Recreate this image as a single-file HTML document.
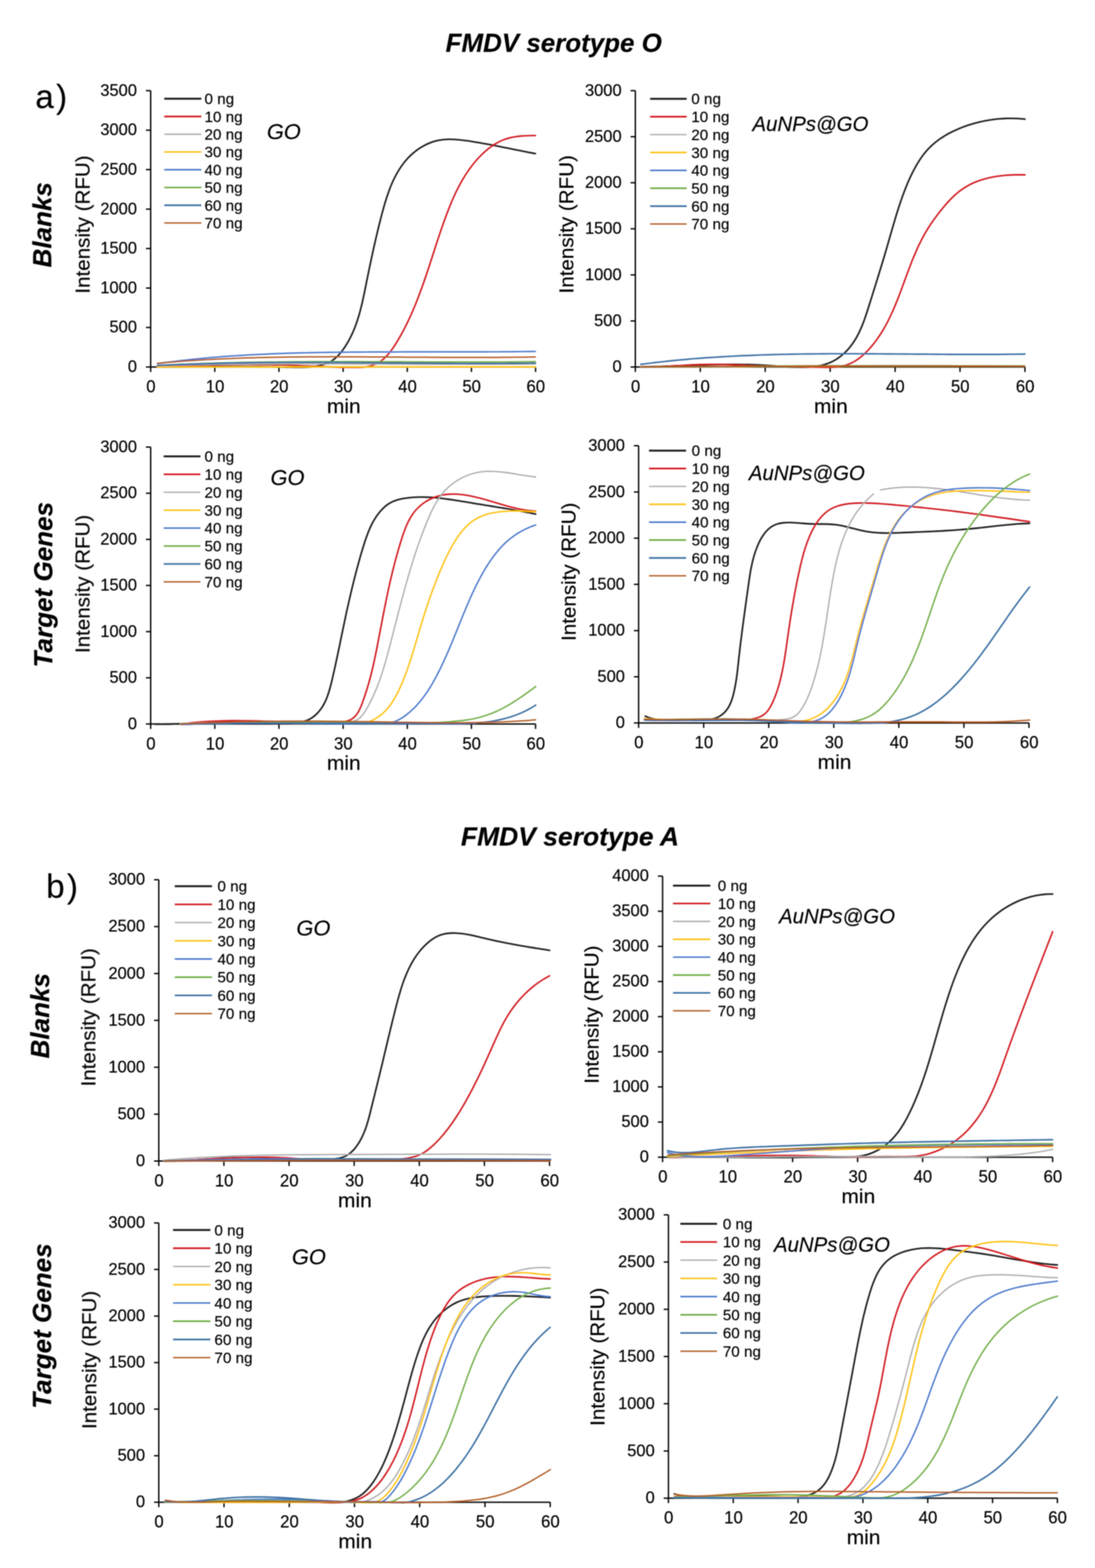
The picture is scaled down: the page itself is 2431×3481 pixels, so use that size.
<!DOCTYPE html>
<html><head><meta charset="utf-8"><title>FMDV serotype O / A</title>
<style>html,body{margin:0;padding:0;background:#fff;}svg{display:block;}text{font-family:"Liberation Sans", Arial, Helvetica, sans-serif;fill:#000;stroke:#000;stroke-width:0.35px;}</style></head><body>
<svg xmlns="http://www.w3.org/2000/svg" width="2431" height="3481" viewBox="0 0 2431 3481">
<defs><filter id="soft"><feGaussianBlur stdDeviation="1"/></filter></defs>
<rect width="2431" height="3481" fill="#fff"/>
<g filter="url(#soft)">
<text transform="translate(1229.3,115.3) scale(1.02,1)" font-size="56.5" font-weight="bold" font-style="italic" text-anchor="middle">FMDV serotype O</text>
<text transform="translate(1265.4,1876.7) scale(1.04,1)" font-size="56.5" font-weight="bold" font-style="italic" text-anchor="middle">FMDV serotype A</text>
<text x="78.5" y="239.5" font-size="73.5" letter-spacing="5">a)</text>
<text x="102.5" y="1993" font-size="73.5" letter-spacing="5">b)</text>
<text transform="translate(113.7,499) rotate(-90)" font-size="57.8" font-weight="bold" font-style="italic" text-anchor="middle">Blanks</text>
<text transform="translate(116.2,1298) rotate(-90)" font-size="57.8" font-weight="bold" font-style="italic" text-anchor="middle">Target Genes</text>
<text transform="translate(108.9,2255) rotate(-90)" font-size="57.8" font-weight="bold" font-style="italic" text-anchor="middle">Blanks</text>
<text transform="translate(113.2,2944) rotate(-90)" font-size="57.8" font-weight="bold" font-style="italic" text-anchor="middle">Target Genes</text>
<g id="A1">
<path d="M334.5,201.2 V814.8 H1189" fill="none" stroke="#000" stroke-width="3"/>
<text transform="translate(304,826.1) scale(0.975,1)" font-size="37.5" text-anchor="end">0</text>
<text transform="translate(304,738.4) scale(0.975,1)" font-size="37.5" text-anchor="end">500</text>
<text transform="translate(304,650.8) scale(0.975,1)" font-size="37.5" text-anchor="end">1000</text>
<text transform="translate(304,563.1) scale(0.975,1)" font-size="37.5" text-anchor="end">1500</text>
<text transform="translate(304,475.5) scale(0.975,1)" font-size="37.5" text-anchor="end">2000</text>
<text transform="translate(304,387.8) scale(0.975,1)" font-size="37.5" text-anchor="end">2500</text>
<text transform="translate(304,300.2) scale(0.975,1)" font-size="37.5" text-anchor="end">3000</text>
<text transform="translate(304,212.5) scale(0.975,1)" font-size="37.5" text-anchor="end">3500</text>
<text transform="translate(335,871) scale(0.99,1.04)" font-size="37.5" text-anchor="middle">0</text>
<text transform="translate(477.4,871) scale(0.99,1.04)" font-size="37.5" text-anchor="middle">10</text>
<text transform="translate(619.8,871) scale(0.99,1.04)" font-size="37.5" text-anchor="middle">20</text>
<text transform="translate(762.2,871) scale(0.99,1.04)" font-size="37.5" text-anchor="middle">30</text>
<text transform="translate(904.7,871) scale(0.99,1.04)" font-size="37.5" text-anchor="middle">40</text>
<text transform="translate(1047.1,871) scale(0.99,1.04)" font-size="37.5" text-anchor="middle">50</text>
<text transform="translate(1189.5,871) scale(0.99,1.04)" font-size="37.5" text-anchor="middle">60</text>
<path d="M324,814.8 h10.5 M324,727.1 h10.5 M324,639.5 h10.5 M324,551.8 h10.5 M324,464.2 h10.5 M324,376.5 h10.5 M324,288.9 h10.5 M324,201.2 h10.5 M334.5,814.8 v11 M476.9,814.8 v11 M619.3,814.8 v11 M761.8,814.8 v11 M904.2,814.8 v11 M1046.6,814.8 v11 M1189,814.8 v11" stroke="#000" stroke-width="3" fill="none"/>
<text transform="translate(763.2,916.8) scale(1.06,1)" font-size="44" text-anchor="middle">min</text>
<text transform="translate(199,498.4) rotate(-90) scale(1.015,1)" font-size="45" text-anchor="middle">Intensity (RFU)</text>
<text x="592.4" y="309" font-size="48.5" font-style="italic">GO</text>
<line x1="364.7" y1="219.2" x2="447" y2="219.2" stroke="#1a1a1a" stroke-width="4.2"/>
<text x="454" y="231.2" font-size="33.8">0 ng</text>
<line x1="364.7" y1="258.6" x2="447" y2="258.6" stroke="#d0141c" stroke-width="3.6"/>
<text x="454" y="270.6" font-size="33.8">10 ng</text>
<line x1="364.7" y1="298" x2="447" y2="298" stroke="#a8a8a8" stroke-width="2.8"/>
<text x="454" y="310" font-size="33.8">20 ng</text>
<line x1="364.7" y1="337.4" x2="447" y2="337.4" stroke="#ffc010" stroke-width="3.4"/>
<text x="454" y="349.4" font-size="33.8">30 ng</text>
<line x1="364.7" y1="376.8" x2="447" y2="376.8" stroke="#4a78cc" stroke-width="3.4"/>
<text x="454" y="388.8" font-size="33.8">40 ng</text>
<line x1="364.7" y1="416.2" x2="447" y2="416.2" stroke="#72ae48" stroke-width="3.6"/>
<text x="454" y="428.2" font-size="33.8">50 ng</text>
<line x1="364.7" y1="455.6" x2="447" y2="455.6" stroke="#3b6fa3" stroke-width="3.6"/>
<text x="454" y="467.6" font-size="33.8">60 ng</text>
<line x1="364.7" y1="495" x2="447" y2="495" stroke="#b05a24" stroke-width="3.0"/>
<text x="454" y="507" font-size="33.8">70 ng</text>
<g fill="none" stroke-linejoin="round" stroke-linecap="round">
<path d="M349.6,814.3 C352,814.3 359.1,814.4 363.8,814.4 C368.5,814.4 373.2,814.4 377.9,814.4 C382.6,814.5 387.3,814.5 392,814.4 C396.7,814.4 401.4,814.4 406.1,814.4 C410.7,814.4 415.4,814.4 420.1,814.3 C424.7,814.3 429.4,814.3 434,814.2 C438.7,814.2 443.3,814.2 448,814.1 C452.6,814.1 457.3,814.1 461.9,814 C466.5,814 471.2,814 475.8,813.9 C480.5,813.9 485.1,813.9 489.8,813.8 C494.4,813.8 499,813.8 503.7,813.8 C508.3,813.7 513,813.7 517.6,813.7 C522.3,813.7 526.9,813.7 531.6,813.7 C536.3,813.7 540.9,813.7 545.6,813.7 C550.3,813.7 555,813.7 559.6,813.7 C564.3,813.7 569,813.8 573.7,813.8 C578.4,813.9 583.1,813.9 587.9,814 C592.6,814 597.3,814.1 602.1,814.2 C606.8,814.3 611.6,814.4 616.3,814.5 C621.1,814.6 625.9,814.7 630.7,814.9 C635.5,815 640.3,815.2 645.1,815.3 C649.9,815.4 654.7,815.5 659.4,815.5 C664.2,815.5 668.9,815.5 673.6,815.4 C678.3,815.2 682.9,815 687.5,814.6 C692,814.3 696.5,813.8 700.9,813.1 C705.3,812.4 709.6,811.6 713.8,810.5 C718,809.3 722.1,808.1 726,806.4 C730,804.7 733.8,802.8 737.5,800.4 C741.1,798 744.6,795.2 748,792.1 C751.3,789 754.4,785.3 757.4,781.7 C760.4,778 763.3,773.9 765.9,769.9 C768.6,765.9 771.1,761.8 773.4,757.7 C775.8,753.5 777.9,749.3 780,745 C782,740.8 784,736.5 785.8,732.1 C787.6,727.8 789.2,723.4 790.8,718.9 C792.4,714.5 793.9,710 795.2,705.6 C796.6,701.1 797.9,696.5 799.2,692 C800.4,687.5 801.5,682.9 802.7,678.3 C803.8,673.7 804.8,669.2 805.8,664.6 C806.8,660 807.8,655.4 808.8,650.8 C809.7,646.2 810.6,641.6 811.6,637 C812.5,632.4 813.4,627.8 814.3,623.2 C815.3,618.7 816.2,614.1 817.1,609.6 C818,605 819,600.5 819.9,596 C820.9,591.4 821.8,586.9 822.8,582.4 C823.7,577.8 824.7,573.3 825.7,568.8 C826.7,564.3 827.6,559.8 828.6,555.3 C829.6,550.8 830.6,546.2 831.7,541.7 C832.7,537.2 833.7,532.7 834.8,528.1 C835.9,523.6 836.9,519.1 838,514.5 C839.1,510 840.2,505.5 841.3,500.9 C842.5,496.3 843.6,491.8 844.8,487.2 C845.9,482.6 847.1,478 848.3,473.4 C849.6,468.8 850.8,464.2 852.1,459.6 C853.4,455 854.7,450.4 856.2,445.9 C857.6,441.3 859,436.8 860.6,432.3 C862.1,427.8 863.7,423.3 865.4,418.9 C867.1,414.5 868.9,410.2 870.7,405.9 C872.6,401.6 874.6,397.4 876.7,393.3 C878.8,389.1 881,385.1 883.4,381.1 C885.7,377.1 888.2,373.3 890.8,369.5 C893.4,365.7 896.1,362.1 899,358.6 C901.9,355 905,351.6 908.2,348.3 C911.4,345.1 914.8,341.9 918.4,339 C921.9,336 925.6,333.2 929.4,330.6 C933.3,328 937.2,325.5 941.3,323.4 C945.3,321.2 949.5,319.2 953.8,317.5 C958,315.8 962.4,314.3 966.9,313.1 C971.3,312 975.8,311.1 980.4,310.5 C985,309.8 989.6,309.5 994.3,309.3 C998.9,309.2 1003.7,309.3 1008.4,309.5 C1013.1,309.7 1017.9,310.2 1022.6,310.7 C1027.4,311.1 1032.2,311.8 1036.9,312.5 C1041.7,313.1 1046.4,313.9 1051.1,314.7 C1055.8,315.4 1060.5,316.2 1065.2,317 C1069.8,317.9 1074.4,318.7 1079.1,319.5 C1083.7,320.4 1088.3,321.2 1092.9,322.1 C1097.4,323 1102,323.9 1106.6,324.8 C1111.1,325.7 1115.7,326.6 1120.2,327.5 C1124.8,328.4 1129.3,329.3 1133.9,330.2 C1138.4,331.1 1142.9,332.1 1147.5,333 C1152,333.9 1156.6,334.8 1161.1,335.7 C1165.7,336.6 1170.3,337.5 1174.8,338.4 C1179.4,339.3 1186.3,340.6 1188.6,341" stroke="#1a1a1a" stroke-width="3.6"/>
<path d="M349.7,813.6 C352,813.6 359.1,813.4 363.8,813.2 C368.5,813.1 373.2,813 377.9,812.8 C382.6,812.7 387.3,812.5 392.1,812.4 C396.8,812.3 401.5,812.1 406.2,812 C410.9,811.9 415.7,811.7 420.4,811.6 C425.1,811.5 429.8,811.4 434.5,811.2 C439.3,811.1 444,811 448.7,810.9 C453.4,810.8 458.2,810.7 462.9,810.6 C467.6,810.5 472.4,810.4 477.1,810.3 C481.8,810.2 486.5,810.1 491.3,810 C496,809.9 500.7,809.9 505.5,809.8 C510.2,809.7 514.9,809.7 519.6,809.6 C524.4,809.6 529.1,809.5 533.8,809.5 C538.5,809.5 543.2,809.5 548,809.4 C552.7,809.4 557.4,809.4 562.1,809.4 C566.8,809.5 571.6,809.5 576.3,809.5 C581,809.5 585.7,809.6 590.4,809.6 C595.1,809.7 599.8,809.8 604.5,809.9 C609.2,809.9 613.9,810 618.6,810.2 C623.3,810.3 628,810.4 632.7,810.5 C637.4,810.7 642.1,810.8 646.8,811 C651.5,811.2 656.2,811.3 660.9,811.5 C665.6,811.7 670.3,811.9 675,812.1 C679.7,812.3 684.4,812.5 689.1,812.7 C693.8,812.9 698.5,813.1 703.3,813.3 C708,813.5 712.7,813.7 717.5,813.9 C722.2,814.1 727,814.3 731.8,814.5 C736.6,814.7 741.4,814.9 746.2,815.1 C751,815.3 755.8,815.5 760.7,815.6 C765.5,815.7 770.4,815.6 775.2,815.6 C780.1,815.6 785,815.6 789.8,815.6 C794.6,815.6 799.4,815.7 804.1,815.3 C808.8,815 813.4,814.3 817.8,813.4 C822.2,812.4 826.5,811.3 830.6,809.7 C834.7,808.1 838.6,806.1 842.3,803.8 C846,801.5 849.5,798.7 852.9,795.7 C856.2,792.8 859.3,789.4 862.3,785.9 C865.3,782.4 868.2,778.6 871,774.8 C873.7,770.9 876.3,766.8 878.9,762.8 C881.4,758.7 883.9,754.6 886.3,750.4 C888.7,746.3 891,742.1 893.3,737.9 C895.6,733.7 897.8,729.5 899.9,725.2 C902.1,721 904.2,716.7 906.2,712.5 C908.3,708.2 910.2,703.9 912.2,699.6 C914.1,695.3 916,691 917.9,686.6 C919.7,682.3 921.5,677.9 923.3,673.6 C925,669.2 926.7,664.8 928.4,660.4 C930.1,656 931.8,651.6 933.4,647.2 C935,642.8 936.6,638.4 938.2,633.9 C939.8,629.5 941.3,625.1 942.9,620.6 C944.4,616.2 945.9,611.7 947.4,607.2 C948.9,602.8 950.4,598.3 951.9,593.8 C953.3,589.3 954.8,584.8 956.2,580.4 C957.7,575.9 959.2,571.4 960.6,566.9 C962.1,562.4 963.5,557.9 965,553.4 C966.4,548.9 967.9,544.4 969.4,539.9 C970.8,535.5 972.3,531 973.8,526.5 C975.3,522 976.8,517.5 978.3,513 C979.9,508.5 981.4,504.1 983,499.6 C984.5,495.1 986.1,490.7 987.8,486.2 C989.4,481.7 991,477.3 992.7,472.9 C994.4,468.4 996.1,464 997.9,459.6 C999.7,455.2 1001.5,450.8 1003.3,446.4 C1005.2,442.1 1007.1,437.7 1009.1,433.4 C1011.1,429.1 1013.1,424.9 1015.2,420.6 C1017.3,416.4 1019.5,412.2 1021.7,408.1 C1024,404 1026.3,399.9 1028.7,395.9 C1031.2,391.8 1033.6,387.8 1036.2,383.9 C1038.8,380 1041.5,376.2 1044.3,372.4 C1047.1,368.6 1050,364.9 1053,361.2 C1056,357.6 1059.1,354 1062.3,350.6 C1065.5,347.1 1068.9,343.7 1072.3,340.5 C1075.8,337.2 1079.3,334.1 1083,331.1 C1086.6,328.2 1090.4,325.4 1094.3,322.8 C1098.1,320.2 1102.1,317.8 1106.2,315.7 C1110.2,313.6 1114.4,311.7 1118.7,310 C1122.9,308.4 1127.3,307.1 1131.7,306 C1136.1,304.9 1140.6,304.1 1145.2,303.4 C1149.9,302.7 1154.5,302.2 1159.3,301.8 C1164.1,301.5 1168.9,301.3 1173.8,301.1 C1178.8,300.9 1186.3,300.9 1188.8,300.9" stroke="#d0141c" stroke-width="3.4"/>
<path d="M349.6,812.2 C352,812.1 359.1,811.9 363.9,811.7 C368.6,811.6 373.3,811.5 378.1,811.4 C382.8,811.2 387.6,811.1 392.3,811 C397,810.9 401.8,810.8 406.5,810.7 C411.2,810.6 416,810.5 420.7,810.4 C425.5,810.3 430.2,810.2 434.9,810.1 C439.7,810 444.4,809.9 449.2,809.8 C453.9,809.7 458.6,809.6 463.4,809.6 C468.1,809.5 472.9,809.4 477.6,809.3 C482.3,809.3 487.1,809.2 491.8,809.1 C496.6,809.1 501.3,809 506,808.9 C510.8,808.9 515.5,808.8 520.3,808.8 C525,808.7 529.7,808.7 534.5,808.6 C539.2,808.6 544,808.5 548.7,808.5 C553.4,808.4 558.2,808.4 562.9,808.4 C567.7,808.3 572.4,808.3 577.1,808.3 C581.9,808.2 586.6,808.2 591.4,808.2 C596.1,808.1 600.8,808.1 605.6,808.1 C610.3,808.1 615.1,808.1 619.8,808 C624.5,808 629.3,808 634,808 C638.8,808 643.5,808 648.2,807.9 C653,807.9 657.7,807.9 662.5,807.9 C667.2,807.9 671.9,807.9 676.7,807.9 C681.4,807.9 686.2,807.9 690.9,807.9 C695.6,807.9 700.4,807.9 705.1,807.9 C709.9,807.9 714.6,807.9 719.3,807.9 C724.1,807.9 728.8,807.9 733.6,807.9 C738.3,807.9 743.1,807.9 747.8,807.9 C752.5,807.9 757.3,808 762,808 C766.8,808 771.5,808 776.2,808 C781,808 785.7,808 790.5,808 C795.2,808 799.9,808.1 804.7,808.1 C809.4,808.1 814.2,808.1 818.9,808.1 C823.6,808.1 828.4,808.2 833.1,808.2 C837.9,808.2 842.6,808.2 847.3,808.2 C852.1,808.2 856.8,808.2 861.6,808.3 C866.3,808.3 871.1,808.3 875.8,808.3 C880.5,808.3 885.3,808.3 890,808.4 C894.8,808.4 899.5,808.4 904.2,808.4 C909,808.4 913.7,808.4 918.5,808.5 C923.2,808.5 927.9,808.5 932.7,808.5 C937.4,808.5 942.2,808.5 946.9,808.5 C951.6,808.6 956.4,808.6 961.1,808.6 C965.9,808.6 970.6,808.6 975.4,808.6 C980.1,808.6 984.8,808.6 989.6,808.6 C994.3,808.6 999.1,808.6 1003.8,808.7 C1008.5,808.7 1013.3,808.7 1018,808.7 C1022.8,808.7 1027.5,808.7 1032.2,808.7 C1037,808.7 1041.7,808.7 1046.5,808.7 C1051.2,808.7 1055.9,808.7 1060.7,808.7 C1065.4,808.6 1070.2,808.6 1074.9,808.6 C1079.6,808.6 1084.4,808.6 1089.1,808.6 C1093.9,808.6 1098.6,808.6 1103.4,808.6 C1108.1,808.5 1112.8,808.5 1117.6,808.5 C1122.3,808.5 1127.1,808.5 1131.8,808.4 C1136.5,808.4 1141.3,808.4 1146,808.4 C1150.8,808.3 1155.5,808.3 1160.2,808.3 C1165,808.2 1169.7,808.2 1174.5,808.2 C1179.2,808.1 1186.3,808 1188.7,808" stroke="#a8a8a8" stroke-width="2.8"/>
<path d="M349.7,814.7 C416.9,814.6 613.1,814.5 752.9,814.4 C892.8,814.4 1116.1,814.4 1188.7,814.4" stroke="#ffc010" stroke-width="3.2"/>
<path d="M349.6,807.3 C351.9,807 358.9,806 363.5,805.4 C368.2,804.7 372.8,804.1 377.4,803.5 C382.1,802.9 386.7,802.4 391.3,801.8 C396,801.2 400.6,800.7 405.2,800.2 C409.9,799.6 414.5,799.1 419.1,798.6 C423.8,798.1 428.4,797.7 433.1,797.2 C437.7,796.7 442.4,796.3 447,795.8 C451.6,795.4 456.3,794.9 460.9,794.5 C465.6,794.1 470.2,793.7 474.9,793.3 C479.5,792.9 484.2,792.6 488.8,792.2 C493.5,791.8 498.1,791.5 502.7,791.2 C507.4,790.8 512,790.5 516.7,790.2 C521.4,789.9 526,789.6 530.7,789.3 C535.3,789 540,788.7 544.6,788.4 C549.3,788.1 553.9,787.9 558.6,787.6 C563.2,787.4 567.9,787.1 572.5,786.9 C577.2,786.7 581.9,786.5 586.5,786.3 C591.2,786.1 595.8,785.8 600.5,785.7 C605.1,785.5 609.8,785.3 614.5,785.1 C619.1,784.9 623.8,784.8 628.4,784.6 C633.1,784.4 637.8,784.3 642.4,784.2 C647.1,784 651.8,783.9 656.4,783.7 C661.1,783.6 665.7,783.5 670.4,783.4 C675.1,783.3 679.7,783.2 684.4,783.1 C689.1,783 693.7,782.9 698.4,782.8 C703.1,782.7 707.7,782.6 712.4,782.5 C717.1,782.4 721.7,782.4 726.4,782.3 C731.1,782.2 735.7,782.2 740.4,782.1 C745.1,782 749.7,782 754.4,781.9 C759.1,781.9 763.7,781.8 768.4,781.8 C773.1,781.8 777.7,781.7 782.4,781.7 C787.1,781.6 791.8,781.6 796.4,781.6 C801.1,781.5 805.8,781.5 810.4,781.5 C815.1,781.5 819.8,781.4 824.4,781.4 C829.1,781.4 833.8,781.4 838.5,781.4 C843.1,781.3 847.8,781.3 852.5,781.3 C857.1,781.3 861.8,781.3 866.5,781.3 C871.2,781.3 875.8,781.3 880.5,781.3 C885.2,781.3 889.8,781.2 894.5,781.2 C899.2,781.2 903.9,781.2 908.5,781.2 C913.2,781.2 917.9,781.2 922.5,781.2 C927.2,781.2 931.9,781.2 936.6,781.2 C941.2,781.2 945.9,781.2 950.6,781.2 C955.3,781.2 959.9,781.2 964.6,781.2 C969.3,781.2 973.9,781.2 978.6,781.2 C983.3,781.2 987.9,781.2 992.6,781.2 C997.3,781.2 1002,781.2 1006.6,781.2 C1011.3,781.2 1016,781.2 1020.6,781.2 C1025.3,781.2 1030,781.2 1034.7,781.2 C1039.3,781.2 1044,781.2 1048.7,781.2 C1053.3,781.2 1058,781.2 1062.7,781.1 C1067.3,781.1 1072,781.1 1076.7,781.1 C1081.3,781.1 1086,781.1 1090.7,781 C1095.3,781 1100,781 1104.7,781 C1109.4,780.9 1114,780.9 1118.7,780.9 C1123.4,780.8 1128,780.8 1132.7,780.8 C1137.3,780.7 1142,780.7 1146.7,780.6 C1151.3,780.6 1156,780.5 1160.7,780.5 C1165.3,780.4 1170,780.4 1174.7,780.3 C1179.3,780.3 1186.3,780.2 1188.6,780.1" stroke="#4a78cc" stroke-width="3.2"/>
<path d="M349.6,811.3 C352,811.2 359.1,810.8 363.8,810.6 C368.6,810.3 373.3,810.1 378,809.9 C382.8,809.6 387.5,809.4 392.3,809.2 C397,809 401.7,808.8 406.5,808.6 C411.2,808.4 415.9,808.2 420.7,808 C425.4,807.8 430.2,807.7 434.9,807.5 C439.6,807.3 444.4,807.2 449.1,807 C453.8,806.8 458.6,806.7 463.3,806.5 C468.1,806.4 472.8,806.2 477.5,806.1 C482.3,806 487,805.8 491.7,805.7 C496.5,805.6 501.2,805.5 506,805.3 C510.7,805.2 515.4,805.1 520.2,805 C524.9,804.9 529.7,804.8 534.4,804.7 C539.1,804.6 543.9,804.5 548.6,804.4 C553.4,804.3 558.1,804.2 562.8,804.2 C567.6,804.1 572.3,804 577.1,803.9 C581.8,803.9 586.5,803.8 591.3,803.7 C596,803.7 600.8,803.6 605.5,803.6 C610.2,803.5 615,803.5 619.7,803.4 C624.5,803.4 629.2,803.3 633.9,803.3 C638.7,803.2 643.4,803.2 648.2,803.2 C652.9,803.1 657.6,803.1 662.4,803.1 C667.1,803 671.9,803 676.6,803 C681.3,803 686.1,802.9 690.8,802.9 C695.6,802.9 700.3,802.9 705,802.9 C709.8,802.9 714.5,802.9 719.3,802.9 C724,802.8 728.8,802.8 733.5,802.8 C738.2,802.8 743,802.8 747.7,802.8 C752.5,802.8 757.2,802.8 761.9,802.8 C766.7,802.8 771.4,802.9 776.2,802.9 C780.9,802.9 785.7,802.9 790.4,802.9 C795.1,802.9 799.9,802.9 804.6,802.9 C809.4,802.9 814.1,803 818.8,803 C823.6,803 828.3,803 833.1,803 C837.8,803 842.6,803.1 847.3,803.1 C852,803.1 856.8,803.1 861.5,803.1 C866.3,803.1 871,803.2 875.7,803.2 C880.5,803.2 885.2,803.2 890,803.2 C894.7,803.3 899.5,803.3 904.2,803.3 C908.9,803.3 913.7,803.3 918.4,803.4 C923.2,803.4 927.9,803.4 932.7,803.4 C937.4,803.4 942.1,803.5 946.9,803.5 C951.6,803.5 956.4,803.5 961.1,803.5 C965.8,803.5 970.6,803.6 975.3,803.6 C980.1,803.6 984.8,803.6 989.6,803.6 C994.3,803.6 999,803.6 1003.8,803.6 C1008.5,803.7 1013.3,803.7 1018,803.7 C1022.7,803.7 1027.5,803.7 1032.2,803.7 C1037,803.7 1041.7,803.7 1046.5,803.7 C1051.2,803.7 1055.9,803.7 1060.7,803.7 C1065.4,803.7 1070.2,803.7 1074.9,803.7 C1079.6,803.6 1084.4,803.6 1089.1,803.6 C1093.9,803.6 1098.6,803.6 1103.3,803.6 C1108.1,803.5 1112.8,803.5 1117.6,803.5 C1122.3,803.5 1127,803.4 1131.8,803.4 C1136.5,803.4 1141.3,803.3 1146,803.3 C1150.8,803.3 1155.5,803.2 1160.2,803.2 C1165,803.1 1169.7,803.1 1174.5,803 C1179.2,803 1186.3,802.9 1188.7,802.9" stroke="#72ae48" stroke-width="3.2"/>
<path d="M349.6,811.6 C352,811.4 359.1,811.1 363.8,810.8 C368.6,810.6 373.3,810.4 378.1,810.2 C382.8,810 387.5,809.8 392.3,809.6 C397,809.4 401.7,809.2 406.5,809 C411.2,808.8 416,808.6 420.7,808.4 C425.4,808.3 430.2,808.1 434.9,808 C439.6,807.8 444.4,807.6 449.1,807.5 C453.9,807.3 458.6,807.2 463.3,807.1 C468.1,806.9 472.8,806.8 477.5,806.7 C482.3,806.6 487,806.5 491.8,806.4 C496.5,806.2 501.2,806.1 506,806 C510.7,805.9 515.5,805.9 520.2,805.8 C524.9,805.7 529.7,805.6 534.4,805.5 C539.2,805.4 543.9,805.4 548.6,805.3 C553.4,805.2 558.1,805.2 562.8,805.1 C567.6,805.1 572.3,805 577.1,805 C581.8,804.9 586.5,804.9 591.3,804.8 C596,804.8 600.8,804.8 605.5,804.7 C610.2,804.7 615,804.7 619.7,804.6 C624.5,804.6 629.2,804.6 633.9,804.6 C638.7,804.6 643.4,804.6 648.2,804.6 C652.9,804.5 657.7,804.5 662.4,804.5 C667.1,804.5 671.9,804.5 676.6,804.5 C681.4,804.5 686.1,804.6 690.8,804.6 C695.6,804.6 700.3,804.6 705.1,804.6 C709.8,804.6 714.5,804.6 719.3,804.6 C724,804.7 728.8,804.7 733.5,804.7 C738.2,804.7 743,804.8 747.7,804.8 C752.5,804.8 757.2,804.8 762,804.9 C766.7,804.9 771.4,804.9 776.2,805 C780.9,805 785.7,805 790.4,805.1 C795.1,805.1 799.9,805.2 804.6,805.2 C809.4,805.2 814.1,805.3 818.9,805.3 C823.6,805.4 828.3,805.4 833.1,805.4 C837.8,805.5 842.6,805.5 847.3,805.6 C852,805.6 856.8,805.7 861.5,805.7 C866.3,805.7 871,805.8 875.8,805.8 C880.5,805.9 885.2,805.9 890,806 C894.7,806 899.5,806 904.2,806.1 C908.9,806.1 913.7,806.2 918.4,806.2 C923.2,806.2 927.9,806.3 932.7,806.3 C937.4,806.4 942.1,806.4 946.9,806.4 C951.6,806.5 956.4,806.5 961.1,806.5 C965.8,806.6 970.6,806.6 975.3,806.6 C980.1,806.7 984.8,806.7 989.6,806.7 C994.3,806.8 999,806.8 1003.8,806.8 C1008.5,806.8 1013.3,806.9 1018,806.9 C1022.7,806.9 1027.5,806.9 1032.2,806.9 C1037,806.9 1041.7,806.9 1046.5,807 C1051.2,807 1055.9,807 1060.7,807 C1065.4,807 1070.2,807 1074.9,807 C1079.6,807 1084.4,807 1089.1,807 C1093.9,807 1098.6,806.9 1103.3,806.9 C1108.1,806.9 1112.8,806.9 1117.6,806.9 C1122.3,806.8 1127,806.8 1131.8,806.8 C1136.5,806.8 1141.3,806.7 1146,806.7 C1150.8,806.6 1155.5,806.6 1160.2,806.6 C1165,806.5 1169.7,806.5 1174.5,806.4 C1179.2,806.3 1186.3,806.2 1188.7,806.2" stroke="#3b6fa3" stroke-width="3.4"/>
<path d="M349.6,806.5 C352,806.3 359.1,805.7 363.8,805.2 C368.5,804.8 373.3,804.4 378,804 C382.7,803.6 387.4,803.2 392.2,802.9 C396.9,802.5 401.6,802.2 406.4,801.8 C411.1,801.5 415.8,801.1 420.5,800.8 C425.3,800.5 430,800.2 434.7,799.9 C439.5,799.6 444.2,799.3 448.9,799 C453.7,798.7 458.4,798.5 463.1,798.2 C467.9,797.9 472.6,797.7 477.3,797.5 C482.1,797.2 486.8,797 491.5,796.8 C496.3,796.6 501,796.4 505.7,796.2 C510.5,796 515.2,795.8 520,795.6 C524.7,795.4 529.4,795.2 534.2,795.1 C538.9,794.9 543.6,794.8 548.4,794.6 C553.1,794.5 557.9,794.3 562.6,794.2 C567.3,794.1 572.1,793.9 576.8,793.8 C581.5,793.7 586.3,793.6 591,793.5 C595.8,793.4 600.5,793.3 605.2,793.2 C610,793.1 614.7,793 619.5,793 C624.2,792.9 628.9,792.8 633.7,792.8 C638.4,792.7 643.2,792.6 647.9,792.6 C652.7,792.5 657.4,792.5 662.1,792.4 C666.9,792.4 671.6,792.4 676.4,792.3 C681.1,792.3 685.8,792.3 690.6,792.2 C695.3,792.2 700.1,792.2 704.8,792.2 C709.6,792.2 714.3,792.2 719,792.2 C723.8,792.1 728.5,792.1 733.3,792.1 C738,792.1 742.8,792.1 747.5,792.1 C752.3,792.2 757,792.2 761.7,792.2 C766.5,792.2 771.2,792.2 776,792.2 C780.7,792.2 785.5,792.2 790.2,792.3 C795,792.3 799.7,792.3 804.4,792.3 C809.2,792.3 813.9,792.4 818.7,792.4 C823.4,792.4 828.2,792.4 832.9,792.4 C837.7,792.5 842.4,792.5 847.1,792.5 C851.9,792.6 856.6,792.6 861.4,792.6 C866.1,792.6 870.9,792.7 875.6,792.7 C880.4,792.7 885.1,792.8 889.9,792.8 C894.6,792.8 899.3,792.9 904.1,792.9 C908.8,792.9 913.6,792.9 918.3,793 C923.1,793 927.8,793 932.6,793.1 C937.3,793.1 942,793.1 946.8,793.1 C951.5,793.2 956.3,793.2 961,793.2 C965.8,793.2 970.5,793.3 975.3,793.3 C980,793.3 984.8,793.3 989.5,793.4 C994.2,793.4 999,793.4 1003.7,793.4 C1008.5,793.4 1013.2,793.4 1018,793.4 C1022.7,793.5 1027.4,793.5 1032.2,793.5 C1036.9,793.5 1041.7,793.5 1046.4,793.5 C1051.2,793.5 1055.9,793.5 1060.7,793.5 C1065.4,793.5 1070.1,793.5 1074.9,793.5 C1079.6,793.4 1084.4,793.4 1089.1,793.4 C1093.8,793.4 1098.6,793.4 1103.3,793.4 C1108.1,793.3 1112.8,793.3 1117.6,793.3 C1122.3,793.2 1127,793.2 1131.8,793.2 C1136.5,793.1 1141.3,793.1 1146,793 C1150.7,793 1155.5,792.9 1160.2,792.9 C1165,792.8 1169.7,792.8 1174.4,792.7 C1179.2,792.6 1186.3,792.5 1188.7,792.5" stroke="#b05a24" stroke-width="3.0"/>
</g>
</g>
<g id="A2">
<path d="M1410.5,201.2 V814.8 H2275.5" fill="none" stroke="#000" stroke-width="3"/>
<text transform="translate(1380,826.1) scale(0.975,1)" font-size="37.5" text-anchor="end">0</text>
<text transform="translate(1380,723.8) scale(0.975,1)" font-size="37.5" text-anchor="end">500</text>
<text transform="translate(1380,621.6) scale(0.975,1)" font-size="37.5" text-anchor="end">1000</text>
<text transform="translate(1380,519.3) scale(0.975,1)" font-size="37.5" text-anchor="end">1500</text>
<text transform="translate(1380,417) scale(0.975,1)" font-size="37.5" text-anchor="end">2000</text>
<text transform="translate(1380,314.8) scale(0.975,1)" font-size="37.5" text-anchor="end">2500</text>
<text transform="translate(1380,212.5) scale(0.975,1)" font-size="37.5" text-anchor="end">3000</text>
<text transform="translate(1411,871) scale(0.99,1.04)" font-size="37.5" text-anchor="middle">0</text>
<text transform="translate(1555.2,871) scale(0.99,1.04)" font-size="37.5" text-anchor="middle">10</text>
<text transform="translate(1699.3,871) scale(0.99,1.04)" font-size="37.5" text-anchor="middle">20</text>
<text transform="translate(1843.5,871) scale(0.99,1.04)" font-size="37.5" text-anchor="middle">30</text>
<text transform="translate(1987.7,871) scale(0.99,1.04)" font-size="37.5" text-anchor="middle">40</text>
<text transform="translate(2131.8,871) scale(0.99,1.04)" font-size="37.5" text-anchor="middle">50</text>
<text transform="translate(2276,871) scale(0.99,1.04)" font-size="37.5" text-anchor="middle">60</text>
<path d="M1400,814.8 h10.5 M1400,712.5 h10.5 M1400,610.3 h10.5 M1400,508 h10.5 M1400,405.7 h10.5 M1400,303.5 h10.5 M1400,201.2 h10.5 M1410.5,814.8 v11 M1554.7,814.8 v11 M1698.8,814.8 v11 M1843,814.8 v11 M1987.2,814.8 v11 M2131.3,814.8 v11 M2275.5,814.8 v11" stroke="#000" stroke-width="3" fill="none"/>
<text transform="translate(1844.5,916.8) scale(1.06,1)" font-size="44" text-anchor="middle">min</text>
<text transform="translate(1272.5,497.9) rotate(-90) scale(1.015,1)" font-size="45" text-anchor="middle">Intensity (RFU)</text>
<text x="1670.6" y="290.8" font-size="45.3" font-style="italic">AuNPs&#64;GO</text>
<line x1="1443.4" y1="219.4" x2="1524.5" y2="219.4" stroke="#1a1a1a" stroke-width="4.2"/>
<text x="1534.7" y="231.4" font-size="33.8">0 ng</text>
<line x1="1443.4" y1="259.1" x2="1524.5" y2="259.1" stroke="#d0141c" stroke-width="3.6"/>
<text x="1534.7" y="271.1" font-size="33.8">10 ng</text>
<line x1="1443.4" y1="298.8" x2="1524.5" y2="298.8" stroke="#a8a8a8" stroke-width="2.8"/>
<text x="1534.7" y="310.8" font-size="33.8">20 ng</text>
<line x1="1443.4" y1="338.5" x2="1524.5" y2="338.5" stroke="#ffc010" stroke-width="3.4"/>
<text x="1534.7" y="350.5" font-size="33.8">30 ng</text>
<line x1="1443.4" y1="378.2" x2="1524.5" y2="378.2" stroke="#4a78cc" stroke-width="3.4"/>
<text x="1534.7" y="390.2" font-size="33.8">40 ng</text>
<line x1="1443.4" y1="417.9" x2="1524.5" y2="417.9" stroke="#72ae48" stroke-width="3.6"/>
<text x="1534.7" y="429.9" font-size="33.8">50 ng</text>
<line x1="1443.4" y1="457.6" x2="1524.5" y2="457.6" stroke="#3b6fa3" stroke-width="3.6"/>
<text x="1534.7" y="469.6" font-size="33.8">60 ng</text>
<line x1="1443.4" y1="497.3" x2="1524.5" y2="497.3" stroke="#b05a24" stroke-width="3.0"/>
<text x="1534.7" y="509.3" font-size="33.8">70 ng</text>
<g fill="none" stroke-linejoin="round" stroke-linecap="round">
<path d="M1422.4,814.5 C1424.8,814.4 1432,814.3 1436.8,814.2 C1441.6,814.1 1446.4,814 1451.2,813.9 C1455.9,813.8 1460.7,813.7 1465.4,813.5 C1470.2,813.4 1474.9,813.2 1479.6,813.1 C1484.3,812.9 1489.1,812.8 1493.8,812.6 C1498.5,812.4 1503.1,812.3 1507.8,812.1 C1512.5,811.9 1517.2,811.8 1521.8,811.6 C1526.5,811.4 1531.2,811.2 1535.8,811.1 C1540.5,810.9 1545.2,810.8 1549.8,810.6 C1554.5,810.4 1559.1,810.3 1563.8,810.2 C1568.4,810 1573.1,809.9 1577.7,809.8 C1582.4,809.6 1587,809.5 1591.7,809.4 C1596.3,809.3 1601,809.3 1605.7,809.2 C1610.3,809.1 1615,809.1 1619.7,809.1 C1624.4,809 1629.1,809 1633.7,809.1 C1638.4,809.1 1643.1,809.1 1647.9,809.2 C1652.6,809.2 1657.3,809.3 1662,809.4 C1666.8,809.5 1671.5,809.7 1676.3,809.9 C1681,810 1685.8,810.2 1690.6,810.5 C1695.4,810.7 1700.2,811 1705,811.3 C1709.9,811.6 1714.7,811.9 1719.5,812.2 C1724.4,812.5 1729.2,812.9 1734.1,813.2 C1738.9,813.5 1743.8,813.9 1748.6,814.1 C1753.4,814.4 1758.2,814.6 1763,814.8 C1767.8,815 1772.5,815.1 1777.2,815.1 C1782,815.1 1786.6,815.1 1791.3,814.9 C1795.9,814.7 1800.5,814.5 1805,814 C1809.6,813.5 1814.1,812.9 1818.5,812.1 C1822.9,811.3 1827.2,810.3 1831.5,809 C1835.8,807.7 1840,806.2 1844.1,804.3 C1848.2,802.5 1852.2,800.4 1856.2,798 C1860.1,795.6 1863.9,792.8 1867.5,789.9 C1871.2,787 1874.7,783.8 1878.1,780.5 C1881.4,777.1 1884.6,773.5 1887.5,769.8 C1890.5,766.1 1893.3,762.3 1895.9,758.3 C1898.5,754.4 1900.9,750.3 1903.1,746.1 C1905.4,742 1907.5,737.8 1909.4,733.5 C1911.4,729.3 1913.2,724.9 1914.9,720.6 C1916.7,716.2 1918.3,711.8 1919.9,707.3 C1921.4,702.9 1922.9,698.4 1924.4,693.9 C1925.9,689.4 1927.3,684.9 1928.7,680.4 C1930.1,675.9 1931.6,671.3 1933,666.8 C1934.4,662.3 1935.8,657.8 1937.3,653.2 C1938.7,648.7 1940.1,644.2 1941.5,639.6 C1942.9,635.1 1944.3,630.6 1945.8,626 C1947.2,621.5 1948.6,617 1950,612.4 C1951.4,607.9 1952.7,603.3 1954.1,598.8 C1955.5,594.3 1956.9,589.7 1958.3,585.2 C1959.6,580.6 1961,576.1 1962.4,571.6 C1963.7,567 1965.1,562.5 1966.4,558 C1967.7,553.5 1969.1,548.9 1970.4,544.4 C1971.7,539.9 1973,535.4 1974.3,530.8 C1975.6,526.3 1976.9,521.8 1978.2,517.3 C1979.5,512.8 1980.8,508.3 1982.1,503.8 C1983.4,499.3 1984.7,494.8 1986,490.4 C1987.4,485.9 1988.7,481.4 1990,477 C1991.4,472.5 1992.8,468 1994.2,463.6 C1995.6,459.1 1997.1,454.7 1998.6,450.3 C2000.1,445.8 2001.6,441.4 2003.2,437 C2004.8,432.6 2006.4,428.2 2008.1,423.8 C2009.8,419.4 2011.5,415 2013.3,410.7 C2015.1,406.3 2017,401.9 2019,397.6 C2020.9,393.3 2022.9,388.9 2025.1,384.7 C2027.2,380.4 2029.4,376.1 2031.7,371.9 C2034,367.8 2036.4,363.6 2038.9,359.6 C2041.4,355.6 2044,351.6 2046.8,347.8 C2049.5,344 2052.4,340.3 2055.4,336.7 C2058.5,333.1 2061.6,329.7 2064.9,326.4 C2068.2,323.2 2071.7,320 2075.3,317.1 C2078.9,314.1 2082.6,311.3 2086.4,308.6 C2090.3,306 2094.2,303.4 2098.2,301 C2102.3,298.6 2106.4,296.4 2110.6,294.2 C2114.8,292 2119.1,290 2123.4,288.1 C2127.7,286.2 2132,284.3 2136.4,282.6 C2140.9,280.9 2145.3,279.3 2149.8,277.8 C2154.3,276.3 2158.8,275 2163.4,273.7 C2167.9,272.4 2172.5,271.3 2177.2,270.2 C2181.8,269.2 2186.4,268.2 2191.1,267.4 C2195.7,266.6 2200.4,265.8 2205.1,265.2 C2209.8,264.6 2214.5,264.1 2219.2,263.8 C2223.9,263.4 2228.6,263.1 2233.3,262.9 C2238,262.8 2242.7,262.7 2247.4,262.8 C2252.1,262.8 2256.8,263 2261.5,263.3 C2266.2,263.6 2273.1,264.3 2275.5,264.5" stroke="#1a1a1a" stroke-width="3.6"/>
<path d="M1422.5,814.4 C1424.8,814.4 1431.9,814.6 1436.5,814.6 C1441.2,814.6 1445.9,814.5 1450.6,814.4 C1455.3,814.3 1460,814.1 1464.6,814 C1469.3,813.8 1474,813.5 1478.7,813.3 C1483.4,813.1 1488,812.8 1492.7,812.5 C1497.4,812.2 1502.1,811.9 1506.8,811.6 C1511.5,811.4 1516.1,811.1 1520.8,810.8 C1525.5,810.5 1530.2,810.3 1534.9,810 C1539.5,809.8 1544.2,809.6 1548.9,809.4 C1553.6,809.3 1558.3,809.1 1563,809.1 C1567.6,809 1572.3,809 1577,809 C1581.7,809 1586.4,809 1591,809.1 C1595.7,809.1 1600.4,809.2 1605.1,809.4 C1609.8,809.5 1614.5,809.6 1619.1,809.8 C1623.8,809.9 1628.5,810.1 1633.2,810.3 C1637.9,810.5 1642.5,810.7 1647.2,810.8 C1651.9,811 1656.6,811.2 1661.2,811.4 C1665.9,811.6 1670.6,811.8 1675.3,811.9 C1679.9,812.1 1684.6,812.3 1689.3,812.4 C1693.9,812.5 1698.6,812.7 1703.3,812.8 C1708,812.9 1712.6,813 1717.3,813.1 C1722,813.2 1726.6,813.2 1731.3,813.3 C1736,813.4 1740.7,813.5 1745.4,813.5 C1750.1,813.6 1754.8,813.7 1759.5,813.8 C1764.2,813.8 1768.9,813.9 1773.6,814 C1778.3,814.1 1783,814.2 1787.8,814.3 C1792.5,814.4 1797.3,814.5 1802,814.6 C1806.8,814.8 1811.6,814.9 1816.4,815.1 C1821.1,815.2 1825.9,815.4 1830.7,815.5 C1835.5,815.5 1840.2,815.6 1844.9,815.4 C1849.6,815.3 1854.3,815 1858.9,814.5 C1863.5,814 1868,813.3 1872.4,812.2 C1876.8,811.2 1881.1,809.8 1885.2,808.1 C1889.4,806.4 1893.4,804.4 1897.3,802.1 C1901.2,799.8 1905,797.1 1908.7,794.3 C1912.4,791.5 1915.9,788.5 1919.3,785.3 C1922.7,782.1 1926,778.7 1929.2,775.3 C1932.4,771.8 1935.4,768.2 1938.4,764.6 C1941.3,761 1944.1,757.3 1946.8,753.5 C1949.6,749.8 1952.2,745.9 1954.7,742 C1957.2,738.1 1959.6,734.2 1961.9,730.2 C1964.3,726.2 1966.5,722.1 1968.7,718 C1970.9,713.9 1972.9,709.8 1975,705.6 C1977,701.4 1979,697.2 1980.9,692.9 C1982.8,688.7 1984.7,684.4 1986.5,680 C1988.3,675.7 1990.1,671.3 1991.8,667 C1993.6,662.6 1995.3,658.2 1996.9,653.8 C1998.6,649.4 2000.3,645 2001.9,640.5 C2003.6,636.1 2005.2,631.6 2006.8,627.2 C2008.5,622.8 2010.1,618.3 2011.7,613.9 C2013.4,609.4 2015,605 2016.7,600.6 C2018.3,596.1 2020,591.7 2021.7,587.3 C2023.4,582.9 2025.1,578.5 2026.9,574.2 C2028.7,569.8 2030.5,565.5 2032.4,561.2 C2034.2,556.9 2036.1,552.6 2038.1,548.3 C2040.1,544.1 2042.1,539.9 2044.2,535.7 C2046.3,531.6 2048.4,527.4 2050.7,523.4 C2052.9,519.3 2055.2,515.3 2057.6,511.3 C2060,507.3 2062.5,503.4 2065.1,499.5 C2067.6,495.6 2070.3,491.8 2073,488 C2075.7,484.2 2078.5,480.4 2081.3,476.7 C2084.1,473 2087,469.3 2090,465.6 C2093,462 2096,458.3 2099.1,454.7 C2102.2,451.2 2105.3,447.6 2108.6,444.2 C2111.9,440.8 2115.2,437.5 2118.6,434.3 C2122,431.2 2125.6,428.1 2129.2,425.2 C2132.9,422.4 2136.6,419.7 2140.5,417.2 C2144.3,414.7 2148.3,412.4 2152.4,410.2 C2156.5,408.1 2160.6,406.2 2164.9,404.4 C2169.2,402.7 2173.5,401.1 2177.9,399.6 C2182.3,398.2 2186.8,396.9 2191.3,395.8 C2195.9,394.6 2200.5,393.6 2205.1,392.8 C2209.7,391.9 2214.4,391.2 2219.1,390.6 C2223.8,390 2228.5,389.5 2233.2,389.1 C2237.9,388.7 2242.7,388.5 2247.4,388.3 C2252.1,388.1 2256.8,388 2261.5,388 C2266.2,388 2273.2,388.2 2275.5,388.3" stroke="#d0141c" stroke-width="3.4"/>
<path d="M1422.5,814.7 C1456.1,814.6 1558.6,814.4 1624.6,814.1 C1690.6,813.8 1710.2,812.9 1818.6,812.7 C1927,812.5 2198.9,812.7 2275,812.7" stroke="#a8a8a8" stroke-width="2.8"/>
<path d="M1422.5,814.7 C1456.1,814.6 1558.6,814.7 1624.6,814.4 C1690.6,814.1 1710.2,813.3 1818.6,813 C1927,812.8 2198.9,813 2275,813" stroke="#ffc010" stroke-width="3.2"/>
<path d="M1422.5,814.7 C1456.1,814.5 1558.6,814.2 1624.6,813.8 C1690.6,813.4 1710.2,812.5 1818.6,812.4 C1927,812.2 2198.9,812.6 2275,812.7" stroke="#4a78cc" stroke-width="3.2"/>
<path d="M1422.5,814.7 C1456.1,814.5 1558.6,814 1624.6,813.5 C1690.6,813.1 1710.2,812.2 1818.6,812 C1927,811.8 2198.9,812.3 2275,812.4" stroke="#72ae48" stroke-width="3.2"/>
<path d="M1422.4,808.9 C1424.8,808.6 1431.7,807.6 1436.4,807.1 C1441,806.5 1445.6,805.9 1450.3,805.4 C1454.9,804.8 1459.5,804.3 1464.2,803.8 C1468.8,803.2 1473.5,802.7 1478.1,802.2 C1482.7,801.7 1487.4,801.3 1492,800.8 C1496.7,800.3 1501.3,799.9 1505.9,799.4 C1510.6,799 1515.2,798.6 1519.9,798.2 C1524.5,797.7 1529.2,797.3 1533.8,796.9 C1538.5,796.6 1543.1,796.2 1547.8,795.8 C1552.4,795.5 1557.1,795.1 1561.7,794.8 C1566.4,794.4 1571,794.1 1575.7,793.8 C1580.3,793.5 1585,793.2 1589.6,792.9 C1594.3,792.6 1598.9,792.3 1603.6,792 C1608.2,791.7 1612.9,791.5 1617.5,791.2 C1622.2,791 1626.8,790.7 1631.5,790.5 C1636.2,790.3 1640.8,790 1645.5,789.8 C1650.1,789.6 1654.8,789.4 1659.4,789.2 C1664.1,789 1668.8,788.8 1673.4,788.7 C1678.1,788.5 1682.7,788.3 1687.4,788.1 C1692.1,788 1696.7,787.8 1701.4,787.7 C1706,787.5 1710.7,787.4 1715.4,787.3 C1720,787.2 1724.7,787 1729.4,786.9 C1734,786.8 1738.7,786.7 1743.4,786.6 C1748,786.5 1752.7,786.4 1757.3,786.3 C1762,786.2 1766.7,786.2 1771.3,786.1 C1776,786 1780.7,786 1785.3,785.9 C1790,785.8 1794.7,785.8 1799.3,785.7 C1804,785.7 1808.7,785.6 1813.3,785.6 C1818,785.6 1822.7,785.5 1827.3,785.5 C1832,785.5 1836.7,785.5 1841.3,785.4 C1846,785.4 1850.7,785.4 1855.4,785.4 C1860,785.4 1864.7,785.4 1869.4,785.4 C1874,785.4 1878.7,785.4 1883.4,785.4 C1888,785.4 1892.7,785.4 1897.4,785.4 C1902,785.4 1906.7,785.4 1911.4,785.4 C1916.1,785.4 1920.7,785.4 1925.4,785.5 C1930.1,785.5 1934.7,785.5 1939.4,785.5 C1944.1,785.6 1948.7,785.6 1953.4,785.6 C1958.1,785.6 1962.8,785.7 1967.4,785.7 C1972.1,785.7 1976.8,785.8 1981.4,785.8 C1986.1,785.8 1990.8,785.9 1995.5,785.9 C2000.1,785.9 2004.8,786 2009.5,786 C2014.1,786 2018.8,786.1 2023.5,786.1 C2028.1,786.1 2032.8,786.2 2037.5,786.2 C2042.2,786.2 2046.8,786.3 2051.5,786.3 C2056.2,786.4 2060.8,786.4 2065.5,786.4 C2070.2,786.5 2074.8,786.5 2079.5,786.5 C2084.2,786.5 2088.9,786.6 2093.5,786.6 C2098.2,786.6 2102.9,786.6 2107.5,786.7 C2112.2,786.7 2116.9,786.7 2121.5,786.7 C2126.2,786.8 2130.9,786.8 2135.5,786.8 C2140.2,786.8 2144.9,786.8 2149.5,786.8 C2154.2,786.8 2158.9,786.8 2163.5,786.8 C2168.2,786.8 2172.9,786.8 2177.5,786.8 C2182.2,786.8 2186.9,786.8 2191.5,786.8 C2196.2,786.8 2200.9,786.8 2205.5,786.7 C2210.2,786.7 2214.9,786.7 2219.5,786.7 C2224.2,786.6 2228.8,786.6 2233.5,786.5 C2238.2,786.5 2242.8,786.5 2247.5,786.4 C2252.2,786.4 2256.8,786.3 2261.5,786.2 C2266.1,786.2 2273.1,786.1 2275.5,786" stroke="#3b6fa3" stroke-width="3.4"/>
<path d="M1422.5,814.4 C1424.8,814.4 1431.9,814.4 1436.7,814.3 C1441.4,814.3 1446.1,814.3 1450.9,814.3 C1455.6,814.3 1460.3,814.2 1465.1,814.2 C1469.8,814.2 1474.6,814.2 1479.3,814.1 C1484,814.1 1488.8,814.1 1493.5,814.1 C1498.2,814.1 1503,814 1507.7,814 C1512.4,814 1517.2,814 1521.9,813.9 C1526.7,813.9 1531.4,813.9 1536.1,813.9 C1540.9,813.9 1545.6,813.8 1550.3,813.8 C1555.1,813.8 1559.8,813.8 1564.5,813.7 C1569.3,813.7 1574,813.7 1578.7,813.7 C1583.5,813.6 1588.2,813.6 1593,813.6 C1597.7,813.6 1602.4,813.6 1607.2,813.5 C1611.9,813.5 1616.6,813.5 1621.4,813.5 C1626.1,813.4 1630.8,813.4 1635.6,813.4 C1640.3,813.4 1645.1,813.4 1649.8,813.3 C1654.5,813.3 1659.3,813.3 1664,813.3 C1668.7,813.2 1673.5,813.2 1678.2,813.2 C1682.9,813.2 1687.7,813.2 1692.4,813.1 C1697.2,813.1 1701.9,813.1 1706.6,813.1 C1711.4,813.1 1716.1,813 1720.8,813 C1725.6,813 1730.3,813 1735,813 C1739.8,812.9 1744.5,812.9 1749.2,812.9 C1754,812.9 1758.7,812.9 1763.5,812.9 C1768.2,812.8 1772.9,812.8 1777.7,812.8 C1782.4,812.8 1787.1,812.8 1791.9,812.7 C1796.6,812.7 1801.3,812.7 1806.1,812.7 C1810.8,812.7 1815.6,812.7 1820.3,812.7 C1825,812.6 1829.8,812.6 1834.5,812.6 C1839.2,812.6 1844,812.6 1848.7,812.6 C1853.4,812.6 1858.2,812.5 1862.9,812.5 C1867.7,812.5 1872.4,812.5 1877.1,812.5 C1881.9,812.5 1886.6,812.5 1891.3,812.5 C1896.1,812.4 1900.8,812.4 1905.5,812.4 C1910.3,812.4 1915,812.4 1919.7,812.4 C1924.5,812.4 1929.2,812.4 1934,812.4 C1938.7,812.4 1943.4,812.4 1948.2,812.3 C1952.9,812.3 1957.6,812.3 1962.4,812.3 C1967.1,812.3 1971.8,812.3 1976.6,812.3 C1981.3,812.3 1986.1,812.3 1990.8,812.3 C1995.5,812.3 2000.3,812.3 2005,812.3 C2009.7,812.3 2014.5,812.3 2019.2,812.3 C2023.9,812.3 2028.7,812.3 2033.4,812.3 C2038.2,812.3 2042.9,812.3 2047.6,812.3 C2052.4,812.3 2057.1,812.3 2061.8,812.3 C2066.6,812.3 2071.3,812.3 2076,812.3 C2080.8,812.3 2085.5,812.3 2090.2,812.3 C2095,812.3 2099.7,812.3 2104.5,812.3 C2109.2,812.4 2113.9,812.4 2118.7,812.4 C2123.4,812.4 2128.1,812.4 2132.9,812.4 C2137.6,812.4 2142.3,812.4 2147.1,812.4 C2151.8,812.4 2156.6,812.5 2161.3,812.5 C2166,812.5 2170.8,812.5 2175.5,812.5 C2180.2,812.5 2185,812.6 2189.7,812.6 C2194.4,812.6 2199.2,812.6 2203.9,812.6 C2208.6,812.6 2213.4,812.7 2218.1,812.7 C2222.9,812.7 2227.6,812.7 2232.3,812.8 C2237.1,812.8 2241.8,812.8 2246.5,812.8 C2251.3,812.9 2256,812.9 2260.7,812.9 C2265.5,812.9 2272.6,813 2275,813" stroke="#b05a24" stroke-width="3.0"/>
</g>
</g>
<g id="A3">
<path d="M334.5,992.4 V1607.3 H1189" fill="none" stroke="#000" stroke-width="3"/>
<text transform="translate(304,1618.6) scale(0.975,1)" font-size="37.5" text-anchor="end">0</text>
<text transform="translate(304,1516.1) scale(0.975,1)" font-size="37.5" text-anchor="end">500</text>
<text transform="translate(304,1413.6) scale(0.975,1)" font-size="37.5" text-anchor="end">1000</text>
<text transform="translate(304,1311.1) scale(0.975,1)" font-size="37.5" text-anchor="end">1500</text>
<text transform="translate(304,1208.7) scale(0.975,1)" font-size="37.5" text-anchor="end">2000</text>
<text transform="translate(304,1106.2) scale(0.975,1)" font-size="37.5" text-anchor="end">2500</text>
<text transform="translate(304,1003.7) scale(0.975,1)" font-size="37.5" text-anchor="end">3000</text>
<text transform="translate(335,1663.5) scale(0.99,1.04)" font-size="37.5" text-anchor="middle">0</text>
<text transform="translate(477.4,1663.5) scale(0.99,1.04)" font-size="37.5" text-anchor="middle">10</text>
<text transform="translate(619.8,1663.5) scale(0.99,1.04)" font-size="37.5" text-anchor="middle">20</text>
<text transform="translate(762.2,1663.5) scale(0.99,1.04)" font-size="37.5" text-anchor="middle">30</text>
<text transform="translate(904.7,1663.5) scale(0.99,1.04)" font-size="37.5" text-anchor="middle">40</text>
<text transform="translate(1047.1,1663.5) scale(0.99,1.04)" font-size="37.5" text-anchor="middle">50</text>
<text transform="translate(1189.5,1663.5) scale(0.99,1.04)" font-size="37.5" text-anchor="middle">60</text>
<path d="M324,1607.3 h10.5 M324,1504.8 h10.5 M324,1402.3 h10.5 M324,1299.8 h10.5 M324,1197.4 h10.5 M324,1094.9 h10.5 M324,992.4 h10.5 M334.5,1607.3 v11 M476.9,1607.3 v11 M619.3,1607.3 v11 M761.8,1607.3 v11 M904.2,1607.3 v11 M1046.6,1607.3 v11 M1189,1607.3 v11" stroke="#000" stroke-width="3" fill="none"/>
<text transform="translate(763.2,1709.3) scale(1.06,1)" font-size="44" text-anchor="middle">min</text>
<text transform="translate(198.9,1296.3) rotate(-90) scale(1.015,1)" font-size="45" text-anchor="middle">Intensity (RFU)</text>
<text x="600.5" y="1077" font-size="48.5" font-style="italic">GO</text>
<line x1="363.4" y1="1013.2" x2="445" y2="1013.2" stroke="#1a1a1a" stroke-width="4.2"/>
<text x="454" y="1025.2" font-size="33.8">0 ng</text>
<line x1="363.4" y1="1053" x2="445" y2="1053" stroke="#d0141c" stroke-width="3.6"/>
<text x="454" y="1065" font-size="33.8">10 ng</text>
<line x1="363.4" y1="1092.8" x2="445" y2="1092.8" stroke="#a8a8a8" stroke-width="2.8"/>
<text x="454" y="1104.8" font-size="33.8">20 ng</text>
<line x1="363.4" y1="1132.6" x2="445" y2="1132.6" stroke="#ffc010" stroke-width="3.4"/>
<text x="454" y="1144.6" font-size="33.8">30 ng</text>
<line x1="363.4" y1="1172.4" x2="445" y2="1172.4" stroke="#4a78cc" stroke-width="3.4"/>
<text x="454" y="1184.4" font-size="33.8">40 ng</text>
<line x1="363.4" y1="1212.2" x2="445" y2="1212.2" stroke="#72ae48" stroke-width="3.6"/>
<text x="454" y="1224.2" font-size="33.8">50 ng</text>
<line x1="363.4" y1="1252" x2="445" y2="1252" stroke="#3b6fa3" stroke-width="3.6"/>
<text x="454" y="1264" font-size="33.8">60 ng</text>
<line x1="363.4" y1="1291.8" x2="445" y2="1291.8" stroke="#b05a24" stroke-width="3.0"/>
<text x="454" y="1303.8" font-size="33.8">70 ng</text>
<g fill="none" stroke-linejoin="round" stroke-linecap="round">
<path d="M344,1607.6 C346.3,1607.6 353.5,1607.7 358.2,1607.7 C362.9,1607.7 367.6,1607.6 372.3,1607.6 C377.1,1607.5 381.7,1607.4 386.4,1607.3 C391.1,1607.2 395.8,1607 400.5,1606.9 C405.2,1606.7 409.8,1606.5 414.5,1606.3 C419.2,1606.1 423.9,1605.9 428.5,1605.7 C433.2,1605.5 437.9,1605.3 442.5,1605.1 C447.2,1604.9 451.8,1604.6 456.5,1604.4 C461.2,1604.2 465.9,1604 470.5,1603.8 C475.2,1603.6 479.9,1603.4 484.6,1603.2 C489.3,1603 494,1602.8 498.7,1602.7 C503.4,1602.5 508.1,1602.4 512.8,1602.3 C517.5,1602.2 522.3,1602.1 527,1602 C531.7,1601.9 536.5,1601.8 541.2,1601.8 C546,1601.7 550.7,1601.7 555.4,1601.7 C560.2,1601.7 564.9,1601.7 569.7,1601.7 C574.4,1601.7 579.2,1601.7 583.9,1601.8 C588.7,1601.9 593.4,1601.9 598.1,1602 C602.9,1602.1 607.6,1602.2 612.3,1602.3 C617.1,1602.5 621.8,1602.6 626.5,1602.8 C631.2,1602.9 635.9,1603.1 640.6,1603.3 C645.3,1603.4 650,1603.7 654.6,1603.6 C659.2,1603.6 663.8,1603.5 668.2,1602.8 C672.6,1602.1 677,1601.1 681.1,1599.5 C685.2,1597.9 689.3,1595.7 693,1593.2 C696.8,1590.7 700.3,1587.6 703.6,1584.4 C706.9,1581.1 709.9,1577.5 712.6,1573.8 C715.3,1570 717.7,1566 719.8,1561.9 C722,1557.8 723.9,1553.6 725.6,1549.2 C727.3,1544.9 728.8,1540.4 730.2,1535.8 C731.6,1531.3 732.9,1526.7 734.1,1522 C735.3,1517.4 736.4,1512.7 737.5,1508.1 C738.6,1503.4 739.6,1498.8 740.7,1494.1 C741.8,1489.5 742.8,1484.9 743.8,1480.3 C744.8,1475.6 745.8,1471 746.8,1466.4 C747.8,1461.8 748.8,1457.2 749.8,1452.6 C750.7,1448 751.7,1443.4 752.7,1438.9 C753.6,1434.3 754.6,1429.7 755.5,1425.1 C756.5,1420.5 757.4,1415.9 758.3,1411.4 C759.3,1406.8 760.2,1402.2 761.2,1397.6 C762.1,1393.1 763.1,1388.5 764.1,1383.9 C765,1379.3 766,1374.8 767,1370.2 C767.9,1365.6 768.9,1361 769.9,1356.4 C770.9,1351.8 771.9,1347.2 773,1342.6 C774,1338.1 775,1333.5 776.1,1328.9 C777.2,1324.3 778.2,1319.7 779.3,1315.1 C780.4,1310.5 781.5,1305.9 782.6,1301.3 C783.7,1296.8 784.9,1292.2 786,1287.6 C787.2,1283 788.3,1278.5 789.5,1273.9 C790.7,1269.3 791.9,1264.8 793.1,1260.2 C794.4,1255.7 795.6,1251.1 796.9,1246.6 C798.1,1242.1 799.4,1237.6 800.7,1233 C802.1,1228.5 803.4,1224 804.7,1219.6 C806.1,1215.1 807.5,1210.6 808.9,1206.1 C810.3,1201.7 811.8,1197.3 813.3,1192.9 C814.9,1188.5 816.5,1184.1 818.2,1179.8 C820,1175.4 821.8,1171.2 823.9,1166.9 C826,1162.7 828.1,1158.5 830.6,1154.4 C833,1150.3 835.7,1146.3 838.6,1142.3 C841.5,1138.4 844.7,1134.5 848.1,1131 C851.4,1127.5 855.1,1124.1 858.8,1121.3 C862.6,1118.5 866.5,1116.2 870.6,1114.2 C874.6,1112.2 878.9,1110.8 883.1,1109.5 C887.4,1108.3 891.8,1107.4 896.2,1106.6 C900.6,1105.8 905.1,1105.2 909.6,1104.7 C914.1,1104.2 918.7,1103.9 923.3,1103.7 C927.9,1103.5 932.5,1103.4 937.2,1103.5 C941.8,1103.5 946.5,1103.6 951.2,1103.9 C956,1104.1 960.7,1104.4 965.4,1104.8 C970.2,1105.3 974.9,1105.7 979.7,1106.3 C984.5,1106.8 989.2,1107.5 994,1108.1 C998.8,1108.8 1003.5,1109.5 1008.3,1110.2 C1013.1,1110.9 1017.8,1111.7 1022.5,1112.5 C1027.3,1113.2 1032,1114 1036.7,1114.8 C1041.4,1115.6 1046.1,1116.4 1050.7,1117.1 C1055.4,1117.9 1060,1118.7 1064.6,1119.4 C1069.2,1120.2 1073.8,1120.9 1078.4,1121.7 C1082.9,1122.4 1087.5,1123.2 1092.1,1123.9 C1096.6,1124.7 1101.2,1125.4 1105.7,1126.2 C1110.3,1126.9 1114.8,1127.7 1119.4,1128.4 C1124,1129.2 1128.5,1130 1133.1,1130.8 C1137.7,1131.6 1142.3,1132.4 1146.9,1133.2 C1151.5,1134 1156.1,1134.9 1160.8,1135.7 C1165.4,1136.6 1170.1,1137.4 1174.8,1138.3 C1179.5,1139.2 1186.7,1140.7 1189.1,1141.1" stroke="#1a1a1a" stroke-width="3.6"/>
<path d="M400.1,1607.5 C402.5,1607.2 409.6,1606.3 414.4,1605.7 C419.1,1605.2 423.8,1604.7 428.5,1604.2 C433.3,1603.7 438,1603.3 442.7,1603 C447.4,1602.6 452.1,1602.3 456.8,1602 C461.5,1601.7 466.1,1601.4 470.8,1601.2 C475.5,1601 480.2,1600.8 484.8,1600.6 C489.5,1600.5 494.2,1600.3 498.8,1600.2 C503.5,1600.1 508.1,1600.1 512.8,1600 C517.5,1600 522.1,1600 526.8,1600 C531.4,1600 536.1,1600 540.7,1600.1 C545.4,1600.1 550.1,1600.2 554.7,1600.2 C559.4,1600.3 564.1,1600.4 568.7,1600.5 C573.4,1600.6 578.1,1600.7 582.8,1600.9 C587.5,1601 592.1,1601.1 596.8,1601.3 C601.5,1601.4 606.2,1601.5 610.9,1601.7 C615.7,1601.8 620.4,1602 625.1,1602.1 C629.8,1602.3 634.6,1602.4 639.3,1602.6 C644.1,1602.7 648.8,1602.8 653.6,1603 C658.4,1603.1 663.2,1603.2 668,1603.3 C672.8,1603.4 677.6,1603.5 682.4,1603.6 C687.2,1603.7 692.1,1603.8 696.9,1603.8 C701.7,1603.9 706.6,1603.9 711.3,1603.9 C716.1,1603.9 720.9,1603.9 725.6,1603.8 C730.3,1603.7 734.9,1603.6 739.5,1603.5 C744,1603.3 748.6,1603.2 752.9,1602.9 C757.3,1602.6 761.7,1602.5 765.8,1601.7 C769.9,1601 773.9,1600 777.5,1598.2 C781.2,1596.5 784.6,1594 787.6,1591 C790.6,1588 793.2,1584.2 795.6,1580.3 C797.9,1576.3 799.9,1571.7 801.8,1567.2 C803.7,1562.7 805.3,1557.9 807,1553.2 C808.6,1548.6 810.2,1544 811.7,1539.4 C813.2,1534.7 814.6,1530.2 816,1525.6 C817.4,1521 818.7,1516.4 819.9,1511.9 C821.2,1507.3 822.4,1502.8 823.6,1498.2 C824.7,1493.7 825.8,1489.1 826.9,1484.6 C828,1480.1 829,1475.5 830,1471 C831,1466.5 831.9,1461.9 832.9,1457.4 C833.8,1452.9 834.8,1448.3 835.7,1443.8 C836.6,1439.2 837.5,1434.6 838.4,1430.1 C839.3,1425.5 840.1,1420.9 841,1416.3 C841.9,1411.7 842.8,1407.1 843.7,1402.4 C844.6,1397.8 845.4,1393.2 846.3,1388.5 C847.2,1383.9 848.1,1379.3 849,1374.6 C849.9,1370 850.8,1365.3 851.7,1360.6 C852.6,1356 853.5,1351.3 854.5,1346.7 C855.4,1342 856.3,1337.4 857.3,1332.7 C858.2,1328.1 859.2,1323.5 860.2,1318.8 C861.1,1314.2 862.1,1309.6 863.1,1305 C864.1,1300.4 865.2,1295.8 866.2,1291.2 C867.2,1286.7 868.3,1282.1 869.4,1277.6 C870.5,1273.1 871.6,1268.5 872.7,1264 C873.8,1259.5 875,1255.1 876.1,1250.6 C877.3,1246.1 878.5,1241.6 879.7,1237.1 C881,1232.6 882.2,1228.1 883.5,1223.6 C884.8,1219.1 886.1,1214.6 887.5,1210.1 C888.9,1205.5 890.3,1200.9 891.7,1196.3 C893.2,1191.8 894.7,1187.1 896.3,1182.6 C897.9,1178 899.6,1173.5 901.4,1169.1 C903.3,1164.7 905.3,1160.3 907.4,1156.1 C909.6,1152 911.9,1147.9 914.4,1144 C917,1140.1 919.7,1136.4 922.7,1133 C925.7,1129.5 929,1126.2 932.4,1123.2 C935.8,1120.2 939.4,1117.4 943.2,1114.9 C947,1112.4 951,1110.1 955.1,1108.1 C959.2,1106 963.4,1104.3 967.8,1102.8 C972.2,1101.3 976.7,1100.1 981.2,1099.1 C985.8,1098.2 990.4,1097.6 995.1,1097.2 C999.8,1096.8 1004.6,1096.8 1009.4,1096.9 C1014.2,1097 1019,1097.4 1023.8,1097.9 C1028.6,1098.4 1033.4,1099.1 1038.2,1099.9 C1043,1100.7 1047.8,1101.7 1052.5,1102.8 C1057.2,1103.8 1061.8,1105 1066.4,1106.1 C1071,1107.3 1075.5,1108.6 1080,1109.9 C1084.5,1111.1 1088.9,1112.5 1093.4,1113.8 C1097.8,1115.1 1102.2,1116.5 1106.6,1117.8 C1111.1,1119.1 1115.5,1120.4 1119.9,1121.7 C1124.3,1122.9 1128.8,1124.2 1133.2,1125.4 C1137.7,1126.5 1142.2,1127.6 1146.7,1128.6 C1151.2,1129.7 1155.8,1130.6 1160.4,1131.4 C1165.1,1132.2 1169.8,1133 1174.5,1133.5 C1179.3,1134.1 1186.6,1134.6 1189.1,1134.8" stroke="#d0141c" stroke-width="3.4"/>
<path d="M400.1,1606 C402.5,1605.9 409.7,1605.7 414.4,1605.5 C419.2,1605.3 424,1605.2 428.7,1605.1 C433.4,1604.9 438.2,1604.8 442.9,1604.7 C447.7,1604.5 452.4,1604.4 457.1,1604.3 C461.8,1604.2 466.5,1604.1 471.3,1604 C476,1604 480.7,1603.9 485.4,1603.8 C490.1,1603.7 494.8,1603.7 499.5,1603.6 C504.2,1603.6 508.9,1603.5 513.6,1603.5 C518.3,1603.5 523,1603.5 527.7,1603.4 C532.4,1603.4 537,1603.4 541.7,1603.4 C546.4,1603.4 551.1,1603.4 555.8,1603.4 C560.5,1603.4 565.2,1603.4 569.9,1603.4 C574.6,1603.5 579.3,1603.5 584,1603.5 C588.7,1603.5 593.4,1603.6 598.2,1603.6 C602.9,1603.7 607.6,1603.7 612.3,1603.8 C617,1603.8 621.8,1603.9 626.5,1603.9 C631.2,1604 636,1604 640.7,1604.1 C645.5,1604.2 650.2,1604.2 655,1604.3 C659.7,1604.4 664.5,1604.5 669.3,1604.5 C674.1,1604.6 678.9,1604.7 683.7,1604.8 C688.5,1604.8 693.3,1604.9 698.1,1605 C702.9,1605.1 707.7,1605.2 712.5,1605.2 C717.3,1605.3 722.1,1605.3 726.9,1605.3 C731.6,1605.3 736.4,1605.3 741.1,1605.2 C745.8,1605.2 750.5,1605.1 755.1,1604.9 C759.8,1604.8 764.4,1604.7 768.9,1604.3 C773.3,1603.8 777.8,1603.4 781.9,1602.3 C786,1601.2 789.9,1599.8 793.5,1597.7 C797.1,1595.5 800.2,1592.5 803.2,1589.3 C806.2,1586 808.8,1582 811.3,1578.1 C813.9,1574.1 816.2,1569.8 818.5,1565.7 C820.7,1561.5 822.9,1557.2 825,1553 C827.1,1548.7 829,1544.4 831,1540.1 C832.9,1535.8 834.7,1531.4 836.4,1527 C838.2,1522.7 839.9,1518.3 841.5,1513.8 C843.1,1509.4 844.7,1505 846.2,1500.5 C847.7,1496 849.1,1491.6 850.5,1487.1 C851.9,1482.6 853.3,1478.1 854.6,1473.5 C855.9,1469 857.2,1464.5 858.5,1459.9 C859.7,1455.4 861,1450.8 862.2,1446.2 C863.4,1441.7 864.6,1437.1 865.8,1432.5 C867,1428 868.2,1423.4 869.3,1418.8 C870.5,1414.2 871.7,1409.6 872.9,1405 C874.1,1400.5 875.2,1395.9 876.4,1391.3 C877.6,1386.7 878.8,1382.1 880,1377.5 C881.1,1372.9 882.3,1368.3 883.5,1363.8 C884.7,1359.2 885.9,1354.6 887.1,1350 C888.3,1345.4 889.5,1340.8 890.7,1336.3 C891.9,1331.7 893.1,1327.1 894.4,1322.5 C895.6,1318 896.8,1313.4 898.1,1308.8 C899.3,1304.3 900.6,1299.7 901.9,1295.2 C903.2,1290.6 904.5,1286.1 905.8,1281.5 C907.1,1277 908.4,1272.4 909.8,1267.9 C911.1,1263.4 912.5,1258.9 913.9,1254.3 C915.3,1249.8 916.7,1245.3 918.1,1240.8 C919.5,1236.3 921,1231.9 922.5,1227.4 C924,1222.9 925.5,1218.4 927,1214 C928.5,1209.5 930.1,1205.1 931.7,1200.6 C933.3,1196.2 934.9,1191.8 936.5,1187.4 C938.2,1183 939.9,1178.6 941.6,1174.2 C943.3,1169.8 945,1165.4 946.8,1161.1 C948.6,1156.7 950.4,1152.4 952.3,1148.1 C954.1,1143.8 956,1139.5 958.1,1135.2 C960.1,1131 962.2,1126.8 964.4,1122.7 C966.6,1118.6 968.9,1114.6 971.4,1110.7 C973.9,1106.8 976.5,1102.9 979.3,1099.3 C982.2,1095.6 985.1,1092 988.4,1088.6 C991.6,1085.2 995,1081.9 998.6,1078.8 C1002.2,1075.7 1006.1,1072.8 1010,1070.1 C1013.9,1067.4 1018.1,1064.8 1022.3,1062.5 C1026.5,1060.2 1030.9,1058.1 1035.3,1056.3 C1039.7,1054.5 1044.3,1052.8 1048.8,1051.5 C1053.3,1050.2 1058,1049.2 1062.6,1048.4 C1067.2,1047.6 1071.8,1047.1 1076.5,1046.7 C1081.2,1046.4 1085.9,1046.3 1090.6,1046.4 C1095.3,1046.4 1100,1046.7 1104.7,1047.1 C1109.4,1047.4 1114.2,1047.9 1118.9,1048.5 C1123.6,1049.1 1128.4,1049.8 1133.1,1050.5 C1137.8,1051.2 1142.5,1052 1147.2,1052.8 C1151.9,1053.6 1156.6,1054.4 1161.3,1055.1 C1165.9,1055.9 1170.6,1056.6 1175.2,1057.2 C1179.8,1057.9 1186.7,1058.6 1189,1058.9" stroke="#a8a8a8" stroke-width="2.8"/>
<path d="M400.1,1607.6 C402.5,1607.5 409.6,1607.3 414.3,1607.1 C419,1607 423.7,1606.9 428.4,1606.8 C433.1,1606.7 437.8,1606.5 442.5,1606.5 C447.2,1606.4 451.8,1606.3 456.5,1606.2 C461.2,1606.1 465.8,1606 470.5,1606 C475.2,1605.9 479.8,1605.8 484.5,1605.8 C489.1,1605.7 493.8,1605.7 498.4,1605.6 C503.1,1605.6 507.7,1605.6 512.4,1605.5 C517,1605.5 521.6,1605.5 526.3,1605.5 C530.9,1605.5 535.6,1605.4 540.2,1605.4 C544.8,1605.4 549.5,1605.4 554.1,1605.4 C558.8,1605.4 563.4,1605.4 568.1,1605.4 C572.7,1605.4 577.3,1605.4 582,1605.5 C586.6,1605.5 591.3,1605.5 595.9,1605.5 C600.6,1605.5 605.3,1605.5 609.9,1605.6 C614.6,1605.6 619.3,1605.6 623.9,1605.6 C628.6,1605.7 633.3,1605.7 638,1605.7 C642.7,1605.7 647.4,1605.8 652.1,1605.8 C656.8,1605.8 661.5,1605.8 666.2,1605.9 C670.9,1605.9 675.6,1605.9 680.4,1605.9 C685.1,1606 689.8,1606 694.6,1606 C699.3,1606 704.1,1605.9 708.8,1605.9 C713.5,1605.8 718.2,1605.7 723,1605.6 C727.7,1605.5 732.4,1605.3 737.1,1605.2 C741.8,1605 746.5,1604.7 751.1,1604.6 C755.8,1604.5 760.5,1604.3 765.1,1604.5 C769.7,1604.6 774.3,1605.1 778.9,1605.4 C783.5,1605.7 788,1606.2 792.6,1606.3 C797.1,1606.3 801.6,1606.1 806,1605.4 C810.5,1604.8 814.9,1603.6 819.2,1602.1 C823.4,1600.7 827.6,1598.7 831.6,1596.6 C835.6,1594.4 839.5,1591.9 843.1,1589.1 C846.8,1586.4 850.3,1583.3 853.6,1580.1 C856.8,1576.9 859.9,1573.4 862.8,1569.8 C865.8,1566.2 868.5,1562.4 871.1,1558.5 C873.6,1554.6 876,1550.6 878.3,1546.5 C880.6,1542.4 882.8,1538.2 884.8,1533.9 C886.9,1529.7 888.8,1525.3 890.7,1521 C892.6,1516.7 894.4,1512.3 896.1,1507.9 C897.9,1503.5 899.5,1499.1 901.2,1494.7 C902.8,1490.3 904.4,1485.9 905.9,1481.5 C907.4,1477.1 908.9,1472.7 910.4,1468.2 C911.9,1463.8 913.3,1459.4 914.7,1454.9 C916.1,1450.5 917.4,1446 918.8,1441.6 C920.1,1437.1 921.5,1432.7 922.8,1428.2 C924.1,1423.8 925.4,1419.3 926.7,1414.9 C928.1,1410.4 929.4,1405.9 930.7,1401.5 C932,1397 933.3,1392.6 934.7,1388.1 C936,1383.6 937.4,1379.2 938.7,1374.7 C940.1,1370.3 941.5,1365.8 942.9,1361.4 C944.4,1356.9 945.8,1352.5 947.3,1348.1 C948.7,1343.6 950.2,1339.2 951.7,1334.8 C953.3,1330.4 954.8,1325.9 956.4,1321.5 C957.9,1317.1 959.5,1312.7 961.1,1308.4 C962.7,1304 964.4,1299.6 966.1,1295.2 C967.7,1290.9 969.4,1286.5 971.2,1282.2 C972.9,1277.8 974.7,1273.5 976.5,1269.2 C978.3,1264.9 980.1,1260.6 982,1256.3 C983.9,1252 985.8,1247.8 987.7,1243.5 C989.7,1239.3 991.7,1235.1 993.8,1230.9 C995.9,1226.7 998,1222.6 1000.2,1218.5 C1002.5,1214.4 1004.7,1210.3 1007.1,1206.3 C1009.5,1202.3 1012,1198.3 1014.6,1194.4 C1017.2,1190.5 1019.9,1186.6 1022.7,1183 C1025.6,1179.3 1028.5,1175.7 1031.7,1172.3 C1034.8,1168.9 1038.2,1165.7 1041.6,1162.7 C1045.1,1159.8 1048.8,1157 1052.6,1154.6 C1056.4,1152.1 1060.4,1150 1064.5,1148 C1068.6,1146.1 1072.9,1144.5 1077.2,1143 C1081.6,1141.5 1086.1,1140.4 1090.6,1139.3 C1095.2,1138.3 1099.8,1137.5 1104.5,1136.8 C1109.2,1136.1 1114,1135.6 1118.8,1135.3 C1123.5,1134.9 1128.3,1134.7 1133.1,1134.5 C1137.9,1134.4 1142.8,1134.4 1147.5,1134.4 C1152.3,1134.4 1157,1134.6 1161.7,1134.7 C1166.4,1134.9 1171,1135.1 1175.6,1135.3 C1180.1,1135.5 1186.7,1135.8 1188.9,1135.9" stroke="#ffc010" stroke-width="3.2"/>
<path d="M400.2,1608.1 C402.6,1608.1 409.6,1608 414.3,1607.9 C419,1607.8 423.7,1607.6 428.4,1607.4 C433.1,1607.2 437.8,1607.1 442.5,1607 C447.2,1606.8 451.9,1606.7 456.6,1606.6 C461.3,1606.4 466,1606.3 470.7,1606.2 C475.4,1606.1 480.2,1606 484.9,1605.9 C489.6,1605.8 494.3,1605.7 499,1605.7 C503.7,1605.6 508.5,1605.5 513.2,1605.5 C517.9,1605.4 522.6,1605.3 527.3,1605.3 C532,1605.2 536.8,1605.2 541.5,1605.2 C546.2,1605.1 550.9,1605.1 555.6,1605.1 C560.3,1605.1 565.1,1605 569.8,1605 C574.5,1605 579.2,1605 583.9,1605 C588.6,1605.1 593.3,1605.1 598,1605.1 C602.7,1605.1 607.5,1605.1 612.2,1605.2 C616.9,1605.2 621.6,1605.3 626.2,1605.3 C630.9,1605.4 635.6,1605.4 640.3,1605.5 C645,1605.6 649.7,1605.6 654.4,1605.7 C659.1,1605.8 663.7,1605.9 668.4,1606 C673.1,1606.1 677.8,1606.2 682.5,1606.2 C687.1,1606.3 691.8,1606.4 696.5,1606.5 C701.2,1606.6 705.9,1606.7 710.6,1606.8 C715.3,1606.8 720,1606.9 724.7,1607 C729.4,1607.1 734.1,1607.1 738.9,1607.2 C743.6,1607.2 748.3,1607.2 753.1,1607.2 C757.9,1607.3 762.6,1607.3 767.4,1607.3 C772.2,1607.2 777,1607.2 781.8,1607.2 C786.7,1607.1 791.5,1607.1 796.3,1607 C801.1,1606.9 805.9,1606.9 810.7,1606.8 C815.5,1606.7 820.3,1606.7 825,1606.6 C829.7,1606.6 834.4,1606.6 839.1,1606.5 C843.7,1606.5 848.3,1606.6 852.8,1606.3 C857.3,1606 861.7,1605.7 866.1,1604.8 C870.4,1603.9 874.7,1602.6 878.9,1600.9 C883.1,1599.2 887.1,1596.9 891.1,1594.6 C895,1592.2 898.9,1589.4 902.6,1586.6 C906.3,1583.8 909.8,1580.8 913.3,1577.6 C916.8,1574.5 920.1,1571.2 923.3,1567.8 C926.6,1564.3 929.7,1560.8 932.7,1557.1 C935.7,1553.5 938.6,1549.7 941.4,1545.9 C944.3,1542 947,1538.1 949.6,1534.1 C952.3,1530.1 954.8,1526 957.3,1521.9 C959.8,1517.7 962.1,1513.5 964.5,1509.3 C966.8,1505.1 969.1,1500.9 971.3,1496.6 C973.5,1492.4 975.6,1488.1 977.7,1483.9 C979.7,1479.6 981.8,1475.3 983.7,1471.1 C985.7,1466.8 987.7,1462.6 989.6,1458.4 C991.5,1454.1 993.3,1449.9 995.2,1445.6 C997,1441.4 998.8,1437.1 1000.6,1432.9 C1002.4,1428.6 1004.1,1424.4 1005.9,1420.1 C1007.6,1415.8 1009.4,1411.6 1011.1,1407.3 C1012.8,1403 1014.6,1398.7 1016.3,1394.4 C1018,1390.1 1019.8,1385.8 1021.5,1381.5 C1023.3,1377.1 1025,1372.8 1026.8,1368.4 C1028.6,1364.1 1030.4,1359.7 1032.3,1355.3 C1034.1,1350.9 1035.9,1346.5 1037.8,1342.1 C1039.7,1337.7 1041.6,1333.2 1043.6,1328.8 C1045.5,1324.5 1047.5,1320.1 1049.5,1315.7 C1051.6,1311.3 1053.6,1307 1055.7,1302.7 C1057.8,1298.3 1060,1294 1062.2,1289.8 C1064.4,1285.6 1066.6,1281.3 1068.9,1277.2 C1071.2,1273 1073.6,1268.9 1076,1264.8 C1078.4,1260.8 1080.8,1256.8 1083.4,1252.9 C1085.9,1248.9 1088.5,1245.1 1091.1,1241.3 C1093.8,1237.5 1096.5,1233.8 1099.4,1230.2 C1102.2,1226.6 1105.1,1223.1 1108.1,1219.6 C1111.1,1216.2 1114.2,1212.9 1117.4,1209.7 C1120.6,1206.4 1124,1203.3 1127.4,1200.3 C1130.9,1197.3 1134.5,1194.5 1138.2,1191.7 C1141.9,1189 1145.7,1186.3 1149.7,1183.9 C1153.7,1181.4 1157.8,1179 1162,1176.8 C1166.3,1174.6 1170.6,1172.6 1175.2,1170.7 C1179.7,1168.8 1186.8,1166.4 1189.1,1165.5" stroke="#4a78cc" stroke-width="3.2"/>
<path d="M400.2,1607.4 C402.6,1607.3 409.7,1607.2 414.4,1607.1 C419.2,1606.9 423.9,1606.8 428.7,1606.7 C433.4,1606.6 438.1,1606.5 442.9,1606.4 C447.6,1606.3 452.3,1606.2 457.1,1606.1 C461.8,1606 466.5,1605.9 471.3,1605.8 C476,1605.7 480.7,1605.7 485.4,1605.6 C490.2,1605.5 494.9,1605.4 499.6,1605.3 C504.3,1605.2 509,1605.2 513.8,1605.1 C518.5,1605 523.2,1604.9 527.9,1604.9 C532.6,1604.8 537.3,1604.7 542.1,1604.7 C546.8,1604.6 551.5,1604.6 556.2,1604.5 C560.9,1604.4 565.6,1604.4 570.3,1604.3 C575.1,1604.3 579.8,1604.2 584.5,1604.2 C589.2,1604.2 593.9,1604.1 598.6,1604.1 C603.3,1604 608.1,1604 612.8,1604 C617.5,1603.9 622.2,1603.9 626.9,1603.9 C631.6,1603.9 636.4,1603.8 641.1,1603.8 C645.8,1603.8 650.5,1603.8 655.2,1603.8 C660,1603.8 664.7,1603.8 669.4,1603.7 C674.1,1603.7 678.8,1603.7 683.6,1603.7 C688.3,1603.7 693,1603.7 697.8,1603.8 C702.5,1603.8 707.2,1603.8 711.9,1603.8 C716.7,1603.8 721.4,1603.8 726.2,1603.8 C730.9,1603.9 735.6,1603.9 740.4,1603.9 C745.1,1604 749.9,1604 754.6,1604 C759.3,1604.1 764.1,1604.1 768.8,1604.1 C773.6,1604.2 778.4,1604.2 783.1,1604.3 C787.9,1604.3 792.6,1604.4 797.4,1604.4 C802.2,1604.5 806.9,1604.6 811.7,1604.6 C816.5,1604.7 821.2,1604.8 826,1604.8 C830.8,1604.9 835.6,1605 840.3,1605 C845.1,1605.1 849.9,1605.2 854.7,1605.2 C859.5,1605.3 864.2,1605.3 869,1605.4 C873.8,1605.4 878.5,1605.4 883.3,1605.4 C888.1,1605.5 892.8,1605.5 897.6,1605.5 C902.4,1605.5 907.1,1605.4 911.9,1605.4 C916.6,1605.4 921.4,1605.3 926.1,1605.2 C930.8,1605.2 935.6,1605.1 940.3,1605 C945,1604.9 949.7,1604.7 954.4,1604.6 C959.1,1604.4 963.8,1604.2 968.5,1604 C973.2,1603.8 977.9,1603.5 982.5,1603.3 C987.2,1603 991.8,1602.7 996.5,1602.4 C1001.1,1602 1005.7,1601.7 1010.3,1601.2 C1014.9,1600.8 1019.5,1600.4 1024.1,1599.9 C1028.7,1599.3 1033.3,1598.8 1037.8,1598.1 C1042.3,1597.4 1046.9,1596.6 1051.4,1595.7 C1055.9,1594.7 1060.3,1593.7 1064.8,1592.5 C1069.3,1591.3 1073.7,1590 1078.1,1588.6 C1082.5,1587.1 1086.9,1585.5 1091.3,1583.8 C1095.6,1582.1 1099.9,1580.2 1104.2,1578.2 C1108.5,1576.3 1112.8,1574.1 1117,1571.9 C1121.3,1569.7 1125.5,1567.3 1129.6,1564.9 C1133.8,1562.5 1137.9,1559.9 1142,1557.3 C1146.1,1554.7 1150.2,1552.1 1154.2,1549.3 C1158.2,1546.6 1162.2,1543.9 1166.2,1541.1 C1170.1,1538.3 1174,1535.4 1177.9,1532.6 C1181.7,1529.8 1187.4,1525.5 1189.3,1524.1" stroke="#72ae48" stroke-width="3.2"/>
<path d="M400.2,1608.1 C402.6,1608.1 409.7,1608 414.5,1607.9 C419.2,1607.8 424,1607.7 428.7,1607.5 C433.5,1607.4 438.2,1607.3 443,1607.2 C447.7,1607.1 452.5,1607 457.2,1606.9 C461.9,1606.8 466.7,1606.7 471.4,1606.6 C476.2,1606.5 480.9,1606.5 485.6,1606.4 C490.4,1606.3 495.1,1606.2 499.9,1606.2 C504.6,1606.1 509.3,1606 514.1,1606 C518.8,1605.9 523.5,1605.9 528.3,1605.8 C533,1605.8 537.7,1605.8 542.5,1605.7 C547.2,1605.7 551.9,1605.6 556.6,1605.6 C561.4,1605.6 566.1,1605.6 570.8,1605.5 C575.6,1605.5 580.3,1605.5 585,1605.5 C589.7,1605.5 594.5,1605.4 599.2,1605.4 C603.9,1605.4 608.7,1605.4 613.4,1605.4 C618.1,1605.4 622.9,1605.4 627.6,1605.4 C632.3,1605.4 637,1605.4 641.8,1605.4 C646.5,1605.4 651.2,1605.4 656,1605.4 C660.7,1605.5 665.4,1605.5 670.2,1605.5 C674.9,1605.5 679.7,1605.5 684.4,1605.5 C689.1,1605.5 693.9,1605.6 698.6,1605.6 C703.3,1605.6 708.1,1605.6 712.8,1605.6 C717.6,1605.6 722.3,1605.7 727.1,1605.7 C731.8,1605.7 736.6,1605.7 741.3,1605.7 C746.1,1605.8 750.8,1605.8 755.6,1605.8 C760.3,1605.8 765.1,1605.9 769.8,1605.9 C774.6,1605.9 779.4,1605.9 784.1,1605.9 C788.9,1606 793.7,1606 798.4,1606 C803.2,1606 808,1606 812.7,1606 C817.5,1606.1 822.3,1606.1 827.1,1606.1 C831.8,1606.1 836.6,1606.1 841.4,1606.1 C846.2,1606.1 850.9,1606.2 855.7,1606.2 C860.5,1606.2 865.3,1606.2 870,1606.2 C874.8,1606.2 879.6,1606.2 884.4,1606.2 C889.1,1606.2 893.9,1606.3 898.7,1606.3 C903.4,1606.3 908.2,1606.3 913,1606.3 C917.7,1606.3 922.5,1606.3 927.2,1606.3 C932,1606.3 936.8,1606.3 941.5,1606.3 C946.2,1606.4 951,1606.4 955.7,1606.4 C960.5,1606.4 965.2,1606.4 969.9,1606.4 C974.6,1606.4 979.4,1606.4 984.1,1606.4 C988.8,1606.4 993.5,1606.4 998.2,1606.4 C1002.9,1606.4 1007.6,1606.4 1012.3,1606.4 C1017,1606.4 1021.6,1606.3 1026.3,1606.2 C1031,1606.1 1035.6,1606 1040.3,1605.8 C1044.9,1605.7 1049.6,1605.4 1054.2,1605.2 C1058.8,1604.9 1063.4,1604.5 1068.1,1604.1 C1072.7,1603.7 1077.3,1603.2 1081.8,1602.6 C1086.4,1602.1 1091,1601.4 1095.6,1600.6 C1100.1,1599.9 1104.7,1599 1109.2,1598 C1113.8,1597 1118.3,1596 1122.8,1594.7 C1127.3,1593.5 1131.8,1592.2 1136.3,1590.7 C1140.8,1589.2 1145.3,1587.6 1149.7,1585.8 C1154.2,1584 1158.6,1582.1 1163.1,1580 C1167.5,1577.9 1171.9,1575.7 1176.3,1573.2 C1180.7,1570.8 1187.2,1566.7 1189.4,1565.4" stroke="#3b6fa3" stroke-width="3.4"/>
<path d="M400.2,1607.5 C402.6,1607.3 409.6,1607 414.3,1606.7 C419,1606.5 423.7,1606.3 428.4,1606.1 C433,1605.9 437.7,1605.6 442.4,1605.5 C447.1,1605.3 451.8,1605.1 456.5,1604.9 C461.2,1604.7 465.9,1604.5 470.6,1604.3 C475.3,1604.2 480,1604 484.7,1603.9 C489.4,1603.7 494.1,1603.6 498.8,1603.4 C503.4,1603.3 508.1,1603.1 512.8,1603 C517.5,1602.9 522.2,1602.8 526.9,1602.6 C531.6,1602.5 536.3,1602.4 541,1602.3 C545.7,1602.2 550.4,1602.1 555.1,1602 C559.8,1602 564.5,1601.9 569.2,1601.8 C573.9,1601.7 578.6,1601.6 583.3,1601.6 C588,1601.5 592.7,1601.5 597.4,1601.4 C602.1,1601.4 606.8,1601.3 611.5,1601.3 C616.2,1601.2 620.9,1601.2 625.6,1601.1 C630.3,1601.1 635,1601.1 639.7,1601.1 C644.4,1601 649.1,1601 653.8,1601 C658.5,1601 663.2,1601 667.9,1601 C672.6,1601 677.3,1601 682,1601 C686.7,1601 691.4,1601 696.1,1601 C700.8,1601 705.5,1601.1 710.2,1601.1 C714.9,1601.1 719.6,1601.1 724.3,1601.2 C729,1601.2 733.7,1601.2 738.4,1601.3 C743.1,1601.3 747.8,1601.3 752.5,1601.4 C757.2,1601.4 761.9,1601.5 766.6,1601.5 C771.3,1601.6 776,1601.6 780.7,1601.7 C785.4,1601.8 790.1,1601.8 794.8,1601.9 C799.5,1601.9 804.2,1602 808.9,1602.1 C813.6,1602.1 818.3,1602.2 823,1602.3 C827.6,1602.4 832.3,1602.4 837,1602.5 C841.7,1602.6 846.4,1602.7 851.1,1602.7 C855.8,1602.8 860.5,1602.9 865.2,1603 C869.9,1603.1 874.6,1603.1 879.3,1603.2 C884,1603.3 888.7,1603.4 893.4,1603.4 C898.1,1603.5 902.8,1603.6 907.5,1603.6 C912.2,1603.7 916.9,1603.8 921.6,1603.8 C926.3,1603.9 931,1604 935.7,1604 C940.4,1604.1 945.1,1604.1 949.8,1604.2 C954.5,1604.2 959.2,1604.3 963.9,1604.3 C968.6,1604.4 973.3,1604.4 978,1604.4 C982.7,1604.5 987.4,1604.5 992.1,1604.5 C996.8,1604.5 1001.5,1604.5 1006.1,1604.5 C1010.8,1604.5 1015.5,1604.5 1020.2,1604.5 C1024.9,1604.5 1029.6,1604.5 1034.3,1604.4 C1039,1604.4 1043.7,1604.4 1048.4,1604.3 C1053.1,1604.3 1057.8,1604.2 1062.5,1604.1 C1067.2,1604 1071.9,1603.9 1076.5,1603.8 C1081.2,1603.7 1085.9,1603.6 1090.6,1603.5 C1095.3,1603.4 1100,1603.2 1104.7,1603 C1109.4,1602.9 1114.1,1602.7 1118.8,1602.5 C1123.4,1602.3 1128.1,1602.1 1132.8,1601.8 C1137.5,1601.6 1142.2,1601.4 1146.9,1601.1 C1151.6,1600.8 1156.3,1600.5 1160.9,1600.2 C1165.6,1599.9 1170.3,1599.6 1175,1599.2 C1179.7,1598.8 1186.7,1598.2 1189,1598.1" stroke="#b05a24" stroke-width="3.0"/>
</g>
</g>
<g id="A4">
<path d="M1417.8,989.6 V1605 H2284.4" fill="none" stroke="#000" stroke-width="3"/>
<text transform="translate(1387.3,1616.3) scale(0.975,1)" font-size="37.5" text-anchor="end">0</text>
<text transform="translate(1387.3,1513.7) scale(0.975,1)" font-size="37.5" text-anchor="end">500</text>
<text transform="translate(1387.3,1411.2) scale(0.975,1)" font-size="37.5" text-anchor="end">1000</text>
<text transform="translate(1387.3,1308.6) scale(0.975,1)" font-size="37.5" text-anchor="end">1500</text>
<text transform="translate(1387.3,1206) scale(0.975,1)" font-size="37.5" text-anchor="end">2000</text>
<text transform="translate(1387.3,1103.5) scale(0.975,1)" font-size="37.5" text-anchor="end">2500</text>
<text transform="translate(1387.3,1000.9) scale(0.975,1)" font-size="37.5" text-anchor="end">3000</text>
<text transform="translate(1418.3,1661.2) scale(0.99,1.04)" font-size="37.5" text-anchor="middle">0</text>
<text transform="translate(1562.7,1661.2) scale(0.99,1.04)" font-size="37.5" text-anchor="middle">10</text>
<text transform="translate(1707.2,1661.2) scale(0.99,1.04)" font-size="37.5" text-anchor="middle">20</text>
<text transform="translate(1851.6,1661.2) scale(0.99,1.04)" font-size="37.5" text-anchor="middle">30</text>
<text transform="translate(1996,1661.2) scale(0.99,1.04)" font-size="37.5" text-anchor="middle">40</text>
<text transform="translate(2140.5,1661.2) scale(0.99,1.04)" font-size="37.5" text-anchor="middle">50</text>
<text transform="translate(2284.9,1661.2) scale(0.99,1.04)" font-size="37.5" text-anchor="middle">60</text>
<path d="M1407.3,1605 h10.5 M1407.3,1502.4 h10.5 M1407.3,1399.9 h10.5 M1407.3,1297.3 h10.5 M1407.3,1194.7 h10.5 M1407.3,1092.2 h10.5 M1407.3,989.6 h10.5 M1417.8,1605 v11 M1562.2,1605 v11 M1706.7,1605 v11 M1851.1,1605 v11 M1995.5,1605 v11 M2140,1605 v11 M2284.4,1605 v11" stroke="#000" stroke-width="3" fill="none"/>
<text transform="translate(1852.6,1707) scale(1.06,1)" font-size="44" text-anchor="middle">min</text>
<text transform="translate(1278.4,1269.4) rotate(-90) scale(1.015,1)" font-size="45" text-anchor="middle">Intensity (RFU)</text>
<text x="1662.5" y="1065.9" font-size="45.3" font-style="italic">AuNPs&#64;GO</text>
<line x1="1440.9" y1="1000.4" x2="1523.2" y2="1000.4" stroke="#1a1a1a" stroke-width="4.2"/>
<text x="1535.5" y="1012.4" font-size="33.8">0 ng</text>
<line x1="1440.9" y1="1040.1" x2="1523.2" y2="1040.1" stroke="#d0141c" stroke-width="3.6"/>
<text x="1535.5" y="1052.1" font-size="33.8">10 ng</text>
<line x1="1440.9" y1="1079.8" x2="1523.2" y2="1079.8" stroke="#a8a8a8" stroke-width="2.8"/>
<text x="1535.5" y="1091.8" font-size="33.8">20 ng</text>
<line x1="1440.9" y1="1119.5" x2="1523.2" y2="1119.5" stroke="#ffc010" stroke-width="3.4"/>
<text x="1535.5" y="1131.5" font-size="33.8">30 ng</text>
<line x1="1440.9" y1="1159.2" x2="1523.2" y2="1159.2" stroke="#4a78cc" stroke-width="3.4"/>
<text x="1535.5" y="1171.2" font-size="33.8">40 ng</text>
<line x1="1440.9" y1="1198.9" x2="1523.2" y2="1198.9" stroke="#72ae48" stroke-width="3.6"/>
<text x="1535.5" y="1210.9" font-size="33.8">50 ng</text>
<line x1="1440.9" y1="1238.6" x2="1523.2" y2="1238.6" stroke="#3b6fa3" stroke-width="3.6"/>
<text x="1535.5" y="1250.6" font-size="33.8">60 ng</text>
<line x1="1440.9" y1="1278.3" x2="1523.2" y2="1278.3" stroke="#b05a24" stroke-width="3.0"/>
<text x="1535.5" y="1290.3" font-size="33.8">70 ng</text>
<g fill="none" stroke-linejoin="round" stroke-linecap="round">
<path d="M1432.3,1590 C1434.5,1590.8 1441.1,1593.6 1445.5,1594.8 C1449.9,1596.1 1454.4,1596.8 1458.9,1597.4 C1463.4,1598 1467.9,1598.2 1472.5,1598.3 C1477.1,1598.5 1481.7,1598.3 1486.3,1598.2 C1491,1598.1 1495.7,1597.9 1500.4,1597.7 C1505.1,1597.6 1509.9,1597.4 1514.7,1597.4 C1519.6,1597.4 1524.5,1597.5 1529.3,1597.6 C1534.2,1597.7 1539.1,1597.8 1544,1598 C1548.8,1598.1 1553.7,1598.3 1558.5,1598.2 C1563.3,1598.2 1568.1,1598.2 1572.6,1597.7 C1577.1,1597.2 1581.6,1596.5 1585.8,1595.3 C1589.9,1594 1593.9,1592.3 1597.5,1590.2 C1601.2,1588 1604.6,1585.4 1607.7,1582.4 C1610.8,1579.4 1613.6,1576 1616,1572.3 C1618.4,1568.5 1620.5,1564.3 1622.3,1560 C1624.1,1555.6 1625.6,1550.9 1627,1546.2 C1628.3,1541.5 1629.4,1536.6 1630.4,1531.8 C1631.5,1527.1 1632.3,1522.3 1633.2,1517.6 C1634,1512.8 1634.7,1508.2 1635.4,1503.5 C1636,1498.8 1636.6,1494.2 1637.2,1489.6 C1637.7,1485 1638.2,1480.4 1638.7,1475.8 C1639.2,1471.2 1639.7,1466.6 1640.2,1462 C1640.7,1457.4 1641.2,1452.8 1641.8,1448.2 C1642.3,1443.5 1642.8,1438.9 1643.4,1434.2 C1643.9,1429.6 1644.5,1424.9 1645.1,1420.2 C1645.7,1415.6 1646.3,1410.9 1646.9,1406.2 C1647.5,1401.6 1648.1,1396.9 1648.7,1392.2 C1649.3,1387.5 1650,1382.8 1650.6,1378.1 C1651.2,1373.4 1651.9,1368.8 1652.5,1364.1 C1653.2,1359.4 1653.8,1354.7 1654.4,1350.1 C1655.1,1345.4 1655.7,1340.7 1656.4,1336.1 C1657,1331.4 1657.7,1326.8 1658.3,1322.1 C1659,1317.5 1659.6,1312.9 1660.3,1308.3 C1660.9,1303.6 1661.5,1299 1662.2,1294.5 C1662.9,1289.9 1663.5,1285.3 1664.2,1280.7 C1664.9,1276.2 1665.6,1271.6 1666.4,1267 C1667.3,1262.5 1668.1,1257.9 1669.2,1253.3 C1670.2,1248.8 1671.2,1244.2 1672.5,1239.6 C1673.7,1235 1675.1,1230.3 1676.6,1225.7 C1678.2,1221.1 1679.9,1216.4 1681.8,1211.9 C1683.7,1207.4 1685.7,1202.9 1688,1198.6 C1690.3,1194.4 1692.8,1190.3 1695.5,1186.6 C1698.2,1182.8 1701.1,1179.3 1704.2,1176.3 C1707.4,1173.2 1710.8,1170.5 1714.4,1168.3 C1718,1166.1 1722,1164.4 1726.1,1163.1 C1730.2,1161.9 1734.6,1161.1 1739,1160.6 C1743.5,1160.1 1748.2,1160 1753,1160 C1757.7,1160 1762.6,1160.4 1767.4,1160.7 C1772.3,1161 1777.3,1161.5 1782.2,1161.9 C1787.1,1162.3 1792,1162.7 1796.8,1162.9 C1801.6,1163.2 1806.3,1163.2 1811,1163.3 C1815.7,1163.4 1820.3,1163.3 1824.9,1163.4 C1829.5,1163.4 1834.1,1163.4 1838.7,1163.6 C1843.2,1163.8 1847.8,1164 1852.3,1164.5 C1856.9,1165 1861.4,1165.6 1866,1166.5 C1870.5,1167.3 1875.1,1168.4 1879.7,1169.6 C1884.2,1170.7 1888.8,1172 1893.4,1173.1 C1898,1174.3 1902.6,1175.5 1907.2,1176.6 C1911.8,1177.6 1916.5,1178.6 1921.1,1179.4 C1925.7,1180.2 1930.4,1181 1935,1181.5 C1939.6,1182.1 1944.3,1182.5 1949,1182.8 C1953.6,1183.1 1958.3,1183.3 1962.9,1183.4 C1967.6,1183.5 1972.3,1183.4 1976.9,1183.4 C1981.6,1183.3 1986.3,1183.1 1990.9,1183 C1995.6,1182.8 2000.3,1182.6 2005,1182.4 C2009.7,1182.2 2014.3,1182.1 2019,1181.9 C2023.7,1181.7 2028.4,1181.5 2033.1,1181.3 C2037.7,1181.1 2042.4,1180.9 2047.1,1180.7 C2051.8,1180.5 2056.5,1180.3 2061.2,1180.1 C2065.9,1179.9 2070.5,1179.7 2075.2,1179.5 C2079.9,1179.2 2084.6,1179 2089.3,1178.7 C2094,1178.5 2098.7,1178.2 2103.3,1177.9 C2108,1177.6 2112.7,1177.3 2117.4,1177 C2122.1,1176.7 2126.8,1176.3 2131.5,1176 C2136.2,1175.6 2140.8,1175.2 2145.5,1174.8 C2150.2,1174.4 2154.9,1173.9 2159.6,1173.4 C2164.3,1173 2168.9,1172.5 2173.6,1172 C2178.3,1171.5 2183,1170.9 2187.7,1170.4 C2192.4,1169.9 2197,1169.4 2201.7,1168.8 C2206.4,1168.3 2211.1,1167.8 2215.7,1167.3 C2220.4,1166.8 2225.1,1166.3 2229.8,1165.8 C2234.4,1165.3 2239.1,1164.9 2243.8,1164.5 C2248.4,1164.1 2253.1,1163.7 2257.8,1163.3 C2262.4,1163 2267.1,1162.7 2271.8,1162.4 C2276.4,1162.1 2283.4,1161.9 2285.7,1161.8" stroke="#1a1a1a" stroke-width="3.6"/>
<path d="M1430.9,1597.6 C1433.3,1597.7 1440.5,1598 1445.3,1598.2 C1450,1598.3 1454.7,1598.4 1459.4,1598.5 C1464.1,1598.5 1468.8,1598.5 1473.4,1598.5 C1478.1,1598.5 1482.7,1598.5 1487.4,1598.4 C1492,1598.3 1496.6,1598.3 1501.2,1598.2 C1505.8,1598.1 1510.4,1598 1515.1,1597.9 C1519.7,1597.8 1524.3,1597.6 1528.9,1597.5 C1533.5,1597.4 1538.1,1597.4 1542.8,1597.3 C1547.4,1597.2 1552.1,1597.2 1556.7,1597.1 C1561.4,1597.1 1566.1,1597.1 1570.8,1597.2 C1575.5,1597.2 1580.3,1597.3 1585,1597.4 C1589.8,1597.5 1594.6,1597.7 1599.4,1597.9 C1604.2,1598 1609,1598.2 1613.8,1598.4 C1618.6,1598.5 1623.5,1598.7 1628.2,1598.7 C1633,1598.7 1637.8,1598.7 1642.5,1598.6 C1647.2,1598.5 1651.9,1598.2 1656.5,1597.8 C1661.1,1597.4 1665.8,1597 1670.2,1596.1 C1674.6,1595.3 1679,1594.4 1683,1593 C1687,1591.5 1690.9,1589.8 1694.4,1587.5 C1697.8,1585.1 1700.9,1582.2 1703.7,1579 C1706.4,1575.7 1708.8,1571.8 1711,1567.9 C1713.3,1563.9 1715.2,1559.6 1717.1,1555.3 C1719,1551 1720.7,1546.5 1722.4,1542.1 C1724,1537.6 1725.5,1533.1 1727,1528.5 C1728.4,1523.9 1729.7,1519.3 1730.9,1514.7 C1732.2,1510 1733.3,1505.3 1734.4,1500.7 C1735.4,1496 1736.4,1491.3 1737.4,1486.7 C1738.3,1482 1739.2,1477.4 1740,1472.7 C1740.8,1468.1 1741.6,1463.5 1742.3,1458.9 C1743.1,1454.3 1743.7,1449.7 1744.4,1445.2 C1745.1,1440.6 1745.8,1436 1746.4,1431.4 C1747.1,1426.9 1747.7,1422.3 1748.3,1417.7 C1749,1413.1 1749.6,1408.6 1750.3,1404 C1751,1399.4 1751.6,1394.8 1752.3,1390.2 C1753,1385.6 1753.7,1381 1754.4,1376.3 C1755.1,1371.7 1755.9,1367.1 1756.6,1362.5 C1757.3,1357.9 1758.1,1353.3 1758.9,1348.6 C1759.7,1344 1760.4,1339.4 1761.3,1334.8 C1762.1,1330.2 1762.9,1325.5 1763.7,1320.9 C1764.6,1316.3 1765.4,1311.7 1766.3,1307.1 C1767.2,1302.4 1768.1,1297.8 1769,1293.2 C1770,1288.6 1770.9,1284 1771.9,1279.4 C1772.9,1274.8 1773.8,1270.3 1774.9,1265.7 C1775.9,1261.1 1776.9,1256.5 1778,1252 C1779.1,1247.4 1780.2,1242.9 1781.4,1238.4 C1782.6,1233.8 1783.8,1229.3 1785.1,1224.8 C1786.5,1220.4 1787.9,1215.9 1789.4,1211.5 C1790.9,1207 1792.5,1202.6 1794.2,1198.3 C1795.9,1193.9 1797.7,1189.5 1799.7,1185.3 C1801.6,1181 1803.7,1176.7 1806,1172.6 C1808.2,1168.5 1810.6,1164.4 1813.2,1160.6 C1815.8,1156.8 1818.5,1153 1821.4,1149.6 C1824.3,1146.1 1827.4,1142.9 1830.8,1139.9 C1834.1,1137 1837.6,1134.2 1841.4,1131.9 C1845.1,1129.5 1849.1,1127.5 1853.3,1125.7 C1857.5,1124 1861.9,1122.6 1866.4,1121.5 C1870.8,1120.3 1875.5,1119.4 1880.3,1118.7 C1885,1118 1889.9,1117.6 1894.7,1117.2 C1899.6,1116.9 1904.6,1116.8 1909.5,1116.7 C1914.3,1116.6 1919.3,1116.7 1924.1,1116.8 C1929,1116.9 1933.7,1117.1 1938.5,1117.3 C1943.2,1117.5 1947.9,1117.8 1952.6,1118.1 C1957.2,1118.4 1961.8,1118.8 1966.4,1119.1 C1971,1119.5 1975.6,1119.9 1980.2,1120.3 C1984.8,1120.7 1989.3,1121.2 1993.9,1121.6 C1998.5,1122 2003.1,1122.5 2007.7,1122.9 C2012.3,1123.3 2016.9,1123.8 2021.5,1124.3 C2026.1,1124.7 2030.7,1125.2 2035.3,1125.7 C2039.9,1126.1 2044.5,1126.6 2049.2,1127.1 C2053.8,1127.6 2058.4,1128.1 2063.1,1128.6 C2067.7,1129.1 2072.4,1129.6 2077,1130.1 C2081.7,1130.6 2086.3,1131.2 2091,1131.7 C2095.6,1132.2 2100.3,1132.8 2105,1133.3 C2109.6,1133.9 2114.3,1134.4 2118.9,1135 C2123.6,1135.6 2128.3,1136.2 2132.9,1136.8 C2137.6,1137.4 2142.2,1138 2146.9,1138.6 C2151.6,1139.2 2156.2,1139.8 2160.9,1140.4 C2165.5,1141.1 2170.2,1141.7 2174.9,1142.3 C2179.5,1143 2184.2,1143.6 2188.8,1144.3 C2193.5,1144.9 2198.1,1145.6 2202.8,1146.3 C2207.4,1146.9 2212,1147.6 2216.7,1148.3 C2221.3,1148.9 2225.9,1149.6 2230.6,1150.3 C2235.2,1150.9 2239.8,1151.6 2244.4,1152.3 C2249,1152.9 2253.6,1153.6 2258.2,1154.3 C2262.8,1154.9 2267.4,1155.6 2272,1156.2 C2276.6,1156.9 2283.4,1157.8 2285.7,1158.1" stroke="#d0141c" stroke-width="3.4"/>
<path d="M1431,1598.1 C1433.3,1598.2 1440.3,1598.3 1445,1598.3 C1449.6,1598.4 1454.3,1598.4 1459,1598.4 C1463.7,1598.4 1468.4,1598.4 1473,1598.4 C1477.7,1598.4 1482.4,1598.3 1487.1,1598.3 C1491.8,1598.3 1496.5,1598.2 1501.2,1598.2 C1505.9,1598.1 1510.6,1598.1 1515.3,1598 C1520,1597.9 1524.7,1597.9 1529.4,1597.8 C1534.1,1597.8 1538.8,1597.7 1543.5,1597.6 C1548.2,1597.6 1552.9,1597.5 1557.6,1597.5 C1562.3,1597.4 1567,1597.4 1571.7,1597.3 C1576.4,1597.3 1581.1,1597.3 1585.8,1597.3 C1590.4,1597.3 1595.1,1597.3 1599.8,1597.3 C1604.4,1597.3 1609.1,1597.4 1613.7,1597.4 C1618.4,1597.5 1623,1597.6 1627.7,1597.7 C1632.3,1597.8 1636.9,1597.9 1641.5,1598.1 C1646.1,1598.2 1650.7,1598.4 1655.4,1598.6 C1660,1598.7 1664.6,1598.9 1669.3,1599.1 C1674,1599.2 1678.7,1599.4 1683.5,1599.4 C1688.3,1599.5 1693.2,1599.6 1698.1,1599.5 C1703,1599.5 1708.1,1599.4 1713.1,1599.3 C1718,1599.1 1723.1,1598.8 1727.9,1598.4 C1732.7,1598.1 1737.6,1597.6 1742,1597 C1746.4,1596.3 1750.6,1595.8 1754.5,1594.5 C1758.4,1593.3 1762,1591.8 1765.3,1589.5 C1768.7,1587.2 1771.8,1584.1 1774.7,1580.6 C1777.6,1577.2 1780.2,1573.1 1782.7,1569 C1785.2,1564.9 1787.4,1560.5 1789.6,1556.1 C1791.7,1551.8 1793.7,1547.4 1795.5,1542.9 C1797.4,1538.5 1799,1534 1800.7,1529.6 C1802.3,1525.1 1803.7,1520.6 1805.2,1516.1 C1806.6,1511.6 1808,1507 1809.3,1502.5 C1810.6,1498 1811.8,1493.5 1813,1488.9 C1814.2,1484.4 1815.4,1479.9 1816.5,1475.3 C1817.6,1470.8 1818.6,1466.2 1819.6,1461.7 C1820.6,1457.1 1821.5,1452.5 1822.5,1448 C1823.4,1443.4 1824.3,1438.8 1825.1,1434.3 C1826,1429.7 1826.8,1425.1 1827.6,1420.5 C1828.4,1416 1829.1,1411.4 1829.9,1406.8 C1830.7,1402.2 1831.4,1397.6 1832.1,1393 C1832.8,1388.4 1833.5,1383.8 1834.2,1379.2 C1834.9,1374.5 1835.6,1369.9 1836.3,1365.3 C1837,1360.7 1837.6,1356.1 1838.3,1351.4 C1839,1346.8 1839.7,1342.2 1840.4,1337.5 C1841.1,1332.9 1841.8,1328.3 1842.5,1323.6 C1843.2,1319 1843.9,1314.3 1844.7,1309.7 C1845.5,1305 1846.2,1300.4 1847,1295.7 C1847.8,1291 1848.7,1286.4 1849.5,1281.7 C1850.4,1277.1 1851.3,1272.4 1852.2,1267.8 C1853.1,1263.1 1854.1,1258.5 1855.2,1253.8 C1856.2,1249.2 1857.3,1244.6 1858.4,1240 C1859.5,1235.4 1860.7,1230.9 1862,1226.3 C1863.3,1221.8 1864.6,1217.3 1866,1212.8 C1867.4,1208.4 1868.9,1203.9 1870.5,1199.5 C1872.1,1195.2 1873.7,1190.8 1875.5,1186.5 C1877.2,1182.2 1879,1178 1881,1173.8 C1882.9,1169.6 1885,1165.5 1887.1,1161.4 C1889.3,1157.3 1891.5,1153.3 1893.9,1149.4 C1896.3,1145.5 1898.8,1141.6 1901.4,1137.8 C1904,1134 1906.8,1130.3 1909.7,1126.7 C1912.6,1123.1 1915.6,1119.5 1918.7,1116.1 C1921.9,1112.6 1925.2,1109.2 1928.7,1106 C1932.1,1102.7 1937.7,1098.1 1939.5,1096.5 M1954.5,1087.9 C1956.9,1087.4 1964.1,1086 1968.9,1085.3 C1973.7,1084.5 1978.5,1083.9 1983.3,1083.3 C1988.1,1082.8 1992.9,1082.4 1997.7,1082.1 C2002.5,1081.7 2007.3,1081.5 2012.1,1081.4 C2016.9,1081.2 2021.7,1081.2 2026.5,1081.2 C2031.3,1081.3 2036.1,1081.4 2040.9,1081.6 C2045.7,1081.8 2050.5,1082 2055.3,1082.4 C2060.1,1082.7 2064.9,1083.1 2069.7,1083.5 C2074.5,1084 2079.3,1084.5 2084.1,1085 C2088.9,1085.5 2093.7,1086.1 2098.5,1086.7 C2103.3,1087.4 2108.1,1088 2112.9,1088.7 C2117.7,1089.4 2122.5,1090.1 2127.3,1090.9 C2132.1,1091.6 2136.9,1092.4 2141.7,1093.1 C2146.5,1093.9 2151.3,1094.7 2156.1,1095.4 C2160.9,1096.2 2165.7,1097 2170.5,1097.8 C2175.3,1098.5 2180.1,1099.3 2184.9,1100.1 C2189.7,1100.8 2194.5,1101.5 2199.3,1102.2 C2204.1,1102.9 2208.9,1103.6 2213.7,1104.3 C2218.5,1104.9 2223.3,1105.5 2228.1,1106.1 C2232.9,1106.7 2237.7,1107.2 2242.5,1107.7 C2247.3,1108.2 2252.1,1108.6 2256.9,1109 C2261.7,1109.3 2266.5,1109.6 2271.3,1109.9 C2276.1,1110.1 2283.3,1110.3 2285.8,1110.4" stroke="#a8a8a8" stroke-width="2.8"/>
<path d="M1431,1595.4 C1433.3,1595.5 1440.4,1596 1445.1,1596.3 C1449.7,1596.5 1454.4,1596.7 1459.1,1596.9 C1463.8,1597.1 1468.5,1597.3 1473.2,1597.4 C1477.8,1597.5 1482.5,1597.6 1487.2,1597.6 C1491.9,1597.7 1496.5,1597.8 1501.2,1597.8 C1505.9,1597.8 1510.5,1597.8 1515.2,1597.8 C1519.9,1597.8 1524.5,1597.7 1529.2,1597.7 C1533.8,1597.6 1538.5,1597.6 1543.2,1597.5 C1547.8,1597.5 1552.5,1597.4 1557.2,1597.3 C1561.8,1597.2 1566.5,1597.2 1571.1,1597.1 C1575.8,1597 1580.5,1596.9 1585.1,1596.9 C1589.8,1596.8 1594.5,1596.7 1599.1,1596.7 C1603.8,1596.6 1608.5,1596.6 1613.2,1596.5 C1617.8,1596.5 1622.5,1596.5 1627.2,1596.5 C1631.9,1596.5 1636.6,1596.5 1641.2,1596.5 C1645.9,1596.6 1650.6,1596.6 1655.3,1596.7 C1660,1596.8 1664.7,1596.9 1669.4,1597.1 C1674.2,1597.2 1678.9,1597.4 1683.6,1597.6 C1688.3,1597.8 1693,1598.1 1697.8,1598.4 C1702.5,1598.7 1707.2,1599 1712,1599.4 C1716.7,1599.7 1721.5,1600.2 1726.2,1600.6 C1731,1601 1735.7,1601.4 1740.5,1601.7 C1745.2,1602 1749.9,1602.3 1754.5,1602.4 C1759.2,1602.5 1763.8,1602.5 1768.3,1602.3 C1772.9,1602 1777.4,1601.6 1781.8,1600.9 C1786.2,1600.2 1790.5,1599.3 1794.8,1598 C1799,1596.8 1803.2,1595.2 1807.2,1593.4 C1811.3,1591.6 1815.2,1589.4 1819,1587 C1822.8,1584.6 1826.5,1581.9 1830.1,1579 C1833.6,1576 1837,1572.7 1840.2,1569.3 C1843.5,1566 1846.6,1562.3 1849.5,1558.6 C1852.4,1554.9 1855.1,1551.1 1857.6,1547.2 C1860.2,1543.2 1862.6,1539.2 1864.8,1535.1 C1867.1,1531.1 1869.2,1526.9 1871.2,1522.7 C1873.1,1518.4 1875,1514.1 1876.7,1509.8 C1878.5,1505.4 1880.1,1501 1881.6,1496.5 C1883.2,1492.1 1884.6,1487.6 1886,1483 C1887.4,1478.5 1888.7,1473.9 1889.9,1469.4 C1891.2,1464.8 1892.4,1460.2 1893.6,1455.6 C1894.7,1451 1895.9,1446.3 1897,1441.7 C1898.1,1437.1 1899.2,1432.5 1900.4,1427.9 C1901.5,1423.3 1902.6,1418.7 1903.8,1414.2 C1904.9,1409.6 1906.1,1405.1 1907.3,1400.6 C1908.5,1396.1 1909.7,1391.6 1910.9,1387.1 C1912.1,1382.7 1913.3,1378.2 1914.6,1373.8 C1915.9,1369.4 1917.1,1364.9 1918.4,1360.5 C1919.7,1356.1 1921,1351.7 1922.3,1347.2 C1923.6,1342.8 1924.9,1338.4 1926.2,1334 C1927.5,1329.6 1928.8,1325.1 1930.1,1320.7 C1931.4,1316.3 1932.8,1311.8 1934.1,1307.4 C1935.4,1302.9 1936.8,1298.4 1938.1,1293.9 C1939.4,1289.4 1940.8,1284.9 1942.1,1280.4 C1943.4,1275.9 1944.7,1271.3 1946.1,1266.7 C1947.4,1262.2 1948.8,1257.6 1950.1,1253 C1951.5,1248.4 1952.9,1243.9 1954.4,1239.3 C1955.8,1234.8 1957.3,1230.2 1958.9,1225.7 C1960.5,1221.2 1962.1,1216.7 1963.7,1212.3 C1965.4,1207.9 1967.2,1203.5 1969.1,1199.2 C1970.9,1194.9 1972.8,1190.6 1974.9,1186.5 C1976.9,1182.3 1979.1,1178.2 1981.3,1174.2 C1983.6,1170.1 1986,1166.2 1988.5,1162.4 C1991.1,1158.6 1993.7,1154.8 1996.5,1151.2 C1999.3,1147.6 2002.3,1144.1 2005.4,1140.7 C2008.5,1137.4 2011.8,1134.1 2015.2,1131.1 C2018.6,1128 2022.2,1125 2025.9,1122.2 C2029.6,1119.5 2033.5,1116.8 2037.4,1114.4 C2041.3,1111.9 2045.4,1109.6 2049.5,1107.6 C2053.7,1105.5 2058,1103.6 2062.3,1101.9 C2066.6,1100.2 2071,1098.7 2075.5,1097.5 C2080,1096.2 2084.5,1095.1 2089.1,1094.2 C2093.7,1093.3 2098.4,1092.6 2103,1092 C2107.7,1091.5 2112.4,1091 2117.1,1090.7 C2121.9,1090.3 2126.6,1090.1 2131.3,1089.9 C2136.1,1089.7 2140.8,1089.6 2145.6,1089.5 C2150.3,1089.4 2155,1089.4 2159.7,1089.3 C2164.4,1089.3 2169.1,1089.3 2173.8,1089.4 C2178.5,1089.4 2183.2,1089.4 2187.8,1089.5 C2192.5,1089.6 2197.2,1089.7 2201.8,1089.8 C2206.5,1089.9 2211.2,1090.1 2215.8,1090.2 C2220.5,1090.4 2225.1,1090.5 2229.8,1090.7 C2234.4,1090.9 2239.1,1091 2243.7,1091.2 C2248.4,1091.4 2253.1,1091.6 2257.7,1091.8 C2262.4,1092 2267.1,1092.2 2271.7,1092.3 C2276.4,1092.5 2283.4,1092.8 2285.8,1092.9" stroke="#ffc010" stroke-width="3.2"/>
<path d="M1430.9,1598.7 C1433.3,1598.8 1440.5,1598.8 1445.2,1598.8 C1450,1598.8 1454.8,1598.9 1459.5,1598.9 C1464.3,1598.9 1469,1599 1473.8,1599 C1478.5,1599.1 1483.2,1599.1 1488,1599.2 C1492.7,1599.2 1497.4,1599.2 1502.1,1599.3 C1506.8,1599.3 1511.5,1599.4 1516.2,1599.4 C1520.9,1599.5 1525.6,1599.5 1530.3,1599.5 C1535,1599.5 1539.7,1599.6 1544.4,1599.6 C1549.1,1599.6 1553.8,1599.6 1558.5,1599.6 C1563.2,1599.5 1567.9,1599.5 1572.6,1599.5 C1577.2,1599.4 1581.9,1599.4 1586.6,1599.3 C1591.3,1599.2 1596,1599.1 1600.7,1599.1 C1605.4,1599 1610.1,1598.9 1614.8,1598.8 C1619.5,1598.7 1624.2,1598.6 1628.9,1598.6 C1633.6,1598.5 1638.3,1598.5 1643,1598.4 C1647.7,1598.4 1652.5,1598.4 1657.2,1598.4 C1661.9,1598.4 1666.7,1598.5 1671.4,1598.5 C1676.1,1598.6 1680.9,1598.7 1685.7,1598.9 C1690.4,1599.1 1695.2,1599.3 1700,1599.5 C1704.8,1599.8 1709.5,1600.1 1714.3,1600.5 C1719.1,1600.8 1724,1601.3 1728.8,1601.8 C1733.6,1602.2 1738.4,1602.7 1743.2,1603.2 C1748,1603.6 1752.8,1604.1 1757.6,1604.4 C1762.4,1604.7 1767.1,1604.9 1771.8,1605 C1776.5,1605 1781.2,1605 1785.8,1604.6 C1790.4,1604.3 1794.9,1603.8 1799.4,1603 C1803.8,1602.1 1808.3,1601.1 1812.5,1599.6 C1816.7,1598.2 1820.9,1596.5 1824.7,1594.3 C1828.6,1592.2 1832.4,1589.7 1835.8,1586.8 C1839.3,1584 1842.6,1580.6 1845.6,1577.2 C1848.7,1573.7 1851.6,1569.9 1854.3,1566.1 C1857,1562.3 1859.5,1558.2 1861.9,1554.1 C1864.3,1550.1 1866.5,1545.9 1868.6,1541.7 C1870.7,1537.5 1872.6,1533.2 1874.5,1528.9 C1876.3,1524.6 1878.1,1520.2 1879.7,1515.8 C1881.3,1511.3 1882.9,1506.8 1884.3,1502.3 C1885.8,1497.8 1887.2,1493.2 1888.5,1488.7 C1889.8,1484.1 1891.1,1479.5 1892.3,1474.9 C1893.5,1470.2 1894.6,1465.6 1895.8,1460.9 C1896.9,1456.3 1898,1451.6 1899.1,1447 C1900.2,1442.3 1901.3,1437.7 1902.4,1433.1 C1903.5,1428.4 1904.6,1423.8 1905.8,1419.2 C1906.9,1414.6 1908.1,1410 1909.2,1405.4 C1910.4,1400.9 1911.6,1396.3 1912.8,1391.8 C1914,1387.2 1915.2,1382.7 1916.5,1378.2 C1917.7,1373.7 1919,1369.2 1920.3,1364.7 C1921.5,1360.2 1922.8,1355.7 1924.1,1351.2 C1925.4,1346.7 1926.7,1342.2 1928,1337.7 C1929.3,1333.2 1930.6,1328.7 1931.9,1324.2 C1933.2,1319.7 1934.5,1315.2 1935.8,1310.7 C1937.2,1306.1 1938.5,1301.6 1939.8,1297.1 C1941.1,1292.6 1942.4,1288 1943.7,1283.4 C1945,1278.9 1946.3,1274.3 1947.7,1269.7 C1949,1265.1 1950.3,1260.6 1951.6,1256 C1953,1251.4 1954.4,1246.8 1955.8,1242.2 C1957.2,1237.7 1958.6,1233.1 1960.1,1228.6 C1961.7,1224.1 1963.2,1219.6 1964.9,1215.2 C1966.5,1210.7 1968.2,1206.3 1970,1202 C1971.8,1197.6 1973.7,1193.3 1975.7,1189 C1977.7,1184.8 1979.7,1180.6 1982,1176.5 C1984.2,1172.4 1986.5,1168.4 1989,1164.4 C1991.4,1160.5 1994,1156.6 1996.8,1152.8 C1999.5,1149 2002.4,1145.3 2005.5,1141.8 C2008.6,1138.2 2011.8,1134.7 2015.2,1131.4 C2018.5,1128.1 2022,1124.9 2025.7,1121.9 C2029.3,1118.8 2033.1,1115.9 2037,1113.2 C2040.9,1110.5 2044.9,1108 2049,1105.6 C2053,1103.3 2057.3,1101.2 2061.5,1099.3 C2065.8,1097.4 2070.2,1095.7 2074.6,1094.2 C2079,1092.7 2083.5,1091.5 2088.1,1090.4 C2092.6,1089.3 2097.3,1088.4 2101.9,1087.6 C2106.5,1086.8 2111.2,1086.2 2115.9,1085.7 C2120.7,1085.2 2125.4,1084.8 2130.1,1084.5 C2134.9,1084.1 2139.6,1083.9 2144.4,1083.7 C2149.1,1083.5 2153.8,1083.3 2158.6,1083.2 C2163.3,1083.1 2168,1083 2172.8,1082.9 C2177.5,1082.9 2182.2,1082.9 2186.9,1083 C2191.6,1083 2196.4,1083.1 2201.1,1083.2 C2205.8,1083.4 2210.5,1083.5 2215.2,1083.7 C2219.9,1083.9 2224.6,1084.2 2229.3,1084.4 C2234,1084.7 2238.7,1085 2243.4,1085.4 C2248.1,1085.7 2252.8,1086.1 2257.5,1086.5 C2262.3,1086.8 2267,1087.3 2271.7,1087.7 C2276.4,1088.2 2283.4,1088.9 2285.8,1089.2" stroke="#4a78cc" stroke-width="3.2"/>
<path d="M1431,1598.2 C1433.3,1598.2 1440.3,1598 1445,1597.9 C1449.7,1597.9 1454.4,1597.8 1459.1,1597.7 C1463.8,1597.6 1468.5,1597.5 1473.1,1597.4 C1477.8,1597.3 1482.5,1597.2 1487.2,1597.1 C1491.9,1597.1 1496.6,1597 1501.2,1596.9 C1505.9,1596.8 1510.6,1596.7 1515.3,1596.7 C1520,1596.6 1524.6,1596.5 1529.3,1596.5 C1534,1596.4 1538.7,1596.3 1543.4,1596.3 C1548,1596.2 1552.7,1596.2 1557.4,1596.1 C1562.1,1596.1 1566.8,1596.1 1571.4,1596 C1576.1,1596 1580.8,1596 1585.5,1596 C1590.1,1596 1594.8,1596 1599.5,1596 C1604.2,1596 1608.9,1596.1 1613.5,1596.1 C1618.2,1596.1 1622.9,1596.2 1627.5,1596.3 C1632.2,1596.3 1636.9,1596.4 1641.6,1596.5 C1646.2,1596.6 1650.9,1596.7 1655.6,1596.8 C1660.2,1597 1664.9,1597.1 1669.6,1597.3 C1674.3,1597.4 1678.9,1597.6 1683.6,1597.8 C1688.3,1598 1692.9,1598.2 1697.6,1598.4 C1702.3,1598.6 1706.9,1598.9 1711.6,1599.2 C1716.3,1599.4 1720.9,1599.7 1725.6,1600 C1730.2,1600.3 1734.9,1600.6 1739.6,1601 C1744.2,1601.3 1748.9,1601.6 1753.6,1601.9 C1758.2,1602.2 1762.9,1602.5 1767.6,1602.8 C1772.3,1603.1 1776.9,1603.4 1781.6,1603.7 C1786.3,1603.9 1791,1604.1 1795.7,1604.3 C1800.3,1604.5 1805,1604.7 1809.7,1604.8 C1814.4,1605 1819.1,1605.1 1823.9,1605.1 C1828.6,1605.1 1833.3,1605.2 1838,1605.1 C1842.7,1605.1 1847.5,1605 1852.2,1604.9 C1856.9,1604.7 1861.7,1604.5 1866.4,1604.3 C1871.2,1604 1875.9,1603.6 1880.6,1603.2 C1885.3,1602.7 1890,1602.1 1894.6,1601.3 C1899.2,1600.5 1903.7,1599.6 1908.1,1598.4 C1912.6,1597.3 1916.9,1595.9 1921.1,1594.3 C1925.3,1592.7 1929.5,1590.8 1933.4,1588.7 C1937.4,1586.5 1941.2,1584.1 1944.9,1581.4 C1948.6,1578.7 1952.1,1575.8 1955.5,1572.7 C1959,1569.6 1962.3,1566.3 1965.4,1562.9 C1968.6,1559.4 1971.7,1555.8 1974.7,1552.2 C1977.7,1548.5 1980.5,1544.7 1983.3,1540.9 C1986.1,1537.1 1988.8,1533.2 1991.4,1529.3 C1994,1525.4 1996.5,1521.5 1999,1517.5 C2001.4,1513.5 2003.8,1509.5 2006.1,1505.4 C2008.4,1501.4 2010.6,1497.3 2012.7,1493.2 C2014.9,1489 2017,1484.9 2019,1480.7 C2021,1476.5 2023,1472.3 2024.9,1468 C2026.8,1463.8 2028.7,1459.5 2030.5,1455.2 C2032.4,1450.9 2034.1,1446.6 2035.9,1442.2 C2037.6,1437.9 2039.3,1433.5 2041,1429.2 C2042.6,1424.8 2044.3,1420.4 2045.9,1416 C2047.5,1411.6 2049,1407.2 2050.6,1402.7 C2052.2,1398.3 2053.7,1393.9 2055.2,1389.4 C2056.8,1385 2058.3,1380.5 2059.8,1376.1 C2061.3,1371.6 2062.8,1367.1 2064.3,1362.7 C2065.8,1358.2 2067.3,1353.8 2068.8,1349.3 C2070.3,1344.8 2071.8,1340.4 2073.3,1335.9 C2074.9,1331.5 2076.4,1327 2078,1322.6 C2079.5,1318.2 2081.1,1313.8 2082.7,1309.3 C2084.3,1304.9 2085.9,1300.5 2087.6,1296.2 C2089.3,1291.8 2091,1287.4 2092.7,1283.1 C2094.4,1278.7 2096.2,1274.4 2098,1270.1 C2099.8,1265.8 2101.7,1261.5 2103.6,1257.2 C2105.5,1253 2107.5,1248.7 2109.5,1244.5 C2111.5,1240.3 2113.5,1236.1 2115.6,1232 C2117.7,1227.8 2119.9,1223.7 2122.1,1219.6 C2124.3,1215.5 2126.5,1211.4 2128.9,1207.3 C2131.2,1203.3 2133.5,1199.3 2135.9,1195.3 C2138.3,1191.3 2140.8,1187.3 2143.3,1183.4 C2145.8,1179.5 2148.4,1175.6 2151,1171.7 C2153.7,1167.9 2156.4,1164 2159.1,1160.2 C2161.9,1156.4 2164.7,1152.7 2167.5,1148.9 C2170.4,1145.2 2173.3,1141.5 2176.3,1137.9 C2179.3,1134.2 2182.3,1130.6 2185.5,1127.1 C2188.6,1123.5 2191.7,1120 2195,1116.6 C2198.2,1113.1 2201.5,1109.7 2204.9,1106.5 C2208.2,1103.2 2211.7,1099.9 2215.2,1096.8 C2218.7,1093.7 2222.2,1090.6 2225.9,1087.7 C2229.5,1084.8 2233.2,1081.9 2237,1079.2 C2240.8,1076.5 2244.6,1073.8 2248.5,1071.3 C2252.4,1068.8 2256.4,1066.5 2260.5,1064.2 C2264.5,1062 2268.7,1059.9 2272.9,1057.9 C2277.1,1056 2283.6,1053.4 2285.7,1052.5" stroke="#72ae48" stroke-width="3.2"/>
<path d="M1431.1,1598.6 C1433.4,1598.7 1440.5,1598.9 1445.2,1599 C1449.8,1599.1 1454.5,1599.2 1459.2,1599.3 C1463.9,1599.4 1468.6,1599.4 1473.3,1599.4 C1478,1599.5 1482.7,1599.5 1487.4,1599.5 C1492.1,1599.5 1496.8,1599.5 1501.5,1599.5 C1506.2,1599.5 1510.9,1599.4 1515.6,1599.4 C1520.3,1599.4 1525,1599.3 1529.7,1599.3 C1534.4,1599.3 1539.1,1599.2 1543.8,1599.2 C1548.5,1599.1 1553.2,1599.1 1557.9,1599 C1562.6,1599 1567.3,1598.9 1572,1598.9 C1576.7,1598.8 1581.4,1598.8 1586.1,1598.8 C1590.8,1598.7 1595.5,1598.7 1600.3,1598.7 C1605,1598.7 1609.7,1598.7 1614.4,1598.7 C1619.1,1598.7 1623.8,1598.7 1628.5,1598.8 C1633.2,1598.8 1638,1598.8 1642.7,1598.9 C1647.4,1599 1652.1,1599.1 1656.8,1599.2 C1661.5,1599.3 1666.2,1599.4 1671,1599.6 C1675.7,1599.7 1680.4,1599.9 1685.1,1600.1 C1689.8,1600.3 1694.6,1600.5 1699.3,1600.7 C1704,1600.9 1708.7,1601.2 1713.4,1601.4 C1718.1,1601.6 1722.9,1601.9 1727.6,1602.1 C1732.3,1602.3 1737,1602.5 1741.7,1602.7 C1746.5,1602.9 1751.2,1603.1 1755.9,1603.3 C1760.6,1603.5 1765.3,1603.6 1770.1,1603.8 C1774.8,1603.9 1779.5,1604.1 1784.2,1604.2 C1788.9,1604.3 1793.6,1604.4 1798.4,1604.5 C1803.1,1604.7 1807.8,1604.8 1812.5,1604.9 C1817.2,1605 1822,1605 1826.7,1605.1 C1831.4,1605.2 1836.1,1605.3 1840.8,1605.3 C1845.5,1605.4 1850.3,1605.5 1855,1605.5 C1859.7,1605.6 1864.4,1605.6 1869.1,1605.6 C1873.8,1605.7 1878.5,1605.7 1883.3,1605.7 C1888,1605.7 1892.7,1605.7 1897.4,1605.7 C1902.1,1605.7 1906.8,1605.7 1911.5,1605.7 C1916.2,1605.7 1921,1605.6 1925.7,1605.6 C1930.4,1605.5 1935.1,1605.4 1939.8,1605.3 C1944.4,1605.1 1949.1,1604.9 1953.8,1604.6 C1958.4,1604.3 1963.1,1604 1967.7,1603.5 C1972.3,1603 1976.9,1602.4 1981.4,1601.6 C1986,1600.9 1990.5,1600 1995,1599 C1999.5,1598 2003.9,1596.8 2008.3,1595.6 C2012.7,1594.3 2017.1,1592.8 2021.4,1591.2 C2025.7,1589.6 2030,1587.9 2034.2,1586 C2038.4,1584.1 2042.5,1582 2046.6,1579.8 C2050.7,1577.6 2054.7,1575.3 2058.7,1572.8 C2062.7,1570.3 2066.6,1567.7 2070.5,1565 C2074.4,1562.3 2078.2,1559.5 2081.9,1556.5 C2085.7,1553.6 2089.4,1550.6 2093,1547.5 C2096.7,1544.3 2100.3,1541.1 2103.8,1537.9 C2107.4,1534.6 2110.8,1531.3 2114.3,1527.9 C2117.7,1524.5 2121.1,1521 2124.4,1517.5 C2127.7,1514 2130.9,1510.5 2134.2,1507 C2137.4,1503.4 2140.5,1499.8 2143.6,1496.2 C2146.7,1492.6 2149.8,1489 2152.8,1485.3 C2155.8,1481.7 2158.8,1478 2161.7,1474.3 C2164.6,1470.6 2167.5,1466.9 2170.4,1463.2 C2173.2,1459.4 2176,1455.7 2178.8,1451.9 C2181.6,1448.1 2184.4,1444.4 2187.1,1440.6 C2189.9,1436.8 2192.6,1433 2195.3,1429.2 C2198,1425.4 2200.7,1421.6 2203.4,1417.7 C2206.1,1413.9 2208.7,1410.1 2211.4,1406.2 C2214.1,1402.4 2216.7,1398.6 2219.4,1394.7 C2222,1390.9 2224.7,1387 2227.4,1383.2 C2230,1379.3 2232.7,1375.5 2235.4,1371.6 C2238,1367.8 2240.7,1363.9 2243.4,1360.1 C2246.1,1356.3 2248.9,1352.4 2251.6,1348.6 C2254.3,1344.8 2257.1,1341 2259.9,1337.2 C2262.7,1333.4 2265.5,1329.6 2268.3,1325.8 C2271.2,1322 2274.1,1318.2 2277,1314.5 C2279.9,1310.7 2284.4,1305.1 2285.8,1303.3" stroke="#3b6fa3" stroke-width="3.4"/>
<path d="M1431,1596.8 C1433.3,1596.8 1440.4,1597 1445,1597.1 C1449.7,1597.2 1454.4,1597.3 1459,1597.4 C1463.7,1597.4 1468.4,1597.5 1473,1597.5 C1477.7,1597.5 1482.4,1597.5 1487.1,1597.5 C1491.7,1597.5 1496.4,1597.5 1501.1,1597.5 C1505.7,1597.4 1510.4,1597.4 1515.1,1597.3 C1519.7,1597.3 1524.4,1597.2 1529.1,1597.2 C1533.8,1597.1 1538.4,1597.1 1543.1,1597 C1547.8,1596.9 1552.4,1596.9 1557.1,1596.8 C1561.8,1596.8 1566.5,1596.7 1571.1,1596.6 C1575.8,1596.6 1580.5,1596.5 1585.1,1596.5 C1589.8,1596.4 1594.5,1596.4 1599.1,1596.4 C1603.8,1596.4 1608.5,1596.3 1613.2,1596.3 C1617.8,1596.3 1622.5,1596.3 1627.2,1596.4 C1631.8,1596.4 1636.5,1596.4 1641.2,1596.5 C1645.9,1596.5 1650.5,1596.6 1655.2,1596.7 C1659.9,1596.8 1664.5,1596.9 1669.2,1597.1 C1673.9,1597.2 1678.6,1597.3 1683.2,1597.5 C1687.9,1597.6 1692.6,1597.8 1697.2,1597.9 C1701.9,1598.1 1706.6,1598.3 1711.3,1598.5 C1715.9,1598.6 1720.6,1598.8 1725.3,1599 C1729.9,1599.2 1734.6,1599.3 1739.3,1599.5 C1744,1599.7 1748.6,1599.9 1753.3,1600 C1758,1600.2 1762.6,1600.4 1767.3,1600.5 C1772,1600.7 1776.7,1600.8 1781.3,1601 C1786,1601.1 1790.7,1601.3 1795.3,1601.4 C1800,1601.5 1804.7,1601.6 1809.4,1601.8 C1814,1601.9 1818.7,1602 1823.4,1602.1 C1828,1602.2 1832.7,1602.3 1837.4,1602.3 C1842.1,1602.4 1846.7,1602.5 1851.4,1602.5 C1856.1,1602.6 1860.7,1602.7 1865.4,1602.7 C1870.1,1602.8 1874.8,1602.8 1879.4,1602.8 C1884.1,1602.9 1888.8,1602.9 1893.4,1602.9 C1898.1,1602.9 1902.8,1602.9 1907.5,1602.9 C1912.1,1602.9 1916.8,1602.9 1921.5,1602.9 C1926.2,1602.9 1930.8,1602.9 1935.5,1602.9 C1940.2,1602.9 1944.8,1602.8 1949.5,1602.8 C1954.2,1602.8 1958.9,1602.8 1963.5,1602.8 C1968.2,1602.7 1972.9,1602.7 1977.5,1602.7 C1982.2,1602.7 1986.9,1602.6 1991.6,1602.6 C1996.2,1602.6 2000.9,1602.6 2005.6,1602.5 C2010.2,1602.5 2014.9,1602.5 2019.6,1602.5 C2024.3,1602.5 2028.9,1602.5 2033.6,1602.4 C2038.3,1602.4 2042.9,1602.4 2047.6,1602.4 C2052.3,1602.4 2057,1602.4 2061.6,1602.5 C2066.3,1602.5 2071,1602.5 2075.6,1602.5 C2080.3,1602.5 2085,1602.6 2089.7,1602.6 C2094.3,1602.7 2099,1602.7 2103.7,1602.7 C2108.3,1602.8 2113,1602.8 2117.7,1602.9 C2122.4,1602.9 2127,1602.9 2131.7,1603 C2136.4,1603 2141,1603 2145.7,1603.1 C2150.4,1603.1 2155.1,1603.1 2159.7,1603.1 C2164.4,1603.1 2169.1,1603.1 2173.7,1603.1 C2178.4,1603.1 2183.1,1603 2187.8,1603 C2192.4,1602.9 2197.1,1602.9 2201.8,1602.8 C2206.4,1602.7 2211.1,1602.6 2215.8,1602.4 C2220.5,1602.3 2225.1,1602.1 2229.8,1602 C2234.5,1601.8 2239.1,1601.6 2243.8,1601.3 C2248.5,1601.1 2253.2,1600.8 2257.8,1600.5 C2262.5,1600.2 2267.2,1599.9 2271.8,1599.6 C2276.5,1599.2 2283.5,1598.6 2285.8,1598.4" stroke="#b05a24" stroke-width="3.0"/>
</g>
</g>
<g id="B1">
<path d="M352.5,1953 V2577.5 H1220" fill="none" stroke="#000" stroke-width="3"/>
<text transform="translate(322,2588.8) scale(0.975,1)" font-size="37.5" text-anchor="end">0</text>
<text transform="translate(322,2484.7) scale(0.975,1)" font-size="37.5" text-anchor="end">500</text>
<text transform="translate(322,2380.6) scale(0.975,1)" font-size="37.5" text-anchor="end">1000</text>
<text transform="translate(322,2276.6) scale(0.975,1)" font-size="37.5" text-anchor="end">1500</text>
<text transform="translate(322,2172.5) scale(0.975,1)" font-size="37.5" text-anchor="end">2000</text>
<text transform="translate(322,2068.4) scale(0.975,1)" font-size="37.5" text-anchor="end">2500</text>
<text transform="translate(322,1964.3) scale(0.975,1)" font-size="37.5" text-anchor="end">3000</text>
<text transform="translate(353,2633.7) scale(0.99,1.04)" font-size="37.5" text-anchor="middle">0</text>
<text transform="translate(497.6,2633.7) scale(0.99,1.04)" font-size="37.5" text-anchor="middle">10</text>
<text transform="translate(642.2,2633.7) scale(0.99,1.04)" font-size="37.5" text-anchor="middle">20</text>
<text transform="translate(786.8,2633.7) scale(0.99,1.04)" font-size="37.5" text-anchor="middle">30</text>
<text transform="translate(931.3,2633.7) scale(0.99,1.04)" font-size="37.5" text-anchor="middle">40</text>
<text transform="translate(1075.9,2633.7) scale(0.99,1.04)" font-size="37.5" text-anchor="middle">50</text>
<text transform="translate(1220.5,2633.7) scale(0.99,1.04)" font-size="37.5" text-anchor="middle">60</text>
<path d="M342,2577.5 h10.5 M342,2473.4 h10.5 M342,2369.3 h10.5 M342,2265.2 h10.5 M342,2161.2 h10.5 M342,2057.1 h10.5 M342,1953 h10.5 M352.5,2577.5 v11 M497.1,2577.5 v11 M641.7,2577.5 v11 M786.2,2577.5 v11 M930.8,2577.5 v11 M1075.4,2577.5 v11 M1220,2577.5 v11" stroke="#000" stroke-width="3" fill="none"/>
<text transform="translate(787.8,2679.5) scale(1.06,1)" font-size="44" text-anchor="middle">min</text>
<text transform="translate(211.7,2258.4) rotate(-90) scale(1.015,1)" font-size="45" text-anchor="middle">Intensity (RFU)</text>
<text x="658" y="2076.8" font-size="48.5" font-style="italic">GO</text>
<line x1="388" y1="1967.4" x2="470.8" y2="1967.4" stroke="#1a1a1a" stroke-width="4.2"/>
<text x="482.8" y="1979.4" font-size="33.8">0 ng</text>
<line x1="388" y1="2007.8" x2="470.8" y2="2007.8" stroke="#d0141c" stroke-width="3.6"/>
<text x="482.8" y="2019.8" font-size="33.8">10 ng</text>
<line x1="388" y1="2048.2" x2="470.8" y2="2048.2" stroke="#a8a8a8" stroke-width="2.8"/>
<text x="482.8" y="2060.2" font-size="33.8">20 ng</text>
<line x1="388" y1="2088.6" x2="470.8" y2="2088.6" stroke="#ffc010" stroke-width="3.4"/>
<text x="482.8" y="2100.6" font-size="33.8">30 ng</text>
<line x1="388" y1="2129" x2="470.8" y2="2129" stroke="#4a78cc" stroke-width="3.4"/>
<text x="482.8" y="2141" font-size="33.8">40 ng</text>
<line x1="388" y1="2169.4" x2="470.8" y2="2169.4" stroke="#72ae48" stroke-width="3.6"/>
<text x="482.8" y="2181.4" font-size="33.8">50 ng</text>
<line x1="388" y1="2209.8" x2="470.8" y2="2209.8" stroke="#3b6fa3" stroke-width="3.6"/>
<text x="482.8" y="2221.8" font-size="33.8">60 ng</text>
<line x1="388" y1="2250.2" x2="470.8" y2="2250.2" stroke="#b05a24" stroke-width="3.0"/>
<text x="482.8" y="2262.2" font-size="33.8">70 ng</text>
<g fill="none" stroke-linejoin="round" stroke-linecap="round">
<path d="M363.9,2577.4 C366.3,2577.4 373.4,2577.5 378.1,2577.4 C382.8,2577.4 387.5,2577.3 392.2,2577.1 C396.9,2577 401.6,2576.8 406.3,2576.6 C410.9,2576.4 415.6,2576.1 420.3,2575.8 C424.9,2575.6 429.6,2575.2 434.2,2574.9 C438.9,2574.6 443.5,2574.3 448.2,2574 C452.8,2573.6 457.5,2573.3 462.1,2573 C466.7,2572.7 471.3,2572.3 476,2572 C480.6,2571.7 485.2,2571.4 489.8,2571.1 C494.5,2570.9 499.1,2570.6 503.7,2570.4 C508.3,2570.2 513,2570 517.6,2569.9 C522.2,2569.8 526.8,2569.7 531.5,2569.6 C536.1,2569.5 540.7,2569.5 545.4,2569.5 C550,2569.5 554.6,2569.5 559.3,2569.6 C563.9,2569.6 568.6,2569.7 573.2,2569.8 C577.9,2569.9 582.5,2570 587.2,2570.2 C591.9,2570.3 596.5,2570.4 601.2,2570.6 C605.9,2570.8 610.6,2570.9 615.3,2571.1 C620,2571.3 624.7,2571.5 629.4,2571.7 C634.2,2571.9 638.9,2572.1 643.6,2572.3 C648.4,2572.5 653.1,2572.7 657.9,2572.9 C662.7,2573 667.5,2573.2 672.2,2573.4 C677,2573.5 681.8,2573.7 686.6,2573.8 C691.3,2573.9 696.1,2574 700.8,2574 C705.5,2574.1 710.2,2574.1 714.9,2574 C719.5,2573.9 724.2,2573.8 728.7,2573.6 C733.3,2573.4 737.8,2573.2 742.3,2572.7 C746.7,2572.2 751,2571.7 755.2,2570.7 C759.4,2569.6 763.5,2568.4 767.3,2566.5 C771.1,2564.6 774.8,2562.1 778.2,2559.3 C781.6,2556.5 784.8,2553 787.8,2549.5 C790.8,2545.9 793.6,2541.9 796.1,2538 C798.7,2534 800.9,2529.8 803.1,2525.6 C805.2,2521.5 807,2517.2 808.8,2512.9 C810.5,2508.7 812,2504.3 813.5,2500 C814.9,2495.6 816.2,2491.2 817.5,2486.7 C818.8,2482.3 819.9,2477.8 821.1,2473.3 C822.2,2468.8 823.3,2464.2 824.4,2459.7 C825.6,2455.1 826.7,2450.6 827.8,2446 C829,2441.4 830.1,2436.8 831.3,2432.2 C832.4,2427.6 833.6,2422.9 834.7,2418.3 C835.8,2413.7 837,2409.1 838.1,2404.5 C839.3,2399.9 840.4,2395.3 841.5,2390.8 C842.6,2386.2 843.7,2381.6 844.8,2377.1 C845.9,2372.5 847,2368 848.1,2363.5 C849.2,2359 850.3,2354.4 851.3,2349.9 C852.4,2345.4 853.5,2340.9 854.5,2336.4 C855.6,2332 856.7,2327.5 857.7,2323 C858.8,2318.5 859.9,2314 860.9,2309.5 C862,2305.1 863.1,2300.6 864.2,2296.1 C865.2,2291.6 866.3,2287.1 867.4,2282.6 C868.5,2278.1 869.6,2273.6 870.7,2269.1 C871.8,2264.6 872.9,2260.1 874.1,2255.6 C875.2,2251 876.3,2246.5 877.5,2241.9 C878.6,2237.4 879.8,2232.8 881,2228.2 C882.2,2223.7 883.4,2219.1 884.7,2214.5 C886,2210 887.3,2205.4 888.6,2200.9 C890,2196.3 891.4,2191.8 892.9,2187.3 C894.4,2182.8 896,2178.4 897.6,2174 C899.3,2169.6 901,2165.2 902.9,2160.9 C904.7,2156.7 906.6,2152.4 908.7,2148.3 C910.8,2144.1 912.9,2140 915.2,2136 C917.5,2132 920,2128.1 922.5,2124.2 C925.1,2120.4 927.8,2116.7 930.7,2113 C933.6,2109.4 936.6,2105.9 939.8,2102.5 C943,2099.1 946.4,2095.8 950,2092.8 C953.5,2089.7 957.2,2086.8 961.1,2084.3 C964.9,2081.8 968.9,2079.5 973,2077.7 C977.1,2076 981.3,2074.6 985.6,2073.6 C989.9,2072.6 994.3,2072 998.7,2071.6 C1003.2,2071.3 1007.8,2071.3 1012.4,2071.5 C1017,2071.7 1021.6,2072.2 1026.3,2072.7 C1031,2073.3 1035.7,2074.2 1040.5,2075 C1045.2,2075.9 1050,2077 1054.7,2078 C1059.5,2079.1 1064.2,2080.2 1068.9,2081.4 C1073.6,2082.5 1078.3,2083.6 1083,2084.7 C1087.6,2085.8 1092.2,2086.8 1096.8,2087.8 C1101.4,2088.9 1105.9,2089.8 1110.4,2090.8 C1115,2091.7 1119.4,2092.6 1123.9,2093.5 C1128.4,2094.4 1132.9,2095.2 1137.4,2096.1 C1141.9,2096.9 1146.3,2097.7 1150.8,2098.5 C1155.3,2099.3 1159.8,2100 1164.3,2100.8 C1168.8,2101.6 1173.4,2102.3 1177.9,2103.1 C1182.5,2103.8 1187.1,2104.5 1191.7,2105.3 C1196.4,2106 1201,2106.7 1205.7,2107.5 C1210.5,2108.2 1217.7,2109.3 1220.1,2109.7" stroke="#1a1a1a" stroke-width="3.6"/>
<path d="M364.1,2577.3 C366.5,2577.3 373.4,2577.1 378.1,2577 C382.7,2576.8 387.4,2576.7 392.1,2576.5 C396.7,2576.3 401.4,2576.1 406.1,2575.9 C410.7,2575.7 415.4,2575.5 420.1,2575.3 C424.8,2575 429.4,2574.8 434.1,2574.6 C438.8,2574.3 443.5,2574.1 448.2,2573.8 C452.9,2573.6 457.6,2573.3 462.3,2573.1 C466.9,2572.8 471.6,2572.6 476.3,2572.3 C481,2572.1 485.7,2571.8 490.4,2571.6 C495.1,2571.4 499.8,2571.2 504.5,2570.9 C509.2,2570.7 513.9,2570.5 518.7,2570.3 C523.4,2570.1 528.1,2570 532.8,2569.8 C537.5,2569.7 542.2,2569.5 546.9,2569.4 C551.6,2569.3 556.3,2569.2 561,2569.1 C565.7,2569 570.5,2569 575.2,2569 C579.9,2569 584.6,2569 589.3,2569 C594,2569 598.7,2569.1 603.4,2569.2 C608.2,2569.3 612.9,2569.4 617.6,2569.6 C622.3,2569.8 627,2570 631.7,2570.3 C636.4,2570.5 641.1,2570.8 645.9,2571.1 C650.6,2571.4 655.3,2571.8 660,2572.1 C664.7,2572.4 669.4,2572.8 674.1,2573.1 C678.8,2573.4 683.5,2573.6 688.2,2573.9 C692.9,2574.1 697.6,2574.3 702.3,2574.4 C707,2574.5 711.7,2574.6 716.4,2574.6 C721.1,2574.6 725.8,2574.6 730.5,2574.5 C735.2,2574.5 739.9,2574.4 744.5,2574.4 C749.2,2574.3 753.9,2574.2 758.6,2574.2 C763.3,2574.2 768,2574.2 772.6,2574.2 C777.3,2574.3 782,2574.3 786.6,2574.4 C791.3,2574.5 796,2574.6 800.6,2574.7 C805.3,2574.8 810,2575 814.6,2575.1 C819.3,2575.2 823.9,2575.2 828.6,2575.3 C833.2,2575.4 837.8,2575.4 842.5,2575.4 C847.1,2575.4 851.8,2575.3 856.4,2575.2 C861,2575.1 865.6,2574.9 870.3,2574.7 C874.9,2574.4 879.5,2574.1 884.1,2573.7 C888.7,2573.3 893.3,2572.9 897.9,2572.2 C902.5,2571.6 907.1,2570.9 911.6,2569.9 C916.1,2568.9 920.6,2567.8 924.9,2566.3 C929.3,2564.7 933.6,2562.9 937.7,2560.7 C941.8,2558.4 945.8,2555.7 949.7,2552.8 C953.6,2549.9 957.3,2546.6 960.9,2543.4 C964.5,2540.1 968,2536.6 971.3,2533.1 C974.7,2529.6 977.9,2526.1 981,2522.5 C984.1,2518.9 987.1,2515.3 990,2511.6 C992.9,2507.9 995.8,2504.2 998.5,2500.4 C1001.3,2496.7 1003.9,2492.9 1006.6,2489.1 C1009.2,2485.2 1011.8,2481.4 1014.3,2477.5 C1016.8,2473.6 1019.2,2469.7 1021.7,2465.8 C1024.1,2461.8 1026.4,2457.8 1028.8,2453.9 C1031.1,2449.9 1033.4,2445.8 1035.7,2441.8 C1037.9,2437.7 1040.2,2433.7 1042.4,2429.6 C1044.6,2425.4 1046.8,2421.3 1048.9,2417.2 C1051.1,2413 1053.2,2408.8 1055.3,2404.6 C1057.5,2400.4 1059.5,2396.2 1061.6,2392 C1063.7,2387.7 1065.7,2383.5 1067.8,2379.2 C1069.8,2374.9 1071.8,2370.6 1073.8,2366.3 C1075.8,2361.9 1077.8,2357.6 1079.7,2353.3 C1081.7,2348.9 1083.7,2344.6 1085.6,2340.2 C1087.5,2335.9 1089.5,2331.5 1091.4,2327.2 C1093.3,2322.9 1095.2,2318.6 1097.2,2314.3 C1099.1,2310 1101,2305.7 1103,2301.4 C1104.9,2297.2 1106.9,2292.9 1108.9,2288.7 C1110.9,2284.5 1112.9,2280.4 1115.1,2276.2 C1117.2,2272.1 1119.4,2268 1121.7,2264 C1124,2260 1126.3,2256 1128.8,2252.1 C1131.3,2248.2 1133.9,2244.3 1136.6,2240.5 C1139.3,2236.7 1142.1,2233 1144.9,2229.4 C1147.8,2225.7 1150.8,2222.1 1153.9,2218.6 C1157,2215.1 1160.2,2211.7 1163.5,2208.4 C1166.7,2205.1 1170.1,2201.9 1173.6,2198.7 C1177.1,2195.6 1180.7,2192.6 1184.3,2189.6 C1188,2186.7 1191.8,2183.9 1195.7,2181.2 C1199.5,2178.5 1203.5,2175.9 1207.6,2173.4 C1211.6,2171 1218,2167.6 1220,2166.4" stroke="#d0141c" stroke-width="3.4"/>
<path d="M364,2575.6 C366.3,2575.4 373.4,2574.8 378,2574.4 C382.7,2574 387.4,2573.6 392.1,2573.3 C396.8,2572.9 401.4,2572.6 406.1,2572.3 C410.8,2571.9 415.5,2571.6 420.2,2571.3 C424.8,2571 429.5,2570.7 434.2,2570.4 C438.9,2570.1 443.6,2569.9 448.3,2569.6 C452.9,2569.3 457.6,2569.1 462.3,2568.9 C467,2568.6 471.7,2568.4 476.4,2568.2 C481,2568 485.7,2567.7 490.4,2567.5 C495.1,2567.4 499.8,2567.2 504.5,2567 C509.2,2566.8 513.8,2566.6 518.5,2566.5 C523.2,2566.3 527.9,2566.2 532.6,2566 C537.3,2565.9 542,2565.7 546.7,2565.6 C551.3,2565.5 556,2565.3 560.7,2565.2 C565.4,2565.1 570.1,2565 574.8,2564.9 C579.5,2564.8 584.2,2564.7 588.8,2564.6 C593.5,2564.5 598.2,2564.4 602.9,2564.4 C607.6,2564.3 612.3,2564.2 617,2564.1 C621.7,2564.1 626.4,2564 631.1,2563.9 C635.7,2563.9 640.4,2563.8 645.1,2563.8 C649.8,2563.7 654.5,2563.7 659.2,2563.6 C663.9,2563.6 668.6,2563.6 673.3,2563.5 C678,2563.5 682.6,2563.5 687.3,2563.4 C692,2563.4 696.7,2563.4 701.4,2563.4 C706.1,2563.3 710.8,2563.3 715.5,2563.3 C720.2,2563.3 724.9,2563.3 729.6,2563.2 C734.3,2563.2 739,2563.2 743.6,2563.2 C748.3,2563.2 753,2563.1 757.7,2563.1 C762.4,2563.1 767.1,2563.1 771.8,2563.1 C776.5,2563.1 781.2,2563.1 785.9,2563 C790.6,2563 795.3,2563 800,2563 C804.6,2563 809.3,2562.9 814,2562.9 C818.7,2562.9 823.4,2562.9 828.1,2562.9 C832.8,2562.8 837.5,2562.8 842.2,2562.8 C846.9,2562.8 851.6,2562.8 856.3,2562.7 C861,2562.7 865.7,2562.7 870.4,2562.7 C875,2562.7 879.7,2562.6 884.4,2562.6 C889.1,2562.6 893.8,2562.6 898.5,2562.6 C903.2,2562.5 907.9,2562.5 912.6,2562.5 C917.3,2562.5 922,2562.5 926.7,2562.4 C931.4,2562.4 936.1,2562.4 940.7,2562.4 C945.4,2562.4 950.1,2562.4 954.8,2562.3 C959.5,2562.3 964.2,2562.3 968.9,2562.3 C973.6,2562.3 978.3,2562.3 983,2562.3 C987.7,2562.2 992.4,2562.2 997.1,2562.2 C1001.7,2562.2 1006.4,2562.2 1011.1,2562.2 C1015.8,2562.2 1020.5,2562.2 1025.2,2562.2 C1029.9,2562.2 1034.6,2562.2 1039.3,2562.2 C1044,2562.2 1048.7,2562.2 1053.4,2562.2 C1058,2562.2 1062.7,2562.2 1067.4,2562.2 C1072.1,2562.2 1076.8,2562.2 1081.5,2562.2 C1086.2,2562.3 1090.9,2562.3 1095.6,2562.3 C1100.3,2562.3 1104.9,2562.3 1109.6,2562.3 C1114.3,2562.4 1119,2562.4 1123.7,2562.4 C1128.4,2562.4 1133.1,2562.5 1137.8,2562.5 C1142.5,2562.5 1147.1,2562.6 1151.8,2562.6 C1156.5,2562.6 1161.2,2562.7 1165.9,2562.7 C1170.6,2562.8 1175.3,2562.8 1180,2562.9 C1184.6,2562.9 1189.3,2563 1194,2563 C1198.7,2563.1 1203.4,2563.1 1208.1,2563.2 C1212.8,2563.2 1219.8,2563.3 1222.1,2563.4" stroke="#a8a8a8" stroke-width="2.8"/>
<path d="M364,2577.4 C420,2577 557,2575.1 700,2574.9 C843,2574.6 1135.1,2575.7 1222.1,2575.9" stroke="#ffc010" stroke-width="3.2"/>
<path d="M364,2577.6 C366.4,2577.5 373.4,2577.3 378.1,2577.1 C382.8,2577 387.5,2576.9 392.2,2576.7 C396.9,2576.6 401.5,2576.4 406.2,2576.3 C410.9,2576.2 415.6,2576 420.3,2575.9 C425,2575.8 429.7,2575.7 434.4,2575.5 C439.1,2575.4 443.7,2575.3 448.4,2575.2 C453.1,2575.1 457.8,2575 462.5,2574.8 C467.2,2574.7 471.9,2574.6 476.6,2574.5 C481.2,2574.4 485.9,2574.3 490.6,2574.2 C495.3,2574.1 500,2574 504.7,2574 C509.4,2573.9 514.1,2573.8 518.7,2573.7 C523.4,2573.6 528.1,2573.5 532.8,2573.5 C537.5,2573.4 542.2,2573.3 546.9,2573.3 C551.6,2573.2 556.3,2573.1 560.9,2573.1 C565.6,2573 570.3,2573 575,2572.9 C579.7,2572.9 584.4,2572.9 589.1,2572.8 C593.8,2572.8 598.4,2572.7 603.1,2572.7 C607.8,2572.7 612.5,2572.7 617.2,2572.6 C621.9,2572.6 626.6,2572.6 631.3,2572.6 C636,2572.6 640.6,2572.6 645.3,2572.6 C650,2572.5 654.7,2572.5 659.4,2572.5 C664.1,2572.5 668.8,2572.5 673.5,2572.5 C678.1,2572.6 682.8,2572.6 687.5,2572.6 C692.2,2572.6 696.9,2572.6 701.6,2572.6 C706.3,2572.6 711,2572.6 715.7,2572.7 C720.3,2572.7 725,2572.7 729.7,2572.7 C734.4,2572.7 739.1,2572.8 743.8,2572.8 C748.5,2572.8 753.2,2572.8 757.9,2572.9 C762.5,2572.9 767.2,2572.9 771.9,2572.9 C776.6,2573 781.3,2573 786,2573 C790.7,2573.1 795.4,2573.1 800.1,2573.1 C804.7,2573.1 809.4,2573.2 814.1,2573.2 C818.8,2573.2 823.5,2573.3 828.2,2573.3 C832.9,2573.3 837.6,2573.4 842.3,2573.4 C846.9,2573.4 851.6,2573.4 856.3,2573.5 C861,2573.5 865.7,2573.5 870.4,2573.6 C875.1,2573.6 879.8,2573.6 884.5,2573.6 C889.2,2573.7 893.8,2573.7 898.5,2573.7 C903.2,2573.8 907.9,2573.8 912.6,2573.8 C917.3,2573.8 922,2573.9 926.7,2573.9 C931.4,2573.9 936,2573.9 940.7,2574 C945.4,2574 950.1,2574 954.8,2574 C959.5,2574.1 964.2,2574.1 968.9,2574.1 C973.6,2574.1 978.3,2574.2 982.9,2574.2 C987.6,2574.2 992.3,2574.2 997,2574.3 C1001.7,2574.3 1006.4,2574.3 1011.1,2574.3 C1015.8,2574.4 1020.5,2574.4 1025.2,2574.4 C1029.8,2574.4 1034.5,2574.4 1039.2,2574.5 C1043.9,2574.5 1048.6,2574.5 1053.3,2574.5 C1058,2574.5 1062.7,2574.5 1067.4,2574.6 C1072.1,2574.6 1076.7,2574.6 1081.4,2574.6 C1086.1,2574.6 1090.8,2574.6 1095.5,2574.7 C1100.2,2574.7 1104.9,2574.7 1109.6,2574.7 C1114.3,2574.7 1119,2574.7 1123.6,2574.7 C1128.3,2574.7 1133,2574.8 1137.7,2574.8 C1142.4,2574.8 1147.1,2574.8 1151.8,2574.8 C1156.5,2574.8 1161.2,2574.8 1165.9,2574.8 C1170.6,2574.8 1175.2,2574.8 1179.9,2574.8 C1184.6,2574.8 1189.3,2574.8 1194,2574.8 C1198.7,2574.8 1203.4,2574.8 1208.1,2574.8 C1212.8,2574.8 1219.8,2574.8 1222.2,2574.8" stroke="#4a78cc" stroke-width="3.2"/>
<path d="M364,2577.4 C420,2576.8 557,2574.3 700,2573.9 C843,2573.5 1135.1,2574.7 1222.1,2574.9" stroke="#72ae48" stroke-width="3.2"/>
<path d="M364,2577.4 C408.5,2576.8 574.7,2574.8 630.7,2574 C686.7,2573.2 601.4,2572.6 700,2572.5 C798.6,2572.5 1135.1,2573.7 1222.1,2573.9" stroke="#3b6fa3" stroke-width="3.4"/>
<path d="M364,2577.9 C420,2577.6 557,2576.1 700,2575.9 C843,2575.7 1135.1,2576.5 1222.1,2576.6" stroke="#b05a24" stroke-width="3.0"/>
</g>
</g>
<g id="B2">
<path d="M1471,1945 V2569 H2337" fill="none" stroke="#000" stroke-width="3"/>
<text transform="translate(1440.5,2580.3) scale(0.975,1)" font-size="37.5" text-anchor="end">0</text>
<text transform="translate(1440.5,2502.3) scale(0.975,1)" font-size="37.5" text-anchor="end">500</text>
<text transform="translate(1440.5,2424.3) scale(0.975,1)" font-size="37.5" text-anchor="end">1000</text>
<text transform="translate(1440.5,2346.3) scale(0.975,1)" font-size="37.5" text-anchor="end">1500</text>
<text transform="translate(1440.5,2268.3) scale(0.975,1)" font-size="37.5" text-anchor="end">2000</text>
<text transform="translate(1440.5,2190.3) scale(0.975,1)" font-size="37.5" text-anchor="end">2500</text>
<text transform="translate(1440.5,2112.3) scale(0.975,1)" font-size="37.5" text-anchor="end">3000</text>
<text transform="translate(1440.5,2034.3) scale(0.975,1)" font-size="37.5" text-anchor="end">3500</text>
<text transform="translate(1440.5,1956.3) scale(0.975,1)" font-size="37.5" text-anchor="end">4000</text>
<text transform="translate(1471.5,2625.2) scale(0.99,1.04)" font-size="37.5" text-anchor="middle">0</text>
<text transform="translate(1615.8,2625.2) scale(0.99,1.04)" font-size="37.5" text-anchor="middle">10</text>
<text transform="translate(1760.2,2625.2) scale(0.99,1.04)" font-size="37.5" text-anchor="middle">20</text>
<text transform="translate(1904.5,2625.2) scale(0.99,1.04)" font-size="37.5" text-anchor="middle">30</text>
<text transform="translate(2048.8,2625.2) scale(0.99,1.04)" font-size="37.5" text-anchor="middle">40</text>
<text transform="translate(2193.2,2625.2) scale(0.99,1.04)" font-size="37.5" text-anchor="middle">50</text>
<text transform="translate(2337.5,2625.2) scale(0.99,1.04)" font-size="37.5" text-anchor="middle">60</text>
<path d="M1460.5,2569 h10.5 M1460.5,2491 h10.5 M1460.5,2413 h10.5 M1460.5,2335 h10.5 M1460.5,2257 h10.5 M1460.5,2179 h10.5 M1460.5,2101 h10.5 M1460.5,2023 h10.5 M1460.5,1945 h10.5 M1471,2569 v11 M1615.3,2569 v11 M1759.7,2569 v11 M1904,2569 v11 M2048.3,2569 v11 M2192.7,2569 v11 M2337,2569 v11" stroke="#000" stroke-width="3" fill="none"/>
<text transform="translate(1905.5,2671) scale(1.06,1)" font-size="44" text-anchor="middle">min</text>
<text transform="translate(1329.3,2252.5) rotate(-90) scale(1.015,1)" font-size="45" text-anchor="middle">Intensity (RFU)</text>
<text x="1729.5" y="2050" font-size="45.3" font-style="italic">AuNPs&#64;GO</text>
<line x1="1494.1" y1="1966.1" x2="1577" y2="1966.1" stroke="#1a1a1a" stroke-width="4.2"/>
<text x="1593.5" y="1978.1" font-size="33.8">0 ng</text>
<line x1="1494.1" y1="2005.8" x2="1577" y2="2005.8" stroke="#d0141c" stroke-width="3.6"/>
<text x="1593.5" y="2017.8" font-size="33.8">10 ng</text>
<line x1="1494.1" y1="2045.5" x2="1577" y2="2045.5" stroke="#a8a8a8" stroke-width="2.8"/>
<text x="1593.5" y="2057.5" font-size="33.8">20 ng</text>
<line x1="1494.1" y1="2085.2" x2="1577" y2="2085.2" stroke="#ffc010" stroke-width="3.4"/>
<text x="1593.5" y="2097.2" font-size="33.8">30 ng</text>
<line x1="1494.1" y1="2124.9" x2="1577" y2="2124.9" stroke="#4a78cc" stroke-width="3.4"/>
<text x="1593.5" y="2136.9" font-size="33.8">40 ng</text>
<line x1="1494.1" y1="2164.6" x2="1577" y2="2164.6" stroke="#72ae48" stroke-width="3.6"/>
<text x="1593.5" y="2176.6" font-size="33.8">50 ng</text>
<line x1="1494.1" y1="2204.3" x2="1577" y2="2204.3" stroke="#3b6fa3" stroke-width="3.6"/>
<text x="1593.5" y="2216.3" font-size="33.8">60 ng</text>
<line x1="1494.1" y1="2244" x2="1577" y2="2244" stroke="#b05a24" stroke-width="3.0"/>
<text x="1593.5" y="2256" font-size="33.8">70 ng</text>
<g fill="none" stroke-linejoin="round" stroke-linecap="round">
<path d="M1488,2569.3 C1490.3,2569.3 1497.5,2569.2 1502.3,2569.2 C1507.1,2569.1 1511.8,2569.1 1516.6,2569.1 C1521.3,2569 1526,2569 1530.8,2569 C1535.5,2569 1540.2,2569 1544.9,2569 C1549.6,2569 1554.3,2569 1559,2569 C1563.7,2569 1568.4,2569 1573,2569.1 C1577.7,2569.1 1582.4,2569.1 1587.1,2569.1 C1591.7,2569.2 1596.4,2569.2 1601,2569.2 C1605.7,2569.2 1610.4,2569.3 1615,2569.3 C1619.7,2569.3 1624.3,2569.4 1629,2569.4 C1633.6,2569.4 1638.3,2569.5 1642.9,2569.5 C1647.6,2569.5 1652.2,2569.6 1656.9,2569.6 C1661.5,2569.6 1666.2,2569.7 1670.8,2569.7 C1675.5,2569.7 1680.1,2569.7 1684.8,2569.8 C1689.5,2569.8 1694.1,2569.8 1698.8,2569.8 C1703.5,2569.8 1708.2,2569.8 1712.9,2569.8 C1717.5,2569.8 1722.2,2569.8 1726.9,2569.8 C1731.6,2569.8 1736.4,2569.7 1741.1,2569.7 C1745.8,2569.7 1750.5,2569.7 1755.3,2569.6 C1760,2569.6 1764.8,2569.5 1769.5,2569.4 C1774.3,2569.4 1779.1,2569.3 1783.9,2569.2 C1788.7,2569.1 1793.5,2569.1 1798.3,2569 C1803.1,2568.9 1807.9,2568.8 1812.7,2568.7 C1817.5,2568.7 1822.3,2568.6 1827.1,2568.5 C1831.8,2568.5 1836.6,2568.4 1841.4,2568.4 C1846.1,2568.4 1850.9,2568.4 1855.6,2568.4 C1860.4,2568.4 1865.1,2568.4 1869.7,2568.4 C1874.4,2568.4 1879.1,2568.4 1883.7,2568.3 C1888.3,2568.2 1892.9,2568.2 1897.5,2567.9 C1902,2567.6 1906.5,2567.2 1911,2566.5 C1915.5,2565.8 1919.9,2564.9 1924.3,2563.6 C1928.6,2562.4 1933,2560.8 1937.2,2559 C1941.4,2557.3 1945.6,2555.2 1949.6,2552.9 C1953.6,2550.7 1957.6,2548.2 1961.4,2545.5 C1965.1,2542.8 1968.8,2539.8 1972.3,2536.8 C1975.9,2533.7 1979.2,2530.4 1982.4,2527 C1985.6,2523.6 1988.7,2520 1991.6,2516.4 C1994.5,2512.7 1997.2,2508.9 1999.8,2505 C2002.4,2501.1 2004.9,2497 2007.3,2493 C2009.7,2488.9 2012,2484.7 2014.2,2480.5 C2016.4,2476.3 2018.5,2472.1 2020.6,2467.8 C2022.6,2463.5 2024.6,2459.3 2026.6,2455 C2028.5,2450.7 2030.4,2446.3 2032.2,2442 C2034,2437.7 2035.8,2433.3 2037.6,2429 C2039.3,2424.6 2041,2420.2 2042.6,2415.8 C2044.3,2411.5 2045.9,2407.1 2047.4,2402.6 C2049,2398.2 2050.5,2393.8 2052,2389.4 C2053.5,2385 2055,2380.5 2056.4,2376.1 C2057.8,2371.6 2059.3,2367.2 2060.6,2362.7 C2062,2358.2 2063.4,2353.8 2064.7,2349.3 C2066.1,2344.8 2067.4,2340.3 2068.7,2335.8 C2070,2331.3 2071.3,2326.8 2072.6,2322.3 C2073.9,2317.8 2075.2,2313.3 2076.4,2308.8 C2077.7,2304.3 2079,2299.8 2080.3,2295.3 C2081.5,2290.8 2082.8,2286.3 2084.1,2281.8 C2085.4,2277.3 2086.7,2272.8 2088,2268.3 C2089.3,2263.8 2090.6,2259.2 2091.9,2254.7 C2093.2,2250.2 2094.5,2245.7 2095.9,2241.2 C2097.3,2236.7 2098.6,2232.2 2100,2227.7 C2101.4,2223.3 2102.9,2218.8 2104.3,2214.3 C2105.8,2209.8 2107.2,2205.3 2108.8,2200.9 C2110.3,2196.4 2111.8,2191.9 2113.4,2187.5 C2115,2183 2116.6,2178.6 2118.3,2174.2 C2120,2169.7 2121.7,2165.3 2123.5,2160.9 C2125.2,2156.5 2127.1,2152.1 2128.9,2147.7 C2130.8,2143.4 2132.7,2139 2134.7,2134.7 C2136.7,2130.4 2138.8,2126.2 2140.9,2121.9 C2143,2117.7 2145.2,2113.5 2147.4,2109.4 C2149.7,2105.3 2152,2101.2 2154.4,2097.2 C2156.9,2093.2 2159.3,2089.2 2161.9,2085.3 C2164.5,2081.4 2167.2,2077.6 2169.9,2073.9 C2172.7,2070.1 2175.5,2066.5 2178.5,2062.9 C2181.4,2059.3 2184.5,2055.8 2187.6,2052.4 C2190.8,2049 2194,2045.7 2197.4,2042.5 C2200.7,2039.3 2204.2,2036.2 2207.8,2033.2 C2211.3,2030.2 2215,2027.3 2218.8,2024.5 C2222.5,2021.8 2226.4,2019.1 2230.3,2016.6 C2234.2,2014.1 2238.3,2011.7 2242.4,2009.4 C2246.4,2007.2 2250.6,2005 2254.9,2003 C2259.1,2001.1 2263.4,1999.2 2267.8,1997.5 C2272.2,1995.9 2276.6,1994.3 2281.1,1993 C2285.6,1991.6 2290.1,1990.4 2294.7,1989.3 C2299.3,1988.3 2303.9,1987.4 2308.6,1986.7 C2313.3,1986 2318,1985.5 2322.7,1985.1 C2327.4,1984.8 2334.6,1984.8 2337,1984.7" stroke="#1a1a1a" stroke-width="3.6"/>
<path d="M1488.3,2569.8 C1490.6,2569.8 1497.6,2569.7 1502.2,2569.7 C1506.9,2569.6 1511.5,2569.5 1516.2,2569.5 C1520.8,2569.4 1525.5,2569.3 1530.2,2569.2 C1534.8,2569.1 1539.5,2569 1544.2,2568.9 C1548.8,2568.8 1553.5,2568.7 1558.2,2568.6 C1562.9,2568.5 1567.6,2568.4 1572.3,2568.3 C1577,2568.1 1581.7,2568 1586.4,2567.9 C1591.1,2567.8 1595.8,2567.6 1600.5,2567.5 C1605.2,2567.4 1609.9,2567.3 1614.6,2567.1 C1619.3,2567 1624,2566.9 1628.8,2566.8 C1633.5,2566.6 1638.2,2566.5 1642.9,2566.4 C1647.7,2566.3 1652.4,2566.2 1657.1,2566.1 C1661.9,2566 1666.6,2565.9 1671.3,2565.8 C1676.1,2565.7 1680.8,2565.6 1685.5,2565.5 C1690.3,2565.4 1695,2565.4 1699.7,2565.3 C1704.5,2565.3 1709.2,2565.2 1714,2565.2 C1718.7,2565.1 1723.5,2565.1 1728.2,2565.1 C1732.9,2565.1 1737.7,2565.1 1742.4,2565.1 C1747.2,2565.1 1751.9,2565.1 1756.7,2565.2 C1761.4,2565.2 1766.1,2565.3 1770.9,2565.4 C1775.6,2565.4 1780.4,2565.5 1785.1,2565.6 C1789.8,2565.7 1794.6,2565.8 1799.3,2566 C1804.1,2566.1 1808.8,2566.2 1813.5,2566.4 C1818.3,2566.5 1823,2566.6 1827.7,2566.8 C1832.5,2566.9 1837.2,2567 1841.9,2567.2 C1846.6,2567.3 1851.4,2567.4 1856.1,2567.5 C1860.8,2567.7 1865.5,2567.8 1870.3,2567.9 C1875,2567.9 1879.7,2568 1884.4,2568.1 C1889.1,2568.1 1893.8,2568.2 1898.5,2568.2 C1903.2,2568.2 1907.9,2568.2 1912.6,2568.2 C1917.3,2568.1 1922,2568.1 1926.7,2568 C1931.4,2568 1936,2567.9 1940.7,2567.8 C1945.4,2567.7 1950.1,2567.6 1954.7,2567.6 C1959.4,2567.5 1964.1,2567.5 1968.7,2567.5 C1973.4,2567.5 1978,2567.5 1982.7,2567.6 C1987.3,2567.6 1991.9,2567.7 1996.6,2567.7 C2001.2,2567.8 2005.8,2567.8 2010.5,2567.7 C2015.1,2567.7 2019.7,2567.6 2024.3,2567.3 C2028.9,2567 2033.5,2566.6 2038.1,2566.1 C2042.7,2565.5 2047.3,2564.7 2051.8,2563.8 C2056.4,2562.8 2061,2561.6 2065.5,2560.3 C2070,2558.9 2074.5,2557.4 2078.9,2555.7 C2083.4,2553.9 2087.8,2552 2092.1,2550 C2096.4,2547.9 2100.6,2545.7 2104.7,2543.3 C2108.9,2540.9 2112.9,2538.4 2116.8,2535.7 C2120.8,2533.1 2124.6,2530.3 2128.3,2527.3 C2132,2524.4 2135.5,2521.3 2139,2518.2 C2142.4,2515 2145.8,2511.7 2149,2508.3 C2152.2,2504.9 2155.3,2501.4 2158.3,2497.9 C2161.3,2494.3 2164.2,2490.6 2167,2486.9 C2169.8,2483.1 2172.5,2479.3 2175,2475.4 C2177.6,2471.5 2180.1,2467.6 2182.5,2463.5 C2184.9,2459.5 2187.1,2455.5 2189.4,2451.3 C2191.6,2447.2 2193.7,2443 2195.8,2438.8 C2197.8,2434.6 2199.8,2430.3 2201.7,2426 C2203.7,2421.7 2205.5,2417.4 2207.4,2413 C2209.2,2408.6 2211,2404.2 2212.7,2399.8 C2214.4,2395.4 2216.1,2390.9 2217.8,2386.5 C2219.5,2382 2221.1,2377.5 2222.7,2373.1 C2224.3,2368.6 2225.9,2364.1 2227.5,2359.6 C2229.1,2355.1 2230.7,2350.6 2232.3,2346.1 C2233.8,2341.6 2235.4,2337.2 2237,2332.7 C2238.6,2328.2 2240.2,2323.8 2241.8,2319.3 C2243.4,2314.9 2245,2310.4 2246.6,2306 C2248.2,2301.6 2249.8,2297.1 2251.5,2292.7 C2253.1,2288.3 2254.7,2283.9 2256.3,2279.5 C2257.9,2275.1 2259.6,2270.7 2261.2,2266.3 C2262.8,2261.9 2264.5,2257.5 2266.1,2253.1 C2267.8,2248.7 2269.4,2244.3 2271.1,2239.9 C2272.7,2235.5 2274.4,2231.1 2276,2226.8 C2277.7,2222.4 2279.3,2218 2281,2213.6 C2282.6,2209.2 2284.3,2204.9 2286,2200.5 C2287.7,2196.1 2289.3,2191.8 2291,2187.4 C2292.7,2183 2294.4,2178.6 2296,2174.3 C2297.7,2169.9 2299.4,2165.5 2301.1,2161.1 C2302.8,2156.7 2304.5,2152.4 2306.2,2148 C2307.9,2143.6 2309.6,2139.2 2311.3,2134.8 C2313,2130.4 2314.7,2126 2316.4,2121.6 C2318.1,2117.2 2319.8,2112.8 2321.5,2108.4 C2323.2,2104 2324.9,2099.6 2326.6,2095.2 C2328.3,2090.8 2330.1,2086.3 2331.8,2081.9 C2333.5,2077.5 2336.1,2070.8 2336.9,2068.6" stroke="#d0141c" stroke-width="3.4"/>
<path d="M1488.1,2569.2 C1490.5,2569.2 1497.6,2569.2 1502.3,2569.2 C1507,2569.3 1511.7,2569.3 1516.4,2569.3 C1521.1,2569.3 1525.8,2569.3 1530.5,2569.3 C1535.3,2569.3 1540,2569.3 1544.7,2569.3 C1549.4,2569.3 1554.1,2569.3 1558.8,2569.3 C1563.6,2569.3 1568.3,2569.3 1573,2569.3 C1577.7,2569.2 1582.4,2569.2 1587.2,2569.2 C1591.9,2569.2 1596.6,2569.2 1601.3,2569.2 C1606,2569.1 1610.8,2569.1 1615.5,2569.1 C1620.2,2569.1 1624.9,2569 1629.6,2569 C1634.4,2569 1639.1,2568.9 1643.8,2568.9 C1648.5,2568.9 1653.3,2568.8 1658,2568.8 C1662.7,2568.8 1667.4,2568.7 1672.2,2568.7 C1676.9,2568.7 1681.6,2568.6 1686.3,2568.6 C1691.1,2568.5 1695.8,2568.5 1700.5,2568.5 C1705.2,2568.4 1710,2568.4 1714.7,2568.4 C1719.4,2568.3 1724.2,2568.3 1728.9,2568.2 C1733.6,2568.2 1738.3,2568.2 1743.1,2568.1 C1747.8,2568.1 1752.5,2568.1 1757.2,2568 C1762,2568 1766.7,2568 1771.4,2567.9 C1776.2,2567.9 1780.9,2567.9 1785.6,2567.8 C1790.3,2567.8 1795.1,2567.8 1799.8,2567.8 C1804.5,2567.7 1809.3,2567.7 1814,2567.7 C1818.7,2567.7 1823.5,2567.6 1828.2,2567.6 C1832.9,2567.6 1837.6,2567.6 1842.4,2567.6 C1847.1,2567.6 1851.8,2567.6 1856.6,2567.5 C1861.3,2567.5 1866,2567.5 1870.7,2567.5 C1875.5,2567.5 1880.2,2567.5 1884.9,2567.5 C1889.7,2567.5 1894.4,2567.6 1899.1,2567.6 C1903.8,2567.6 1908.6,2567.6 1913.3,2567.6 C1918,2567.6 1922.7,2567.7 1927.5,2567.7 C1932.2,2567.7 1936.9,2567.8 1941.7,2567.8 C1946.4,2567.8 1951.1,2567.9 1955.8,2567.9 C1960.6,2567.9 1965.3,2568 1970,2568 C1974.7,2568 1979.5,2568.1 1984.2,2568.1 C1988.9,2568.2 1993.6,2568.2 1998.4,2568.3 C2003.1,2568.3 2007.8,2568.3 2012.5,2568.4 C2017.2,2568.4 2022,2568.4 2026.7,2568.5 C2031.4,2568.5 2036.1,2568.5 2040.8,2568.6 C2045.6,2568.6 2050.3,2568.6 2055,2568.6 C2059.7,2568.7 2064.4,2568.7 2069.2,2568.7 C2073.9,2568.7 2078.6,2568.7 2083.3,2568.7 C2088,2568.7 2092.7,2568.7 2097.5,2568.7 C2102.2,2568.7 2106.9,2568.7 2111.6,2568.7 C2116.3,2568.7 2121,2568.7 2125.7,2568.6 C2130.4,2568.6 2135.2,2568.5 2139.9,2568.5 C2144.6,2568.4 2149.3,2568.4 2154,2568.3 C2158.7,2568.2 2163.4,2568.1 2168.1,2568 C2172.8,2567.9 2177.5,2567.8 2182.2,2567.6 C2186.9,2567.5 2191.6,2567.3 2196.4,2567.1 C2201.1,2567 2205.8,2566.7 2210.5,2566.5 C2215.2,2566.3 2219.9,2566 2224.6,2565.7 C2229.3,2565.4 2234,2565.1 2238.7,2564.8 C2243.4,2564.4 2248,2564 2252.7,2563.6 C2257.4,2563.2 2262.1,2562.8 2266.8,2562.3 C2271.5,2561.8 2276.2,2561.3 2280.9,2560.7 C2285.6,2560.1 2290.3,2559.5 2295,2558.9 C2299.7,2558.2 2304.3,2557.5 2309,2556.8 C2313.7,2556.1 2318.4,2555.3 2323.1,2554.4 C2327.8,2553.6 2334.8,2552.2 2337.1,2551.8" stroke="#a8a8a8" stroke-width="2.8"/>
<path d="M1482.5,2567.3 C1484.8,2567.2 1491.8,2566.9 1496.5,2566.7 C1501.1,2566.4 1505.8,2566.2 1510.5,2566 C1515.1,2565.7 1519.8,2565.5 1524.5,2565.3 C1529.1,2565.1 1533.8,2564.8 1538.5,2564.6 C1543.1,2564.4 1547.8,2564.2 1552.5,2563.9 C1557.1,2563.7 1561.8,2563.5 1566.5,2563.3 C1571.1,2563.1 1575.8,2562.9 1580.5,2562.6 C1585.1,2562.4 1589.8,2562.2 1594.5,2562 C1599.1,2561.8 1603.8,2561.6 1608.5,2561.4 C1613.1,2561.1 1617.8,2560.9 1622.5,2560.7 C1627.1,2560.5 1631.8,2560.3 1636.5,2560.1 C1641.1,2559.9 1645.8,2559.7 1650.5,2559.5 C1655.1,2559.3 1659.8,2559.1 1664.5,2558.9 C1669.1,2558.7 1673.8,2558.5 1678.5,2558.3 C1683.1,2558.1 1687.8,2557.9 1692.5,2557.7 C1697.1,2557.6 1701.8,2557.4 1706.5,2557.2 C1711.2,2557 1715.8,2556.8 1720.5,2556.6 C1725.2,2556.5 1729.8,2556.3 1734.5,2556.1 C1739.2,2555.9 1743.8,2555.7 1748.5,2555.6 C1753.2,2555.4 1757.8,2555.2 1762.5,2555 C1767.2,2554.9 1771.8,2554.7 1776.5,2554.5 C1781.2,2554.4 1785.8,2554.2 1790.5,2554.1 C1795.2,2553.9 1799.8,2553.7 1804.5,2553.6 C1809.2,2553.4 1813.9,2553.3 1818.5,2553.1 C1823.2,2553 1827.9,2552.8 1832.5,2552.7 C1837.2,2552.5 1841.9,2552.4 1846.5,2552.3 C1851.2,2552.1 1855.9,2552 1860.5,2551.8 C1865.2,2551.7 1869.9,2551.6 1874.5,2551.4 C1879.2,2551.3 1883.9,2551.2 1888.6,2551.1 C1893.2,2550.9 1897.9,2550.8 1902.6,2550.7 C1907.2,2550.6 1911.9,2550.5 1916.6,2550.3 C1921.2,2550.2 1925.9,2550.1 1930.6,2550 C1935.3,2549.9 1939.9,2549.8 1944.6,2549.7 C1949.3,2549.6 1953.9,2549.5 1958.6,2549.4 C1963.3,2549.3 1967.9,2549.2 1972.6,2549.1 C1977.3,2549 1981.9,2548.9 1986.6,2548.8 C1991.3,2548.8 1996,2548.7 2000.6,2548.6 C2005.3,2548.5 2010,2548.4 2014.6,2548.3 C2019.3,2548.3 2024,2548.2 2028.7,2548.1 C2033.3,2548 2038,2548 2042.7,2547.9 C2047.3,2547.8 2052,2547.8 2056.7,2547.7 C2061.3,2547.6 2066,2547.6 2070.7,2547.5 C2075.4,2547.4 2080,2547.4 2084.7,2547.3 C2089.4,2547.2 2094,2547.2 2098.7,2547.1 C2103.4,2547.1 2108.1,2547 2112.7,2547 C2117.4,2546.9 2122.1,2546.8 2126.7,2546.8 C2131.4,2546.7 2136.1,2546.7 2140.7,2546.6 C2145.4,2546.6 2150.1,2546.5 2154.8,2546.5 C2159.4,2546.4 2164.1,2546.4 2168.8,2546.3 C2173.4,2546.3 2178.1,2546.2 2182.8,2546.2 C2187.5,2546.1 2192.1,2546.1 2196.8,2546.1 C2201.5,2546 2206.1,2546 2210.8,2545.9 C2215.5,2545.9 2220.2,2545.8 2224.8,2545.8 C2229.5,2545.7 2234.2,2545.7 2238.9,2545.7 C2243.5,2545.6 2248.2,2545.6 2252.9,2545.5 C2257.5,2545.5 2262.2,2545.4 2266.9,2545.4 C2271.6,2545.4 2276.2,2545.3 2280.9,2545.3 C2285.6,2545.2 2290.2,2545.2 2294.9,2545.1 C2299.6,2545.1 2304.3,2545 2308.9,2545 C2313.6,2545 2318.3,2544.9 2323,2544.9 C2327.6,2544.8 2334.6,2544.7 2337,2544.7" stroke="#ffc010" stroke-width="3.2"/>
<path d="M1482.1,2558.9 C1484.5,2559.5 1491.4,2561.2 1496,2562.2 C1500.7,2563.1 1505.3,2563.9 1509.9,2564.5 C1514.6,2565.2 1519.2,2565.8 1523.8,2566.2 C1528.5,2566.7 1533.1,2567 1537.7,2567.3 C1542.4,2567.5 1547,2567.7 1551.7,2567.8 C1556.3,2567.9 1560.9,2567.9 1565.6,2567.8 C1570.2,2567.8 1574.9,2567.7 1579.5,2567.6 C1584.2,2567.5 1588.8,2567.3 1593.5,2567.1 C1598.1,2566.9 1602.8,2566.6 1607.4,2566.4 C1612.1,2566.1 1616.7,2565.9 1621.4,2565.6 C1626,2565.3 1630.7,2565 1635.3,2564.7 C1640,2564.4 1644.6,2564 1649.3,2563.7 C1654,2563.3 1658.6,2563 1663.3,2562.6 C1667.9,2562.3 1672.6,2561.9 1677.2,2561.5 C1681.9,2561.1 1686.6,2560.8 1691.2,2560.4 C1695.9,2560 1700.6,2559.7 1705.2,2559.3 C1709.9,2558.9 1714.5,2558.6 1719.2,2558.2 C1723.9,2557.9 1728.5,2557.5 1733.2,2557.2 C1737.9,2556.8 1742.5,2556.5 1747.2,2556.2 C1751.9,2555.8 1756.6,2555.5 1761.2,2555.2 C1765.9,2554.8 1770.6,2554.5 1775.2,2554.2 C1779.9,2553.9 1784.6,2553.5 1789.2,2553.2 C1793.9,2552.9 1798.6,2552.6 1803.3,2552.3 C1807.9,2552 1812.6,2551.7 1817.3,2551.5 C1822,2551.2 1826.6,2550.9 1831.3,2550.6 C1836,2550.3 1840.7,2550.1 1845.4,2549.8 C1850,2549.6 1854.7,2549.3 1859.4,2549 C1864.1,2548.8 1868.7,2548.6 1873.4,2548.3 C1878.1,2548.1 1882.8,2547.9 1887.5,2547.6 C1892.1,2547.4 1896.8,2547.2 1901.5,2547 C1906.2,2546.8 1910.9,2546.6 1915.5,2546.4 C1920.2,2546.2 1924.9,2546 1929.6,2545.9 C1934.3,2545.7 1939,2545.5 1943.6,2545.4 C1948.3,2545.2 1953,2545 1957.7,2544.9 C1962.4,2544.7 1967.1,2544.6 1971.7,2544.5 C1976.4,2544.3 1981.1,2544.2 1985.8,2544.1 C1990.5,2544 1995.2,2543.8 1999.8,2543.7 C2004.5,2543.6 2009.2,2543.5 2013.9,2543.4 C2018.6,2543.3 2023.3,2543.2 2028,2543.1 C2032.6,2543 2037.3,2542.9 2042,2542.9 C2046.7,2542.8 2051.4,2542.7 2056.1,2542.6 C2060.7,2542.6 2065.4,2542.5 2070.1,2542.4 C2074.8,2542.4 2079.5,2542.3 2084.2,2542.2 C2088.9,2542.2 2093.5,2542.1 2098.2,2542.1 C2102.9,2542 2107.6,2542 2112.3,2541.9 C2117,2541.9 2121.6,2541.8 2126.3,2541.8 C2131,2541.8 2135.7,2541.7 2140.4,2541.7 C2145.1,2541.7 2149.8,2541.6 2154.4,2541.6 C2159.1,2541.6 2163.8,2541.5 2168.5,2541.5 C2173.2,2541.5 2177.9,2541.4 2182.5,2541.4 C2187.2,2541.4 2191.9,2541.4 2196.6,2541.3 C2201.3,2541.3 2205.9,2541.3 2210.6,2541.3 C2215.3,2541.2 2220,2541.2 2224.7,2541.2 C2229.4,2541.2 2234,2541.1 2238.7,2541.1 C2243.4,2541.1 2248.1,2541.1 2252.7,2541 C2257.4,2541 2262.1,2541 2266.8,2541 C2271.5,2540.9 2276.1,2540.9 2280.8,2540.9 C2285.5,2540.8 2290.2,2540.8 2294.8,2540.8 C2299.5,2540.7 2304.2,2540.7 2308.9,2540.7 C2313.5,2540.6 2318.2,2540.6 2322.9,2540.6 C2327.6,2540.5 2334.6,2540.4 2336.9,2540.4" stroke="#4a78cc" stroke-width="3.2"/>
<path d="M1482.5,2565.8 C1484.8,2565.7 1491.8,2565.2 1496.5,2564.9 C1501.1,2564.5 1505.8,2564.2 1510.4,2563.9 C1515.1,2563.6 1519.8,2563.3 1524.4,2562.9 C1529.1,2562.6 1533.8,2562.3 1538.4,2562 C1543.1,2561.7 1547.8,2561.4 1552.4,2561.1 C1557.1,2560.8 1561.7,2560.5 1566.4,2560.2 C1571.1,2559.9 1575.7,2559.6 1580.4,2559.4 C1585.1,2559.1 1589.7,2558.8 1594.4,2558.5 C1599.1,2558.2 1603.7,2558 1608.4,2557.7 C1613.1,2557.4 1617.7,2557.2 1622.4,2556.9 C1627.1,2556.6 1631.7,2556.4 1636.4,2556.1 C1641,2555.9 1645.7,2555.6 1650.4,2555.4 C1655,2555.1 1659.7,2554.9 1664.4,2554.6 C1669,2554.4 1673.7,2554.1 1678.4,2553.9 C1683,2553.7 1687.7,2553.4 1692.4,2553.2 C1697,2553 1701.7,2552.7 1706.4,2552.5 C1711,2552.3 1715.7,2552.1 1720.4,2551.9 C1725,2551.6 1729.7,2551.4 1734.4,2551.2 C1739,2551 1743.7,2550.8 1748.4,2550.6 C1753.1,2550.4 1757.7,2550.2 1762.4,2550 C1767.1,2549.8 1771.7,2549.6 1776.4,2549.4 C1781.1,2549.2 1785.7,2549 1790.4,2548.8 C1795.1,2548.6 1799.7,2548.5 1804.4,2548.3 C1809.1,2548.1 1813.7,2547.9 1818.4,2547.7 C1823.1,2547.6 1827.7,2547.4 1832.4,2547.2 C1837.1,2547.1 1841.8,2546.9 1846.4,2546.7 C1851.1,2546.6 1855.8,2546.4 1860.4,2546.3 C1865.1,2546.1 1869.8,2545.9 1874.4,2545.8 C1879.1,2545.6 1883.8,2545.5 1888.4,2545.4 C1893.1,2545.2 1897.8,2545.1 1902.5,2544.9 C1907.1,2544.8 1911.8,2544.6 1916.5,2544.5 C1921.1,2544.4 1925.8,2544.2 1930.5,2544.1 C1935.2,2544 1939.8,2543.9 1944.5,2543.7 C1949.2,2543.6 1953.8,2543.5 1958.5,2543.4 C1963.2,2543.3 1967.8,2543.1 1972.5,2543 C1977.2,2542.9 1981.9,2542.8 1986.5,2542.7 C1991.2,2542.6 1995.9,2542.5 2000.5,2542.4 C2005.2,2542.3 2009.9,2542.2 2014.6,2542.1 C2019.2,2542 2023.9,2541.9 2028.6,2541.8 C2033.2,2541.7 2037.9,2541.6 2042.6,2541.5 C2047.3,2541.4 2051.9,2541.3 2056.6,2541.3 C2061.3,2541.2 2065.9,2541.1 2070.6,2541 C2075.3,2540.9 2080,2540.9 2084.6,2540.8 C2089.3,2540.7 2094,2540.7 2098.6,2540.6 C2103.3,2540.5 2108,2540.5 2112.7,2540.4 C2117.3,2540.3 2122,2540.3 2126.7,2540.2 C2131.4,2540.1 2136,2540.1 2140.7,2540 C2145.4,2540 2150,2539.9 2154.7,2539.9 C2159.4,2539.8 2164.1,2539.8 2168.7,2539.7 C2173.4,2539.7 2178.1,2539.6 2182.8,2539.6 C2187.4,2539.6 2192.1,2539.5 2196.8,2539.5 C2201.4,2539.4 2206.1,2539.4 2210.8,2539.4 C2215.5,2539.3 2220.1,2539.3 2224.8,2539.3 C2229.5,2539.3 2234.2,2539.2 2238.8,2539.2 C2243.5,2539.2 2248.2,2539.2 2252.8,2539.1 C2257.5,2539.1 2262.2,2539.1 2266.9,2539.1 C2271.5,2539.1 2276.2,2539 2280.9,2539 C2285.6,2539 2290.2,2539 2294.9,2539 C2299.6,2539 2304.3,2539 2308.9,2539 C2313.6,2539 2318.3,2539 2322.9,2539 C2327.6,2539 2334.6,2539 2337,2539" stroke="#72ae48" stroke-width="3.2"/>
<path d="M1481.9,2554.7 C1484.2,2555.2 1491.1,2556.8 1495.7,2557.5 C1500.3,2558.2 1504.9,2558.5 1509.5,2558.8 C1514.1,2559 1518.7,2559 1523.3,2558.9 C1528,2558.8 1532.6,2558.5 1537.2,2558.1 C1541.8,2557.8 1546.4,2557.4 1551,2556.9 C1555.7,2556.4 1560.3,2555.9 1564.9,2555.4 C1569.5,2554.9 1574.2,2554.3 1578.8,2553.8 C1583.4,2553.2 1588.1,2552.7 1592.7,2552.2 C1597.3,2551.7 1602,2551.2 1606.6,2550.8 C1611.2,2550.3 1615.9,2549.9 1620.5,2549.6 C1625.2,2549.2 1629.8,2548.9 1634.5,2548.6 C1639.1,2548.3 1643.8,2548 1648.4,2547.7 C1653.1,2547.5 1657.7,2547.3 1662.4,2547 C1667,2546.8 1671.7,2546.6 1676.3,2546.4 C1681,2546.2 1685.6,2546 1690.3,2545.8 C1695,2545.7 1699.6,2545.5 1704.3,2545.3 C1709,2545.1 1713.6,2545 1718.3,2544.8 C1723,2544.6 1727.6,2544.4 1732.3,2544.3 C1737,2544.1 1741.6,2543.9 1746.3,2543.7 C1751,2543.6 1755.7,2543.4 1760.3,2543.2 C1765,2543.1 1769.7,2542.9 1774.4,2542.7 C1779,2542.5 1783.7,2542.4 1788.4,2542.2 C1793.1,2542 1797.8,2541.9 1802.4,2541.7 C1807.1,2541.6 1811.8,2541.4 1816.5,2541.2 C1821.2,2541.1 1825.9,2540.9 1830.5,2540.7 C1835.2,2540.6 1839.9,2540.4 1844.6,2540.3 C1849.3,2540.1 1854,2540 1858.7,2539.8 C1863.4,2539.7 1868,2539.5 1872.7,2539.4 C1877.4,2539.2 1882.1,2539.1 1886.8,2538.9 C1891.5,2538.8 1896.2,2538.7 1900.9,2538.5 C1905.6,2538.4 1910.3,2538.2 1915,2538.1 C1919.7,2538 1924.4,2537.8 1929.1,2537.7 C1933.8,2537.6 1938.4,2537.5 1943.1,2537.3 C1947.8,2537.2 1952.5,2537.1 1957.2,2537 C1961.9,2536.9 1966.6,2536.7 1971.3,2536.6 C1976,2536.5 1980.7,2536.4 1985.4,2536.3 C1990.1,2536.2 1994.8,2536.1 1999.5,2536 C2004.2,2535.9 2008.9,2535.7 2013.6,2535.6 C2018.3,2535.5 2023,2535.4 2027.7,2535.3 C2032.4,2535.2 2037.1,2535.1 2041.8,2535 C2046.5,2535 2051.2,2534.9 2055.9,2534.8 C2060.6,2534.7 2065.3,2534.6 2070,2534.5 C2074.7,2534.4 2079.4,2534.3 2084,2534.2 C2088.7,2534.1 2093.4,2534 2098.1,2534 C2102.8,2533.9 2107.5,2533.8 2112.2,2533.7 C2116.9,2533.6 2121.6,2533.5 2126.3,2533.5 C2131,2533.4 2135.7,2533.3 2140.4,2533.2 C2145.1,2533.1 2149.8,2533.1 2154.4,2533 C2159.1,2532.9 2163.8,2532.8 2168.5,2532.8 C2173.2,2532.7 2177.9,2532.6 2182.6,2532.5 C2187.3,2532.5 2191.9,2532.4 2196.6,2532.3 C2201.3,2532.2 2206,2532.2 2210.7,2532.1 C2215.4,2532 2220,2531.9 2224.7,2531.9 C2229.4,2531.8 2234.1,2531.7 2238.8,2531.7 C2243.4,2531.6 2248.1,2531.5 2252.8,2531.4 C2257.5,2531.4 2262.2,2531.3 2266.8,2531.2 C2271.5,2531.2 2276.2,2531.1 2280.8,2531 C2285.5,2531 2290.2,2530.9 2294.9,2530.8 C2299.5,2530.7 2304.2,2530.7 2308.9,2530.6 C2313.5,2530.5 2318.2,2530.5 2322.8,2530.4 C2327.5,2530.3 2334.5,2530.2 2336.8,2530.2" stroke="#3b6fa3" stroke-width="3.4"/>
<path d="M1482.4,2564.2 C1484.8,2564 1491.8,2563.5 1496.4,2563.2 C1501.1,2562.9 1505.8,2562.5 1510.4,2562.2 C1515.1,2561.9 1519.7,2561.6 1524.4,2561.3 C1529.1,2561 1533.7,2560.7 1538.4,2560.4 C1543.1,2560.1 1547.7,2559.9 1552.4,2559.6 C1557.1,2559.3 1561.7,2559 1566.4,2558.8 C1571,2558.5 1575.7,2558.2 1580.4,2558 C1585,2557.7 1589.7,2557.5 1594.4,2557.3 C1599,2557 1603.7,2556.8 1608.4,2556.6 C1613,2556.3 1617.7,2556.1 1622.4,2555.9 C1627,2555.7 1631.7,2555.5 1636.4,2555.2 C1641,2555 1645.7,2554.8 1650.4,2554.6 C1655,2554.4 1659.7,2554.2 1664.4,2554.1 C1669,2553.9 1673.7,2553.7 1678.4,2553.5 C1683,2553.3 1687.7,2553.2 1692.4,2553 C1697,2552.8 1701.7,2552.7 1706.4,2552.5 C1711,2552.3 1715.7,2552.2 1720.4,2552 C1725.1,2551.9 1729.7,2551.7 1734.4,2551.6 C1739.1,2551.5 1743.7,2551.3 1748.4,2551.2 C1753.1,2551 1757.7,2550.9 1762.4,2550.8 C1767.1,2550.7 1771.7,2550.5 1776.4,2550.4 C1781.1,2550.3 1785.7,2550.2 1790.4,2550.1 C1795.1,2550 1799.8,2549.8 1804.4,2549.7 C1809.1,2549.6 1813.8,2549.5 1818.4,2549.4 C1823.1,2549.3 1827.8,2549.2 1832.4,2549.1 C1837.1,2549.1 1841.8,2549 1846.5,2548.9 C1851.1,2548.8 1855.8,2548.7 1860.5,2548.6 C1865.1,2548.5 1869.8,2548.5 1874.5,2548.4 C1879.2,2548.3 1883.8,2548.2 1888.5,2548.2 C1893.2,2548.1 1897.8,2548 1902.5,2548 C1907.2,2547.9 1911.9,2547.8 1916.5,2547.8 C1921.2,2547.7 1925.9,2547.6 1930.5,2547.6 C1935.2,2547.5 1939.9,2547.5 1944.6,2547.4 C1949.2,2547.3 1953.9,2547.3 1958.6,2547.2 C1963.2,2547.2 1967.9,2547.1 1972.6,2547.1 C1977.3,2547 1981.9,2547 1986.6,2546.9 C1991.3,2546.9 1995.9,2546.8 2000.6,2546.8 C2005.3,2546.8 2010,2546.7 2014.6,2546.7 C2019.3,2546.6 2024,2546.6 2028.6,2546.5 C2033.3,2546.5 2038,2546.5 2042.7,2546.4 C2047.3,2546.4 2052,2546.3 2056.7,2546.3 C2061.4,2546.3 2066,2546.2 2070.7,2546.2 C2075.4,2546.1 2080,2546.1 2084.7,2546.1 C2089.4,2546 2094.1,2546 2098.7,2545.9 C2103.4,2545.9 2108.1,2545.9 2112.7,2545.8 C2117.4,2545.8 2122.1,2545.8 2126.8,2545.7 C2131.4,2545.7 2136.1,2545.6 2140.8,2545.6 C2145.4,2545.6 2150.1,2545.5 2154.8,2545.5 C2159.5,2545.4 2164.1,2545.4 2168.8,2545.3 C2173.5,2545.3 2178.1,2545.3 2182.8,2545.2 C2187.5,2545.2 2192.2,2545.1 2196.8,2545.1 C2201.5,2545 2206.2,2545 2210.8,2544.9 C2215.5,2544.9 2220.2,2544.8 2224.9,2544.8 C2229.5,2544.7 2234.2,2544.7 2238.9,2544.6 C2243.5,2544.5 2248.2,2544.5 2252.9,2544.4 C2257.6,2544.4 2262.2,2544.3 2266.9,2544.2 C2271.6,2544.2 2276.2,2544.1 2280.9,2544 C2285.6,2544 2290.3,2543.9 2294.9,2543.8 C2299.6,2543.8 2304.3,2543.7 2308.9,2543.6 C2313.6,2543.5 2318.3,2543.4 2322.9,2543.4 C2327.6,2543.3 2334.6,2543.2 2337,2543.1" stroke="#b05a24" stroke-width="3.0"/>
</g>
</g>
<g id="B3">
<path d="M352.5,2715 V3335 H1221.5" fill="none" stroke="#000" stroke-width="3"/>
<text transform="translate(322,3346.3) scale(0.975,1)" font-size="37.5" text-anchor="end">0</text>
<text transform="translate(322,3243) scale(0.975,1)" font-size="37.5" text-anchor="end">500</text>
<text transform="translate(322,3139.6) scale(0.975,1)" font-size="37.5" text-anchor="end">1000</text>
<text transform="translate(322,3036.3) scale(0.975,1)" font-size="37.5" text-anchor="end">1500</text>
<text transform="translate(322,2933) scale(0.975,1)" font-size="37.5" text-anchor="end">2000</text>
<text transform="translate(322,2829.6) scale(0.975,1)" font-size="37.5" text-anchor="end">2500</text>
<text transform="translate(322,2726.3) scale(0.975,1)" font-size="37.5" text-anchor="end">3000</text>
<text transform="translate(353,3391.2) scale(0.99,1.04)" font-size="37.5" text-anchor="middle">0</text>
<text transform="translate(497.8,3391.2) scale(0.99,1.04)" font-size="37.5" text-anchor="middle">10</text>
<text transform="translate(642.7,3391.2) scale(0.99,1.04)" font-size="37.5" text-anchor="middle">20</text>
<text transform="translate(787.5,3391.2) scale(0.99,1.04)" font-size="37.5" text-anchor="middle">30</text>
<text transform="translate(932.3,3391.2) scale(0.99,1.04)" font-size="37.5" text-anchor="middle">40</text>
<text transform="translate(1077.2,3391.2) scale(0.99,1.04)" font-size="37.5" text-anchor="middle">50</text>
<text transform="translate(1222,3391.2) scale(0.99,1.04)" font-size="37.5" text-anchor="middle">60</text>
<path d="M342,3335 h10.5 M342,3231.7 h10.5 M342,3128.3 h10.5 M342,3025 h10.5 M342,2921.7 h10.5 M342,2818.3 h10.5 M342,2715 h10.5 M352.5,3335 v11 M497.3,3335 v11 M642.2,3335 v11 M787,3335 v11 M931.8,3335 v11 M1076.7,3335 v11 M1221.5,3335 v11" stroke="#000" stroke-width="3" fill="none"/>
<text transform="translate(788.5,3437) scale(1.06,1)" font-size="44" text-anchor="middle">min</text>
<text transform="translate(213.7,3019) rotate(-90) scale(1.015,1)" font-size="45" text-anchor="middle">Intensity (RFU)</text>
<text x="648" y="2806.8" font-size="48.5" font-style="italic">GO</text>
<line x1="384.2" y1="2730.6" x2="467.1" y2="2730.6" stroke="#1a1a1a" stroke-width="4.2"/>
<text x="476.1" y="2742.6" font-size="33.8">0 ng</text>
<line x1="384.2" y1="2771.1" x2="467.1" y2="2771.1" stroke="#d0141c" stroke-width="3.6"/>
<text x="476.1" y="2783.1" font-size="33.8">10 ng</text>
<line x1="384.2" y1="2811.6" x2="467.1" y2="2811.6" stroke="#a8a8a8" stroke-width="2.8"/>
<text x="476.1" y="2823.6" font-size="33.8">20 ng</text>
<line x1="384.2" y1="2852.1" x2="467.1" y2="2852.1" stroke="#ffc010" stroke-width="3.4"/>
<text x="476.1" y="2864.1" font-size="33.8">30 ng</text>
<line x1="384.2" y1="2892.6" x2="467.1" y2="2892.6" stroke="#4a78cc" stroke-width="3.4"/>
<text x="476.1" y="2904.6" font-size="33.8">40 ng</text>
<line x1="384.2" y1="2933.1" x2="467.1" y2="2933.1" stroke="#72ae48" stroke-width="3.6"/>
<text x="476.1" y="2945.1" font-size="33.8">50 ng</text>
<line x1="384.2" y1="2973.6" x2="467.1" y2="2973.6" stroke="#3b6fa3" stroke-width="3.6"/>
<text x="476.1" y="2985.6" font-size="33.8">60 ng</text>
<line x1="384.2" y1="3014.1" x2="467.1" y2="3014.1" stroke="#b05a24" stroke-width="3.0"/>
<text x="476.1" y="3026.1" font-size="33.8">70 ng</text>
<g fill="none" stroke-linejoin="round" stroke-linecap="round">
<path d="M366.7,3335.1 C369.1,3335.1 376.2,3335.2 381,3335.2 C385.7,3335.2 390.4,3335.2 395.1,3335.2 C399.8,3335.3 404.5,3335.3 409.3,3335.3 C414,3335.3 418.7,3335.3 423.3,3335.3 C428,3335.2 432.7,3335.2 437.4,3335.2 C442.1,3335.2 446.8,3335.1 451.5,3335.1 C456.1,3335.1 460.8,3335 465.5,3335 C470.1,3335 474.8,3334.9 479.5,3334.9 C484.1,3334.8 488.8,3334.8 493.5,3334.8 C498.1,3334.7 502.8,3334.7 507.5,3334.6 C512.1,3334.6 516.8,3334.5 521.4,3334.5 C526.1,3334.4 530.8,3334.4 535.4,3334.4 C540.1,3334.3 544.8,3334.3 549.4,3334.2 C554.1,3334.2 558.8,3334.2 563.4,3334.1 C568.1,3334.1 572.8,3334.1 577.5,3334.1 C582.1,3334 586.8,3334 591.5,3334 C596.2,3334 600.9,3334 605.6,3334 C610.3,3334 615,3334 619.7,3334 C624.4,3334 629.1,3334.1 633.9,3334.1 C638.6,3334.1 643.3,3334.2 648,3334.2 C652.8,3334.3 657.5,3334.3 662.3,3334.4 C667,3334.4 671.8,3334.5 676.5,3334.6 C681.3,3334.7 686.1,3334.8 690.8,3334.8 C695.6,3334.9 700.4,3335 705.1,3335.1 C709.9,3335.2 714.6,3335.3 719.4,3335.4 C724.1,3335.4 728.9,3335.6 733.6,3335.6 C738.3,3335.6 743.1,3335.6 747.7,3335.4 C752.3,3335.2 756.9,3334.9 761.4,3334.2 C765.9,3333.6 770.3,3332.8 774.6,3331.7 C778.8,3330.6 783,3329.2 787,3327.5 C791,3325.7 794.8,3323.7 798.5,3321.3 C802.2,3318.9 805.7,3316.1 809,3313.1 C812.3,3310.1 815.5,3306.7 818.6,3303.2 C821.6,3299.7 824.5,3295.9 827.2,3292.1 C830,3288.2 832.6,3284.2 835.1,3280.1 C837.7,3275.9 840,3271.7 842.3,3267.5 C844.6,3263.3 846.8,3259 848.9,3254.7 C851,3250.3 852.9,3246 854.8,3241.6 C856.8,3237.3 858.6,3232.9 860.3,3228.5 C862.1,3224.1 863.8,3219.6 865.4,3215.2 C867.1,3210.8 868.6,3206.4 870.2,3201.9 C871.7,3197.5 873.2,3193.1 874.6,3188.7 C876.1,3184.2 877.5,3179.8 878.9,3175.4 C880.3,3171 881.6,3166.5 882.9,3162.1 C884.2,3157.7 885.5,3153.2 886.8,3148.8 C888.1,3144.3 889.3,3139.9 890.6,3135.4 C891.8,3131 893,3126.5 894.2,3122 C895.5,3117.6 896.7,3113.1 897.9,3108.6 C899.1,3104.1 900.3,3099.6 901.5,3095 C902.7,3090.5 903.9,3086 905.1,3081.4 C906.3,3076.9 907.6,3072.3 908.8,3067.7 C910.1,3063.2 911.3,3058.6 912.6,3054 C913.9,3049.4 915.2,3044.8 916.5,3040.2 C917.9,3035.6 919.2,3031 920.6,3026.4 C922,3021.9 923.5,3017.3 925,3012.8 C926.5,3008.3 928,3003.8 929.6,2999.4 C931.1,2994.9 932.8,2990.5 934.5,2986.2 C936.2,2981.8 937.9,2977.5 939.8,2973.3 C941.7,2969 943.7,2964.9 945.8,2960.8 C947.9,2956.7 950.1,2952.6 952.5,2948.7 C954.9,2944.8 957.4,2940.9 960.1,2937.2 C962.8,2933.4 965.7,2929.7 968.7,2926.2 C971.8,2922.7 975,2919.3 978.4,2916 C981.8,2912.8 985.4,2909.7 989,2906.8 C992.7,2903.9 996.5,2901.2 1000.5,2898.7 C1004.4,2896.3 1008.4,2894 1012.6,2892 C1016.7,2890.1 1021,2888.4 1025.3,2886.9 C1029.6,2885.4 1034.1,2884.2 1038.5,2883.2 C1043,2882.1 1047.6,2881.3 1052.2,2880.6 C1056.8,2879.8 1061.4,2879.3 1066.1,2878.9 C1070.8,2878.4 1075.5,2878.1 1080.2,2877.8 C1084.9,2877.5 1089.7,2877.3 1094.4,2877.1 C1099.1,2876.9 1103.9,2876.8 1108.7,2876.7 C1113.4,2876.7 1118.2,2876.7 1122.9,2876.7 C1127.7,2876.7 1132.5,2876.8 1137.2,2876.9 C1142,2876.9 1146.7,2877.1 1151.5,2877.2 C1156.2,2877.4 1160.9,2877.6 1165.6,2877.8 C1170.4,2878 1175.1,2878.2 1179.8,2878.4 C1184.4,2878.6 1189.1,2878.9 1193.8,2879.1 C1198.4,2879.3 1203,2879.6 1207.6,2879.8 C1212.2,2880.1 1219,2880.4 1221.3,2880.6" stroke="#1a1a1a" stroke-width="3.6"/>
<path d="M366.8,3335.1 C369.1,3335 376.2,3334.9 380.9,3334.9 C385.6,3334.8 390.4,3334.7 395.1,3334.6 C399.8,3334.5 404.5,3334.4 409.2,3334.3 C413.9,3334.2 418.6,3334.1 423.3,3334 C428,3333.9 432.7,3333.8 437.4,3333.7 C442.1,3333.5 446.7,3333.4 451.4,3333.3 C456.1,3333.2 460.8,3333.1 465.5,3333 C470.2,3332.9 474.8,3332.8 479.5,3332.7 C484.2,3332.5 488.9,3332.4 493.5,3332.3 C498.2,3332.2 502.9,3332.2 507.6,3332.1 C512.2,3332 516.9,3331.9 521.6,3331.8 C526.3,3331.7 530.9,3331.7 535.6,3331.6 C540.3,3331.6 545,3331.5 549.6,3331.5 C554.3,3331.4 559,3331.4 563.7,3331.4 C568.3,3331.3 573,3331.3 577.7,3331.3 C582.4,3331.3 587.1,3331.4 591.7,3331.4 C596.4,3331.4 601.1,3331.5 605.8,3331.5 C610.5,3331.6 615.2,3331.7 619.9,3331.7 C624.6,3331.8 629.3,3332 634,3332.1 C638.7,3332.2 643.4,3332.4 648.1,3332.5 C652.8,3332.7 657.6,3332.9 662.3,3333.1 C667,3333.3 671.7,3333.5 676.5,3333.7 C681.2,3333.9 685.9,3334.2 690.7,3334.4 C695.4,3334.6 700.2,3334.8 704.9,3335 C709.7,3335.3 714.4,3335.5 719.2,3335.6 C724,3335.7 728.8,3335.8 733.6,3335.8 C738.3,3335.8 743.1,3335.8 747.9,3335.8 C752.6,3335.8 757.3,3335.9 762,3335.6 C766.6,3335.3 771.2,3334.7 775.7,3333.9 C780.1,3333.2 784.5,3332.2 788.8,3330.9 C793,3329.6 797.1,3328 801.1,3326.1 C805,3324.2 808.8,3322 812.5,3319.6 C816.2,3317.1 819.8,3314.4 823.2,3311.4 C826.6,3308.5 829.9,3305.3 833.1,3302 C836.3,3298.7 839.4,3295.2 842.3,3291.6 C845.3,3288 848.1,3284.2 850.8,3280.4 C853.6,3276.5 856.2,3272.6 858.7,3268.5 C861.2,3264.5 863.7,3260.4 866,3256.3 C868.4,3252.1 870.6,3247.9 872.8,3243.7 C874.9,3239.4 877,3235.1 879,3230.8 C881,3226.4 882.9,3222.1 884.8,3217.7 C886.7,3213.3 888.5,3208.9 890.2,3204.5 C891.9,3200.1 893.6,3195.7 895.2,3191.2 C896.8,3186.8 898.3,3182.4 899.8,3177.9 C901.3,3173.5 902.8,3169 904.2,3164.5 C905.6,3160 907,3155.6 908.3,3151.1 C909.6,3146.6 910.9,3142.1 912.2,3137.6 C913.4,3133.1 914.6,3128.5 915.8,3124 C917,3119.5 918.2,3115 919.4,3110.4 C920.6,3105.9 921.7,3101.4 922.8,3096.9 C924,3092.3 925.1,3087.8 926.2,3083.3 C927.3,3078.7 928.4,3074.2 929.6,3069.6 C930.7,3065.1 931.8,3060.6 932.9,3056 C934.1,3051.5 935.2,3047 936.4,3042.4 C937.5,3037.9 938.7,3033.4 939.9,3028.9 C941.1,3024.4 942.3,3019.8 943.5,3015.3 C944.8,3010.8 946.1,3006.3 947.4,3001.8 C948.7,2997.3 950.1,2992.9 951.5,2988.4 C952.9,2983.9 954.3,2979.4 955.8,2975 C957.4,2970.5 958.9,2966.1 960.5,2961.6 C962.1,2957.2 963.8,2952.8 965.5,2948.4 C967.3,2944 969.1,2939.6 971,2935.2 C972.9,2930.8 974.8,2926.5 976.9,2922.2 C978.9,2917.9 981.1,2913.6 983.3,2909.5 C985.6,2905.3 988,2901.2 990.5,2897.3 C993.1,2893.4 995.7,2889.5 998.5,2885.9 C1001.4,2882.3 1004.3,2878.8 1007.5,2875.5 C1010.7,2872.2 1014.1,2869.2 1017.6,2866.3 C1021.1,2863.4 1024.8,2860.8 1028.7,2858.3 C1032.5,2855.9 1036.6,2853.6 1040.7,2851.6 C1044.8,2849.5 1049.1,2847.7 1053.4,2846 C1057.7,2844.3 1062.2,2842.8 1066.7,2841.6 C1071.2,2840.3 1075.7,2839.2 1080.3,2838.2 C1085,2837.3 1089.6,2836.6 1094.3,2836 C1099,2835.4 1103.7,2835 1108.5,2834.7 C1113.2,2834.3 1118,2834.2 1122.7,2834.1 C1127.5,2834 1132.3,2834.1 1137.1,2834.2 C1141.9,2834.3 1146.7,2834.5 1151.5,2834.7 C1156.2,2835 1161,2835.3 1165.8,2835.6 C1170.5,2835.9 1175.3,2836.3 1180,2836.7 C1184.7,2837 1189.4,2837.4 1194,2837.7 C1198.6,2838.1 1203.3,2838.4 1207.8,2838.7 C1212.3,2839 1219,2839.3 1221.3,2839.4" stroke="#d0141c" stroke-width="3.4"/>
<path d="M366.7,3335.1 C369.1,3335.1 376.3,3335.1 381,3335.1 C385.8,3335.1 390.6,3335.1 395.3,3335.1 C400.1,3335.1 404.8,3335.1 409.5,3335.1 C414.3,3335.1 419,3335.1 423.7,3335.1 C428.4,3335.1 433.1,3335.1 437.9,3335.1 C442.6,3335.1 447.3,3335.1 452,3335.1 C456.6,3335.1 461.3,3335.1 466,3335.1 C470.7,3335.1 475.4,3335.1 480.1,3335.1 C484.7,3335.1 489.4,3335.1 494.1,3335.1 C498.8,3335.1 503.4,3335.1 508.1,3335.1 C512.8,3335.1 517.5,3335.1 522.1,3335.1 C526.8,3335.1 531.5,3335.1 536.2,3335.1 C540.8,3335.1 545.5,3335.1 550.2,3335.1 C554.9,3335.1 559.6,3335.1 564.3,3335.1 C568.9,3335.1 573.6,3335.1 578.3,3335.1 C583,3335.1 587.7,3335.1 592.4,3335.1 C597.1,3335.1 601.9,3335.1 606.6,3335.1 C611.3,3335.1 616,3335.1 620.8,3335.1 C625.5,3335.1 630.2,3335.1 635,3335.1 C639.7,3335.1 644.5,3335.1 649.3,3335.1 C654.1,3335.1 658.8,3335.2 663.6,3335.2 C668.4,3335.2 673.2,3335.2 678,3335.1 C682.8,3335.1 687.6,3335.1 692.4,3335.1 C697.2,3335.1 702,3335 706.8,3335 C711.5,3334.9 716.3,3334.9 721.1,3334.8 C725.8,3334.7 730.6,3334.6 735.3,3334.6 C740,3334.5 744.7,3334.5 749.4,3334.7 C754.1,3334.8 758.8,3335.3 763.4,3335.5 C768.1,3335.7 772.7,3335.7 777.3,3335.8 C781.9,3335.9 786.4,3336 790.9,3335.8 C795.4,3335.6 799.9,3335.6 804.3,3334.7 C808.7,3333.8 813.1,3332.3 817.3,3330.6 C821.5,3329 825.7,3327 829.7,3324.7 C833.8,3322.5 837.7,3320 841.4,3317.3 C845.2,3314.5 848.8,3311.5 852.3,3308.4 C855.7,3305.2 859,3301.9 862.1,3298.4 C865.2,3294.8 868.2,3291.1 871,3287.3 C873.8,3283.6 876.5,3279.6 879.1,3275.6 C881.7,3271.6 884.1,3267.4 886.5,3263.3 C888.9,3259.1 891.1,3254.9 893.3,3250.7 C895.5,3246.4 897.7,3242.2 899.7,3237.9 C901.8,3233.6 903.8,3229.3 905.7,3225 C907.6,3220.7 909.5,3216.4 911.3,3212 C913.1,3207.7 914.9,3203.3 916.6,3198.9 C918.3,3194.5 920,3190.1 921.6,3185.7 C923.2,3181.3 924.8,3176.9 926.4,3172.5 C927.9,3168 929.4,3163.6 930.9,3159.2 C932.4,3154.7 933.8,3150.3 935.3,3145.8 C936.7,3141.3 938.1,3136.9 939.5,3132.4 C940.9,3127.9 942.3,3123.4 943.7,3119 C945.1,3114.5 946.4,3110 947.8,3105.5 C949.2,3101 950.5,3096.6 951.9,3092.1 C953.3,3087.6 954.6,3083.1 956,3078.6 C957.4,3074.1 958.8,3069.7 960.2,3065.2 C961.6,3060.7 963,3056.3 964.5,3051.8 C965.9,3047.3 967.4,3042.9 968.9,3038.4 C970.4,3034 972,3029.6 973.5,3025.1 C975.1,3020.7 976.7,3016.3 978.4,3011.9 C980,3007.5 981.7,3003.1 983.5,2998.7 C985.2,2994.4 987,2990 988.9,2985.6 C990.7,2981.3 992.7,2977 994.6,2972.7 C996.6,2968.3 998.6,2964 1000.8,2959.8 C1002.9,2955.5 1005,2951.3 1007.3,2947.1 C1009.5,2942.8 1011.8,2938.7 1014.2,2934.5 C1016.6,2930.4 1019.1,2926.3 1021.6,2922.3 C1024.2,2918.3 1026.8,2914.4 1029.5,2910.5 C1032.2,2906.6 1035,2902.8 1037.9,2899 C1040.7,2895.3 1043.7,2891.6 1046.7,2888 C1049.8,2884.5 1052.9,2881 1056.1,2877.6 C1059.4,2874.3 1062.7,2871 1066.1,2867.8 C1069.5,2864.7 1073,2861.6 1076.6,2858.7 C1080.2,2855.8 1083.9,2853 1087.7,2850.3 C1091.5,2847.7 1095.4,2845.1 1099.4,2842.8 C1103.4,2840.4 1107.5,2838.1 1111.6,2836 C1115.8,2833.9 1120,2831.9 1124.3,2830.1 C1128.6,2828.3 1133,2826.6 1137.5,2825.1 C1141.9,2823.6 1146.4,2822.2 1150.9,2821 C1155.5,2819.7 1160.1,2818.6 1164.7,2817.7 C1169.3,2816.8 1174,2816.1 1178.7,2815.5 C1183.4,2814.9 1188.1,2814.4 1192.9,2814.1 C1197.6,2813.9 1202.4,2813.7 1207.1,2813.8 C1211.9,2813.8 1219.1,2814.3 1221.5,2814.5" stroke="#a8a8a8" stroke-width="2.8"/>
<path d="M366.8,3335.1 C369.1,3335.1 376.2,3335.1 381,3335.1 C385.7,3335.1 390.4,3335.1 395.1,3335.1 C399.8,3335.1 404.5,3335.1 409.3,3335.1 C414,3335.1 418.7,3335.1 423.4,3335.1 C428.1,3335.1 432.8,3335.1 437.5,3335.1 C442.2,3335.1 446.9,3335.1 451.6,3335.1 C456.3,3335.1 461,3335.1 465.7,3335.1 C470.4,3335.1 475.1,3335.1 479.8,3335.1 C484.5,3335.1 489.2,3335.1 493.9,3335.1 C498.6,3335.1 503.3,3335.1 508,3335.1 C512.7,3335.1 517.4,3335.1 522.1,3335.1 C526.8,3335.2 531.5,3335.2 536.2,3335.2 C540.9,3335.2 545.6,3335.2 550.3,3335.2 C555,3335.2 559.6,3335.2 564.3,3335.2 C569,3335.1 573.7,3335.1 578.4,3335.1 C583.1,3335.1 587.8,3335.1 592.6,3335.1 C597.3,3335.1 602,3335.1 606.7,3335.1 C611.4,3335.1 616.1,3335 620.8,3335 C625.5,3335 630.2,3335 634.9,3334.9 C639.6,3334.9 644.4,3334.9 649.1,3334.9 C653.8,3334.8 658.5,3334.8 663.3,3334.8 C668,3334.7 672.7,3334.7 677.4,3334.6 C682.2,3334.6 686.9,3334.5 691.6,3334.5 C696.4,3334.5 701.1,3334.4 705.8,3334.4 C710.6,3334.3 715.3,3334.3 720,3334.2 C724.7,3334.2 729.5,3334.2 734.2,3334.1 C738.9,3334.1 743.7,3334 748.4,3334 C753.1,3334 757.8,3334 762.5,3334.1 C767.2,3334.1 772,3334.2 776.7,3334.4 C781.4,3334.5 786.1,3334.7 790.8,3334.9 C795.5,3335.2 800.2,3335.7 804.8,3335.8 C809.5,3335.9 814.2,3335.9 818.7,3335.8 C823.1,3335.7 827.6,3336 831.7,3335.1 C835.8,3334.2 839.8,3332.3 843.5,3330.1 C847.2,3327.9 850.7,3325 854.1,3321.9 C857.4,3318.8 860.5,3315.2 863.6,3311.6 C866.6,3308 869.4,3304.3 872.2,3300.4 C875,3296.6 877.6,3292.7 880.1,3288.7 C882.6,3284.7 885,3280.5 887.4,3276.4 C889.7,3272.3 891.9,3268 894.1,3263.8 C896.2,3259.5 898.3,3255.3 900.3,3251 C902.3,3246.7 904.3,3242.3 906.2,3238 C908.1,3233.7 909.9,3229.3 911.7,3225 C913.5,3220.6 915.2,3216.3 916.9,3211.9 C918.6,3207.5 920.3,3203.1 921.9,3198.7 C923.5,3194.3 925.1,3189.9 926.6,3185.4 C928.1,3181 929.6,3176.6 931.1,3172.1 C932.6,3167.7 934,3163.2 935.4,3158.8 C936.8,3154.3 938.2,3149.8 939.6,3145.3 C941,3140.9 942.3,3136.4 943.7,3131.9 C945,3127.4 946.3,3122.9 947.7,3118.4 C949,3113.9 950.3,3109.4 951.6,3104.9 C952.9,3100.4 954.2,3095.9 955.5,3091.4 C956.8,3086.9 958.1,3082.4 959.4,3077.9 C960.7,3073.4 962,3068.9 963.4,3064.4 C964.7,3059.9 966.1,3055.4 967.4,3050.9 C968.8,3046.4 970.2,3041.9 971.6,3037.4 C973,3032.9 974.4,3028.5 975.9,3024 C977.3,3019.5 978.8,3015 980.3,3010.6 C981.8,3006.1 983.4,3001.6 985,2997.2 C986.5,2992.7 988.2,2988.3 989.8,2983.8 C991.5,2979.4 993.2,2975 995,2970.6 C996.8,2966.1 998.6,2961.7 1000.4,2957.4 C1002.3,2953 1004.3,2948.6 1006.3,2944.3 C1008.3,2940 1010.4,2935.8 1012.5,2931.5 C1014.7,2927.3 1016.9,2923.2 1019.3,2919.1 C1021.6,2915 1024,2911 1026.6,2907 C1029.1,2903.1 1031.7,2899.2 1034.5,2895.4 C1037.2,2891.7 1040.1,2888 1043.1,2884.4 C1046,2880.9 1049.1,2877.4 1052.3,2874 C1055.5,2870.7 1058.9,2867.5 1062.3,2864.4 C1065.8,2861.3 1069.3,2858.4 1073,2855.6 C1076.7,2852.8 1080.6,2850.1 1084.5,2847.6 C1088.5,2845.1 1092.6,2842.8 1096.8,2840.7 C1100.9,2838.5 1105.2,2836.6 1109.6,2834.8 C1114,2833.1 1118.5,2831.6 1123,2830.3 C1127.5,2829 1132.1,2827.9 1136.7,2827.1 C1141.4,2826.3 1146.1,2825.8 1150.8,2825.5 C1155.5,2825.2 1160.3,2825.3 1165,2825.5 C1169.8,2825.6 1174.5,2826.1 1179.3,2826.6 C1184.1,2827 1188.8,2827.7 1193.5,2828.2 C1198.2,2828.7 1202.9,2829.3 1207.6,2829.7 C1212.2,2830 1219.1,2830.2 1221.4,2830.4" stroke="#ffc010" stroke-width="3.2"/>
<path d="M366.8,3334.7 C369.2,3334.7 376.2,3334.6 381,3334.5 C385.7,3334.4 390.4,3334.3 395.1,3334.2 C399.8,3334.1 404.5,3334 409.2,3333.9 C414,3333.7 418.7,3333.6 423.4,3333.5 C428.1,3333.3 432.8,3333.2 437.5,3333 C442.2,3332.8 447,3332.7 451.7,3332.5 C456.4,3332.3 461.1,3332.2 465.8,3332 C470.5,3331.8 475.2,3331.6 480,3331.5 C484.7,3331.3 489.4,3331.1 494.1,3330.9 C498.8,3330.8 503.5,3330.6 508.2,3330.4 C513,3330.3 517.7,3330.1 522.4,3329.9 C527.1,3329.8 531.8,3329.6 536.5,3329.5 C541.2,3329.3 546,3329.2 550.7,3329.1 C555.4,3329 560.1,3328.8 564.8,3328.7 C569.5,3328.6 574.2,3328.6 578.9,3328.5 C583.7,3328.4 588.4,3328.3 593.1,3328.3 C597.8,3328.3 602.5,3328.2 607.2,3328.2 C611.9,3328.2 616.6,3328.2 621.4,3328.2 C626.1,3328.3 630.8,3328.3 635.5,3328.4 C640.2,3328.5 644.9,3328.6 649.6,3328.7 C654.3,3328.8 659.1,3328.9 663.8,3329.1 C668.5,3329.2 673.2,3329.4 677.9,3329.6 C682.6,3329.8 687.3,3330 692.1,3330.2 C696.8,3330.4 701.5,3330.7 706.2,3330.9 C711,3331.1 715.7,3331.3 720.4,3331.6 C725.1,3331.8 729.9,3332 734.6,3332.2 C739.3,3332.4 744.1,3332.6 748.8,3332.8 C753.6,3333 758.3,3333.2 763.1,3333.3 C767.8,3333.5 772.6,3333.6 777.4,3333.7 C782.1,3333.8 786.9,3333.9 791.7,3334 C796.5,3334.1 801.3,3334.1 806,3334.1 C810.7,3334.2 815.5,3334.2 820,3334.3 C824.6,3334.4 829.1,3334.7 833.4,3334.8 C837.7,3334.8 841.8,3335.5 845.8,3334.5 C849.7,3333.4 853.5,3331.2 857.1,3328.5 C860.7,3325.7 864,3321.5 867.3,3317.8 C870.5,3314.2 873.5,3310.3 876.4,3306.4 C879.3,3302.5 882,3298.5 884.6,3294.4 C887.2,3290.4 889.6,3286.3 892,3282.1 C894.4,3278 896.6,3273.8 898.8,3269.5 C901,3265.3 903.2,3261.1 905.2,3256.8 C907.3,3252.5 909.3,3248.3 911.2,3244 C913.2,3239.7 915.1,3235.4 917,3231.1 C918.8,3226.7 920.6,3222.4 922.4,3218.1 C924.1,3213.7 925.8,3209.4 927.5,3205 C929.2,3200.6 930.8,3196.3 932.5,3191.9 C934.1,3187.5 935.6,3183.1 937.2,3178.7 C938.7,3174.3 940.3,3169.9 941.8,3165.4 C943.3,3161 944.7,3156.6 946.2,3152.1 C947.6,3147.7 949.1,3143.2 950.5,3138.8 C951.9,3134.3 953.4,3129.9 954.8,3125.4 C956.2,3120.9 957.6,3116.5 959,3112 C960.4,3107.5 961.8,3103 963.2,3098.5 C964.6,3094.1 966,3089.6 967.4,3085.1 C968.8,3080.6 970.2,3076.1 971.7,3071.6 C973.1,3067.1 974.5,3062.6 976,3058.1 C977.5,3053.6 979,3049.1 980.5,3044.6 C982,3040.1 983.5,3035.6 985.1,3031.1 C986.6,3026.6 988.2,3022.1 989.8,3017.6 C991.5,3013.1 993.1,3008.6 994.8,3004.1 C996.5,2999.6 998.3,2995.1 1000.1,2990.6 C1001.8,2986.1 1003.7,2981.6 1005.6,2977.2 C1007.5,2972.7 1009.4,2968.3 1011.4,2964 C1013.5,2959.6 1015.6,2955.3 1017.8,2951.1 C1020,2946.9 1022.3,2942.7 1024.6,2938.7 C1027,2934.7 1029.5,2930.7 1032.1,2926.9 C1034.8,2923.1 1037.5,2919.4 1040.3,2915.8 C1043.2,2912.2 1046.2,2908.8 1049.3,2905.6 C1052.4,2902.3 1055.7,2899.2 1059.1,2896.3 C1062.6,2893.4 1066.1,2890.7 1069.9,2888.1 C1073.7,2885.6 1077.6,2883.3 1081.7,2881.2 C1085.8,2879.1 1090.2,2877.3 1094.6,2875.7 C1099,2874.1 1103.6,2872.7 1108.3,2871.5 C1113,2870.4 1117.8,2869.5 1122.6,2868.8 C1127.4,2868.2 1132.3,2867.8 1137.1,2867.6 C1142,2867.5 1146.9,2867.6 1151.6,2868 C1156.4,2868.3 1161.2,2869 1165.9,2869.7 C1170.6,2870.4 1175.2,2871.4 1179.9,2872.3 C1184.5,2873.2 1189.1,2874.3 1193.7,2875.1 C1198.3,2876 1202.9,2876.8 1207.5,2877.4 C1212.1,2878 1219.1,2878.4 1221.4,2878.5" stroke="#4a78cc" stroke-width="3.2"/>
<path d="M366.7,3334.7 C369.1,3334.6 376.2,3334.3 380.9,3334.2 C385.6,3334 390.3,3333.9 395,3333.7 C399.7,3333.6 404.4,3333.5 409.1,3333.3 C413.8,3333.2 418.5,3333.1 423.2,3333 C427.9,3332.8 432.6,3332.7 437.3,3332.6 C442,3332.5 446.7,3332.4 451.3,3332.3 C456,3332.2 460.7,3332.1 465.4,3332 C470,3332 474.7,3331.9 479.4,3331.8 C484,3331.7 488.7,3331.7 493.4,3331.6 C498,3331.6 502.7,3331.5 507.4,3331.4 C512,3331.4 516.7,3331.4 521.3,3331.3 C526,3331.3 530.7,3331.3 535.3,3331.2 C540,3331.2 544.6,3331.2 549.3,3331.2 C554,3331.2 558.6,3331.2 563.3,3331.2 C567.9,3331.2 572.6,3331.2 577.3,3331.2 C581.9,3331.2 586.6,3331.2 591.2,3331.2 C595.9,3331.2 600.6,3331.3 605.2,3331.3 C609.9,3331.3 614.6,3331.4 619.2,3331.4 C623.9,3331.5 628.6,3331.5 633.3,3331.6 C637.9,3331.6 642.6,3331.7 647.3,3331.8 C652,3331.8 656.7,3331.9 661.4,3332 C666.1,3332.1 670.7,3332.1 675.4,3332.2 C680.1,3332.3 684.8,3332.4 689.6,3332.5 C694.3,3332.6 699,3332.7 703.7,3332.8 C708.4,3332.9 713.1,3333 717.9,3333.1 C722.6,3333.2 727.3,3333.3 732.1,3333.4 C736.8,3333.5 741.6,3333.6 746.3,3333.7 C751.1,3333.8 755.8,3333.9 760.6,3334.1 C765.4,3334.2 770.2,3334.3 775,3334.4 C779.8,3334.5 784.5,3334.6 789.3,3334.7 C794.1,3334.8 798.9,3334.9 803.6,3335 C808.4,3335.1 813.1,3335.2 817.8,3335.3 C822.5,3335.4 827.2,3335.5 831.8,3335.6 C836.4,3335.6 841,3335.8 845.4,3335.8 C849.9,3335.7 854.4,3335.8 858.8,3335.2 C863.1,3334.7 867.4,3334 871.6,3332.7 C875.8,3331.3 880,3329.4 884,3327.2 C888,3324.9 891.9,3322.1 895.7,3319.3 C899.5,3316.5 903.2,3313.5 906.8,3310.4 C910.4,3307.3 913.8,3304.1 917.2,3300.9 C920.5,3297.6 923.8,3294.3 926.9,3290.9 C930,3287.5 933.1,3284 936,3280.5 C939,3276.9 941.8,3273.3 944.6,3269.6 C947.3,3265.9 950,3262.2 952.6,3258.4 C955.1,3254.6 957.6,3250.7 960.1,3246.8 C962.5,3242.9 964.8,3238.9 967.1,3234.9 C969.4,3230.8 971.6,3226.7 973.7,3222.6 C975.9,3218.5 978,3214.3 980,3210.1 C982,3205.9 984,3201.7 985.9,3197.4 C987.8,3193.1 989.7,3188.8 991.5,3184.5 C993.3,3180.1 995.1,3175.8 996.9,3171.4 C998.6,3167 1000.3,3162.6 1002,3158.1 C1003.7,3153.7 1005.3,3149.3 1006.9,3144.8 C1008.6,3140.3 1010.1,3135.8 1011.7,3131.4 C1013.3,3126.9 1014.9,3122.4 1016.4,3117.9 C1018,3113.4 1019.5,3108.9 1021.1,3104.4 C1022.6,3099.9 1024.1,3095.4 1025.7,3090.9 C1027.2,3086.4 1028.7,3081.9 1030.3,3077.4 C1031.8,3073 1033.4,3068.5 1034.9,3064.1 C1036.5,3059.6 1038.1,3055.2 1039.7,3050.8 C1041.3,3046.4 1043,3042 1044.6,3037.7 C1046.3,3033.3 1048,3029 1049.7,3024.7 C1051.5,3020.3 1053.2,3016.1 1055.1,3011.8 C1056.9,3007.6 1058.8,3003.3 1060.7,2999.1 C1062.7,2995 1064.6,2990.8 1066.7,2986.7 C1068.8,2982.5 1070.9,2978.5 1073.1,2974.4 C1075.3,2970.4 1077.5,2966.4 1079.9,2962.4 C1082.3,2958.4 1084.7,2954.5 1087.2,2950.6 C1089.7,2946.8 1092.4,2942.9 1095.1,2939.1 C1097.8,2935.4 1100.6,2931.6 1103.5,2928 C1106.4,2924.3 1109.4,2920.7 1112.5,2917.2 C1115.7,2913.7 1118.9,2910.2 1122.2,2906.9 C1125.5,2903.6 1128.9,2900.4 1132.4,2897.4 C1136,2894.3 1139.6,2891.4 1143.3,2888.6 C1147,2885.8 1150.8,2883.2 1154.8,2880.7 C1158.7,2878.3 1162.7,2876 1166.9,2873.9 C1171,2871.8 1175.3,2869.9 1179.6,2868.3 C1183.9,2866.6 1188.4,2865.1 1193,2863.9 C1197.5,2862.7 1202.2,2861.7 1207,2861 C1211.7,2860.3 1219.1,2859.8 1221.6,2859.6" stroke="#72ae48" stroke-width="3.2"/>
<path d="M367,3333.1 C369.3,3333.2 376.2,3333.9 380.8,3334.2 C385.4,3334.4 390.1,3334.5 394.7,3334.5 C399.3,3334.6 403.9,3334.5 408.5,3334.3 C413.2,3334.2 417.8,3333.9 422.4,3333.6 C427.1,3333.3 431.7,3332.9 436.4,3332.5 C441,3332.1 445.7,3331.7 450.3,3331.2 C455,3330.7 459.6,3330.2 464.3,3329.7 C469,3329.2 473.6,3328.7 478.3,3328.2 C483,3327.7 487.6,3327.2 492.3,3326.8 C497,3326.3 501.7,3325.9 506.3,3325.6 C511,3325.2 515.7,3324.9 520.4,3324.6 C525.1,3324.3 529.7,3324.1 534.4,3323.9 C539.1,3323.7 543.8,3323.6 548.5,3323.5 C553.2,3323.4 557.9,3323.3 562.6,3323.3 C567.3,3323.2 572,3323.2 576.7,3323.3 C581.4,3323.3 586.1,3323.4 590.7,3323.5 C595.4,3323.6 600.1,3323.7 604.8,3323.9 C609.5,3324.1 614.2,3324.3 618.9,3324.5 C623.6,3324.7 628.3,3325 633,3325.3 C637.7,3325.6 642.4,3325.9 647.1,3326.2 C651.8,3326.6 656.5,3326.9 661.2,3327.3 C665.9,3327.6 670.6,3328 675.3,3328.4 C680,3328.7 684.7,3329.1 689.3,3329.5 C694,3329.9 698.7,3330.2 703.4,3330.6 C708.1,3330.9 712.8,3331.3 717.5,3331.6 C722.1,3331.9 726.8,3332.3 731.5,3332.5 C736.2,3332.8 740.8,3333.1 745.5,3333.3 C750.2,3333.5 754.8,3333.7 759.5,3333.8 C764.2,3333.9 768.8,3334 773.5,3334.1 C778.1,3334.2 782.8,3334.2 787.5,3334.2 C792.1,3334.2 796.7,3334.1 801.4,3334.1 C806,3334.1 810.7,3334 815.3,3334 C819.9,3334 824.6,3333.9 829.2,3333.9 C833.8,3333.9 838.4,3333.9 843,3334 C847.7,3334.2 852.3,3334.4 856.9,3334.7 C861.5,3334.9 866.1,3335.6 870.7,3335.8 C875.3,3336 879.8,3335.8 884.4,3335.8 C889,3335.8 893.6,3336.2 898.1,3335.7 C902.7,3335.3 907.2,3334.3 911.7,3333.3 C916.2,3332.2 920.7,3330.8 925.1,3329.2 C929.4,3327.6 933.8,3325.8 938,3323.8 C942.3,3321.8 946.5,3319.5 950.5,3317.1 C954.6,3314.7 958.6,3312.1 962.4,3309.4 C966.3,3306.7 970.1,3303.8 973.7,3300.8 C977.4,3297.8 981,3294.6 984.4,3291.4 C987.9,3288.2 991.3,3284.8 994.6,3281.4 C997.9,3278 1001.1,3274.5 1004.2,3271 C1007.3,3267.5 1010.4,3263.9 1013.4,3260.3 C1016.3,3256.6 1019.2,3253 1022,3249.3 C1024.9,3245.6 1027.6,3241.8 1030.3,3238.1 C1033,3234.3 1035.7,3230.5 1038.3,3226.6 C1040.9,3222.8 1043.4,3218.9 1045.9,3215 C1048.4,3211.1 1050.8,3207.1 1053.2,3203.1 C1055.6,3199.2 1058,3195.2 1060.3,3191.1 C1062.6,3187.1 1064.9,3183.1 1067.2,3179 C1069.5,3174.9 1071.7,3170.8 1074,3166.7 C1076.2,3162.6 1078.4,3158.5 1080.6,3154.4 C1082.8,3150.2 1085,3146.1 1087.1,3141.9 C1089.3,3137.7 1091.5,3133.6 1093.6,3129.4 C1095.8,3125.2 1098,3121 1100.1,3116.9 C1102.3,3112.7 1104.5,3108.5 1106.7,3104.4 C1108.9,3100.2 1111.1,3096 1113.3,3091.9 C1115.5,3087.7 1117.7,3083.6 1120,3079.5 C1122.2,3075.3 1124.5,3071.2 1126.8,3067.2 C1129.1,3063.1 1131.5,3059 1133.8,3055 C1136.2,3050.9 1138.6,3046.9 1141,3042.9 C1143.5,3039 1146,3035 1148.5,3031.1 C1151,3027.2 1153.6,3023.3 1156.2,3019.5 C1158.9,3015.7 1161.6,3011.9 1164.3,3008.1 C1167.1,3004.4 1169.9,3000.7 1172.7,2997 C1175.6,2993.4 1178.5,2989.8 1181.5,2986.2 C1184.5,2982.7 1187.6,2979.2 1190.7,2975.8 C1193.9,2972.4 1197.1,2969 1200.4,2965.7 C1203.7,2962.4 1207.1,2959.2 1210.6,2956 C1214.1,2952.9 1219.5,2948.3 1221.3,2946.8" stroke="#3b6fa3" stroke-width="3.4"/>
<path d="M366.7,3330.5 C369.1,3330.8 376.1,3331.9 380.7,3332.4 C385.4,3333 390.1,3333.4 394.7,3333.7 C399.4,3334.1 404.1,3334.3 408.7,3334.5 C413.4,3334.6 418,3334.7 422.7,3334.8 C427.4,3334.8 432,3334.8 436.7,3334.8 C441.3,3334.7 446,3334.6 450.7,3334.5 C455.3,3334.4 460,3334.3 464.7,3334.1 C469.3,3334 474,3333.8 478.6,3333.7 C483.3,3333.6 488,3333.5 492.6,3333.4 C497.3,3333.3 502,3333.2 506.6,3333.2 C511.3,3333.1 515.9,3333.1 520.6,3333.1 C525.3,3333 529.9,3333 534.6,3333 C539.3,3333 543.9,3333 548.6,3333.1 C553.3,3333.1 557.9,3333.1 562.6,3333.1 C567.3,3333.1 571.9,3333.2 576.6,3333.2 C581.3,3333.2 585.9,3333.2 590.6,3333.2 C595.3,3333.3 599.9,3333.3 604.6,3333.3 C609.3,3333.3 614,3333.3 618.6,3333.3 C623.3,3333.4 628,3333.4 632.7,3333.4 C637.3,3333.4 642,3333.4 646.7,3333.4 C651.4,3333.4 656,3333.4 660.7,3333.4 C665.4,3333.4 670.1,3333.5 674.8,3333.5 C679.4,3333.5 684.1,3333.5 688.8,3333.5 C693.5,3333.5 698.2,3333.5 702.9,3333.5 C707.6,3333.6 712.2,3333.6 716.9,3333.6 C721.6,3333.6 726.3,3333.6 731,3333.7 C735.7,3333.7 740.4,3333.7 745.1,3333.7 C749.8,3333.8 754.5,3333.8 759.2,3333.8 C763.9,3333.9 768.6,3333.9 773.3,3334 C778,3334 782.7,3334.1 787.4,3334.1 C792.1,3334.2 796.8,3334.2 801.5,3334.3 C806.2,3334.4 811,3334.4 815.7,3334.5 C820.4,3334.6 825.1,3334.7 829.8,3334.7 C834.5,3334.8 839.3,3334.9 844,3335 C848.7,3335.1 853.4,3335.1 858.1,3335.2 C862.8,3335.3 867.5,3335.4 872.3,3335.4 C877,3335.5 881.7,3335.5 886.4,3335.6 C891.1,3335.6 895.8,3335.7 900.5,3335.7 C905.2,3335.7 909.9,3335.8 914.6,3335.8 C919.3,3335.8 924,3335.8 928.7,3335.7 C933.4,3335.7 938.1,3335.7 942.7,3335.6 C947.4,3335.6 952.1,3335.5 956.7,3335.4 C961.4,3335.4 966.1,3335.2 970.7,3335.1 C975.4,3335 980,3334.8 984.7,3334.7 C989.3,3334.5 993.9,3334.3 998.6,3334.1 C1003.2,3333.9 1007.8,3333.6 1012.4,3333.3 C1017,3333.1 1021.6,3332.8 1026.2,3332.4 C1030.8,3332.1 1035.4,3331.7 1040,3331.3 C1044.5,3330.9 1049.1,3330.4 1053.6,3329.8 C1058.2,3329.3 1062.7,3328.7 1067.2,3328 C1071.8,3327.3 1076.3,3326.5 1080.8,3325.7 C1085.3,3324.8 1089.7,3323.9 1094.2,3322.8 C1098.6,3321.8 1103.1,3320.6 1107.5,3319.3 C1111.9,3318.1 1116.3,3316.7 1120.7,3315.2 C1125.1,3313.6 1129.5,3312 1133.8,3310.2 C1138.2,3308.4 1142.5,3306.5 1146.8,3304.6 C1151.1,3302.6 1155.4,3300.5 1159.7,3298.3 C1164,3296.2 1168.2,3293.9 1172.4,3291.6 C1176.6,3289.4 1180.8,3287 1185,3284.6 C1189.2,3282.2 1193.3,3279.8 1197.4,3277.3 C1201.5,3274.9 1205.6,3272.4 1209.7,3270 C1213.7,3267.5 1219.8,3263.9 1221.8,3262.6" stroke="#b05a24" stroke-width="3.0"/>
</g>
</g>
<g id="B4">
<path d="M1484,2697 V3326 H2347.5" fill="none" stroke="#000" stroke-width="3"/>
<text transform="translate(1453.5,3337.3) scale(0.975,1)" font-size="37.5" text-anchor="end">0</text>
<text transform="translate(1453.5,3232.5) scale(0.975,1)" font-size="37.5" text-anchor="end">500</text>
<text transform="translate(1453.5,3127.6) scale(0.975,1)" font-size="37.5" text-anchor="end">1000</text>
<text transform="translate(1453.5,3022.8) scale(0.975,1)" font-size="37.5" text-anchor="end">1500</text>
<text transform="translate(1453.5,2918) scale(0.975,1)" font-size="37.5" text-anchor="end">2000</text>
<text transform="translate(1453.5,2813.1) scale(0.975,1)" font-size="37.5" text-anchor="end">2500</text>
<text transform="translate(1453.5,2708.3) scale(0.975,1)" font-size="37.5" text-anchor="end">3000</text>
<text transform="translate(1484.5,3382.2) scale(0.99,1.04)" font-size="37.5" text-anchor="middle">0</text>
<text transform="translate(1628.4,3382.2) scale(0.99,1.04)" font-size="37.5" text-anchor="middle">10</text>
<text transform="translate(1772.3,3382.2) scale(0.99,1.04)" font-size="37.5" text-anchor="middle">20</text>
<text transform="translate(1916.2,3382.2) scale(0.99,1.04)" font-size="37.5" text-anchor="middle">30</text>
<text transform="translate(2060.2,3382.2) scale(0.99,1.04)" font-size="37.5" text-anchor="middle">40</text>
<text transform="translate(2204.1,3382.2) scale(0.99,1.04)" font-size="37.5" text-anchor="middle">50</text>
<text transform="translate(2348,3382.2) scale(0.99,1.04)" font-size="37.5" text-anchor="middle">60</text>
<path d="M1473.5,3326 h10.5 M1473.5,3221.2 h10.5 M1473.5,3116.3 h10.5 M1473.5,3011.5 h10.5 M1473.5,2906.7 h10.5 M1473.5,2801.8 h10.5 M1473.5,2697 h10.5 M1484,3326 v11 M1627.9,3326 v11 M1771.8,3326 v11 M1915.8,3326 v11 M2059.7,3326 v11 M2203.6,3326 v11 M2347.5,3326 v11" stroke="#000" stroke-width="3" fill="none"/>
<text transform="translate(1917.2,3428) scale(1.06,1)" font-size="44" text-anchor="middle">min</text>
<text transform="translate(1342.3,3012) rotate(-90) scale(1.015,1)" font-size="45" text-anchor="middle">Intensity (RFU)</text>
<text x="1718.2" y="2778.5" font-size="45.3" font-style="italic">AuNPs&#64;GO</text>
<line x1="1510.4" y1="2716.9" x2="1592" y2="2716.9" stroke="#1a1a1a" stroke-width="4.2"/>
<text x="1604.7" y="2728.9" font-size="33.8">0 ng</text>
<line x1="1510.4" y1="2757.3" x2="1592" y2="2757.3" stroke="#d0141c" stroke-width="3.6"/>
<text x="1604.7" y="2769.3" font-size="33.8">10 ng</text>
<line x1="1510.4" y1="2797.7" x2="1592" y2="2797.7" stroke="#a8a8a8" stroke-width="2.8"/>
<text x="1604.7" y="2809.7" font-size="33.8">20 ng</text>
<line x1="1510.4" y1="2838.1" x2="1592" y2="2838.1" stroke="#ffc010" stroke-width="3.4"/>
<text x="1604.7" y="2850.1" font-size="33.8">30 ng</text>
<line x1="1510.4" y1="2878.5" x2="1592" y2="2878.5" stroke="#4a78cc" stroke-width="3.4"/>
<text x="1604.7" y="2890.5" font-size="33.8">40 ng</text>
<line x1="1510.4" y1="2918.9" x2="1592" y2="2918.9" stroke="#72ae48" stroke-width="3.6"/>
<text x="1604.7" y="2930.9" font-size="33.8">50 ng</text>
<line x1="1510.4" y1="2959.3" x2="1592" y2="2959.3" stroke="#3b6fa3" stroke-width="3.6"/>
<text x="1604.7" y="2971.3" font-size="33.8">60 ng</text>
<line x1="1510.4" y1="2999.7" x2="1592" y2="2999.7" stroke="#b05a24" stroke-width="3.0"/>
<text x="1604.7" y="3011.7" font-size="33.8">70 ng</text>
<g fill="none" stroke-linejoin="round" stroke-linecap="round">
<path d="M1497,3316.2 C1499.2,3316.9 1505.6,3319.4 1510,3320.6 C1514.4,3321.8 1518.8,3322.7 1523.3,3323.4 C1527.8,3324.1 1532.4,3324.5 1536.9,3324.8 C1541.5,3325 1546.1,3325.1 1550.8,3325.1 C1555.4,3325.2 1560.1,3325 1564.8,3324.9 C1569.5,3324.8 1574.2,3324.6 1579,3324.4 C1583.7,3324.2 1588.5,3324.1 1593.2,3323.9 C1598,3323.7 1602.7,3323.6 1607.5,3323.4 C1612.2,3323.3 1616.9,3323.1 1621.7,3323 C1626.4,3322.8 1631.1,3322.7 1635.8,3322.6 C1640.5,3322.4 1645.2,3322.3 1649.8,3322.2 C1654.4,3322.1 1659,3322 1663.6,3322 C1668.2,3321.9 1672.8,3321.8 1677.4,3321.8 C1682,3321.8 1686.5,3321.8 1691.2,3321.8 C1695.8,3321.8 1700.4,3321.9 1705.1,3322 C1709.8,3322 1714.5,3322.2 1719.3,3322.3 C1724.1,3322.5 1729,3322.7 1733.9,3322.9 C1738.8,3323.1 1743.8,3323.3 1748.7,3323.4 C1753.7,3323.5 1758.7,3323.6 1763.7,3323.4 C1768.6,3323.3 1773.6,3323 1778.4,3322.5 C1783.2,3321.9 1787.9,3321.2 1792.3,3320 C1796.8,3318.9 1801,3317.5 1805,3315.7 C1808.9,3313.9 1812.5,3311.7 1815.9,3309.2 C1819.3,3306.8 1822.4,3303.9 1825.4,3300.7 C1828.3,3297.6 1830.9,3294.1 1833.4,3290.4 C1835.8,3286.6 1838.1,3282.6 1840.2,3278.4 C1842.3,3274.3 1844.1,3269.8 1845.9,3265.5 C1847.7,3261.1 1849.2,3256.5 1850.7,3252 C1852.2,3247.5 1853.5,3243 1854.8,3238.4 C1856,3233.8 1857.2,3229.2 1858.3,3224.6 C1859.3,3220 1860.3,3215.3 1861.3,3210.7 C1862.3,3206.1 1863.2,3201.4 1864.1,3196.7 C1865,3192.1 1865.8,3187.4 1866.7,3182.8 C1867.6,3178.1 1868.5,3173.5 1869.3,3168.8 C1870.2,3164.2 1871.1,3159.5 1872,3154.9 C1872.9,3150.3 1873.7,3145.6 1874.6,3141 C1875.5,3136.4 1876.4,3131.8 1877.2,3127.2 C1878.1,3122.5 1879,3117.9 1879.9,3113.3 C1880.7,3108.7 1881.6,3104.1 1882.5,3099.5 C1883.3,3094.9 1884.2,3090.3 1885.1,3085.7 C1885.9,3081.1 1886.8,3076.5 1887.7,3071.9 C1888.5,3067.3 1889.4,3062.7 1890.3,3058.1 C1891.1,3053.5 1892,3048.9 1892.8,3044.4 C1893.7,3039.8 1894.5,3035.2 1895.4,3030.6 C1896.2,3026 1897.1,3021.4 1897.9,3016.8 C1898.8,3012.2 1899.6,3007.6 1900.5,3003.1 C1901.3,2998.5 1902.2,2993.9 1903.1,2989.3 C1904,2984.7 1904.8,2980.1 1905.7,2975.5 C1906.6,2970.9 1907.6,2966.3 1908.5,2961.8 C1909.4,2957.2 1910.4,2952.6 1911.4,2948 C1912.4,2943.4 1913.4,2938.8 1914.4,2934.2 C1915.4,2929.6 1916.5,2925 1917.6,2920.4 C1918.7,2915.9 1919.8,2911.3 1921,2906.7 C1922.2,2902.1 1923.4,2897.5 1924.6,2892.9 C1925.9,2888.3 1927.2,2883.7 1928.5,2879.1 C1929.9,2874.5 1931.2,2869.9 1932.7,2865.3 C1934.1,2860.7 1935.6,2856.1 1937.3,2851.7 C1938.9,2847.2 1940.6,2842.7 1942.5,2838.4 C1944.4,2834.1 1946.4,2829.9 1948.6,2825.9 C1950.9,2821.9 1953.2,2818 1955.9,2814.3 C1958.5,2810.6 1961.3,2807.1 1964.4,2803.9 C1967.5,2800.7 1970.9,2797.8 1974.5,2795.1 C1978.1,2792.4 1982,2789.9 1986,2787.7 C1990,2785.5 1994.2,2783.5 1998.5,2781.8 C2002.9,2780 2007.4,2778.5 2011.9,2777.2 C2016.5,2775.9 2021.2,2774.8 2025.9,2773.9 C2030.6,2773 2035.4,2772.3 2040.1,2771.8 C2044.9,2771.2 2049.6,2770.9 2054.4,2770.8 C2059.1,2770.6 2063.8,2770.6 2068.5,2770.7 C2073.2,2770.8 2077.9,2771.1 2082.6,2771.4 C2087.3,2771.7 2092,2772.2 2096.7,2772.6 C2101.4,2773.1 2106.1,2773.7 2110.7,2774.2 C2115.4,2774.8 2120.1,2775.4 2124.7,2776 C2129.4,2776.5 2134,2777.1 2138.7,2777.7 C2143.3,2778.3 2148,2778.9 2152.6,2779.5 C2157.2,2780.2 2161.9,2780.8 2166.5,2781.4 C2171.1,2782.1 2175.8,2782.7 2180.4,2783.4 C2185,2784.1 2189.6,2784.8 2194.3,2785.5 C2198.9,2786.3 2203.5,2787 2208.1,2787.8 C2212.8,2788.6 2217.4,2789.4 2222,2790.2 C2226.6,2791 2231.3,2791.9 2235.9,2792.7 C2240.5,2793.5 2245.2,2794.4 2249.8,2795.2 C2254.4,2796 2259,2796.8 2263.7,2797.6 C2268.3,2798.4 2273,2799.2 2277.6,2799.9 C2282.2,2800.7 2286.9,2801.4 2291.5,2802.1 C2296.2,2802.8 2300.8,2803.5 2305.5,2804.1 C2310.1,2804.7 2314.8,2805.3 2319.5,2805.8 C2324.1,2806.3 2328.8,2806.8 2333.5,2807.2 C2338.1,2807.6 2345.2,2808.1 2347.5,2808.3" stroke="#1a1a1a" stroke-width="3.6"/>
<path d="M1497.1,3322.2 C1499.4,3322.3 1506.6,3322.5 1511.3,3322.6 C1516,3322.7 1520.7,3322.8 1525.4,3322.9 C1530.1,3323 1534.8,3323.1 1539.5,3323.1 C1544.2,3323.2 1548.9,3323.3 1553.6,3323.3 C1558.3,3323.4 1562.9,3323.4 1567.6,3323.5 C1572.3,3323.5 1576.9,3323.5 1581.6,3323.6 C1586.2,3323.6 1590.9,3323.6 1595.6,3323.6 C1600.2,3323.7 1604.9,3323.7 1609.5,3323.7 C1614.2,3323.7 1618.9,3323.7 1623.5,3323.7 C1628.2,3323.7 1632.9,3323.7 1637.5,3323.7 C1642.2,3323.7 1646.9,3323.7 1651.6,3323.7 C1656.3,3323.7 1661,3323.7 1665.7,3323.7 C1670.4,3323.7 1675.1,3323.7 1679.8,3323.7 C1684.5,3323.7 1689.2,3323.6 1693.9,3323.7 C1698.6,3323.7 1703.4,3323.7 1708.1,3323.7 C1712.8,3323.7 1717.6,3323.7 1722.3,3323.7 C1727,3323.7 1731.8,3323.7 1736.5,3323.8 C1741.2,3323.8 1746,3323.8 1750.7,3323.9 C1755.5,3323.9 1760.2,3323.9 1765,3324 C1769.7,3324 1774.5,3324.1 1779.2,3324.2 C1784,3324.2 1788.7,3324.3 1793.5,3324.4 C1798.2,3324.5 1803,3324.6 1807.7,3324.7 C1812.4,3324.7 1817.1,3324.7 1821.7,3324.6 C1826.3,3324.5 1830.9,3324.3 1835.3,3323.9 C1839.7,3323.5 1844.1,3323 1848.3,3322 C1852.5,3321 1856.5,3319.8 1860.4,3318 C1864.2,3316.2 1868,3314 1871.4,3311.4 C1874.9,3308.8 1878.2,3305.6 1881.3,3302.2 C1884.4,3298.8 1887.3,3295 1890.1,3291.2 C1892.8,3287.3 1895.3,3283.1 1897.7,3279 C1900.1,3274.8 1902.4,3270.5 1904.4,3266.2 C1906.5,3261.8 1908.4,3257.4 1910.2,3253 C1912,3248.6 1913.6,3244.1 1915.1,3239.6 C1916.7,3235.2 1918,3230.7 1919.3,3226.2 C1920.7,3221.7 1921.8,3217.2 1923,3212.7 C1924.2,3208.2 1925.3,3203.6 1926.3,3199.1 C1927.4,3194.6 1928.4,3190 1929.5,3185.5 C1930.5,3180.9 1931.5,3176.4 1932.6,3171.8 C1933.7,3167.3 1934.8,3162.7 1935.9,3158.1 C1936.9,3153.5 1938.1,3149 1939.2,3144.4 C1940.3,3139.8 1941.4,3135.2 1942.5,3130.6 C1943.6,3126 1944.7,3121.5 1945.8,3116.9 C1946.9,3112.3 1947.9,3107.7 1949,3103.1 C1950,3098.5 1951,3093.9 1951.9,3089.3 C1952.9,3084.7 1953.8,3080.2 1954.7,3075.6 C1955.6,3071 1956.5,3066.4 1957.4,3061.8 C1958.2,3057.2 1959.1,3052.6 1959.9,3048.1 C1960.8,3043.5 1961.6,3038.9 1962.5,3034.3 C1963.3,3029.7 1964.2,3025.1 1965,3020.6 C1965.9,3016 1966.7,3011.4 1967.6,3006.8 C1968.5,3002.3 1969.4,2997.7 1970.3,2993.1 C1971.2,2988.5 1972.2,2983.9 1973.2,2979.4 C1974.1,2974.8 1975.1,2970.2 1976.2,2965.6 C1977.3,2961.1 1978.3,2956.5 1979.5,2951.9 C1980.6,2947.4 1981.8,2942.8 1983.1,2938.2 C1984.3,2933.7 1985.6,2929.1 1987,2924.6 C1988.4,2920 1989.8,2915.5 1991.3,2911 C1992.8,2906.5 1994.4,2902 1996,2897.6 C1997.7,2893.1 1999.4,2888.7 2001.2,2884.3 C2003.1,2880 2005,2875.7 2007,2871.4 C2009,2867.2 2011.1,2863 2013.3,2858.8 C2015.5,2854.7 2017.8,2850.7 2020.2,2846.7 C2022.7,2842.7 2025.2,2838.8 2027.8,2835 C2030.5,2831.1 2033.3,2827.4 2036.2,2823.8 C2039.1,2820.1 2042.1,2816.6 2045.2,2813.2 C2048.4,2809.7 2051.7,2806.4 2055.1,2803.2 C2058.5,2800 2062.1,2796.9 2065.8,2794 C2069.5,2791.1 2073.3,2788.3 2077.2,2785.8 C2081.1,2783.2 2085.2,2780.8 2089.3,2778.7 C2093.4,2776.6 2097.6,2774.6 2101.9,2773 C2106.1,2771.3 2110.5,2769.9 2114.9,2768.8 C2119.3,2767.7 2123.8,2766.9 2128.4,2766.4 C2132.9,2765.9 2137.5,2765.8 2142.1,2765.8 C2146.7,2765.8 2151.3,2766.1 2156,2766.6 C2160.6,2767.1 2165.3,2767.8 2170,2768.7 C2174.7,2769.5 2179.4,2770.6 2184,2771.7 C2188.7,2772.8 2193.4,2774 2198,2775.3 C2202.6,2776.5 2207.2,2777.9 2211.8,2779.2 C2216.4,2780.6 2220.9,2782 2225.4,2783.4 C2229.9,2784.8 2234.4,2786.2 2238.9,2787.6 C2243.4,2789 2247.9,2790.4 2252.3,2791.8 C2256.8,2793.2 2261.2,2794.6 2265.7,2796 C2270.1,2797.3 2274.6,2798.7 2279,2800 C2283.5,2801.3 2288,2802.6 2292.5,2803.8 C2296.9,2805 2301.4,2806.2 2306,2807.3 C2310.5,2808.4 2315,2809.4 2319.6,2810.4 C2324.2,2811.3 2328.8,2812.2 2333.4,2813 C2338.1,2813.8 2345.2,2814.8 2347.5,2815.1" stroke="#d0141c" stroke-width="3.4"/>
<path d="M1496.9,3323 C1499.3,3323 1506.4,3323.1 1511.2,3323.1 C1515.9,3323.2 1520.6,3323.2 1525.4,3323.2 C1530.1,3323.3 1534.8,3323.3 1539.5,3323.4 C1544.2,3323.4 1548.9,3323.4 1553.6,3323.4 C1558.2,3323.5 1562.9,3323.5 1567.6,3323.5 C1572.2,3323.5 1576.9,3323.5 1581.6,3323.6 C1586.2,3323.6 1590.9,3323.6 1595.5,3323.6 C1600.2,3323.6 1604.8,3323.6 1609.5,3323.6 C1614.1,3323.6 1618.8,3323.6 1623.4,3323.6 C1628,3323.6 1632.7,3323.7 1637.3,3323.7 C1641.9,3323.7 1646.6,3323.7 1651.2,3323.7 C1655.9,3323.7 1660.5,3323.7 1665.2,3323.7 C1669.8,3323.7 1674.5,3323.7 1679.1,3323.7 C1683.8,3323.7 1688.4,3323.7 1693.1,3323.7 C1697.8,3323.7 1702.4,3323.7 1707.1,3323.7 C1711.8,3323.7 1716.5,3323.7 1721.1,3323.7 C1725.8,3323.7 1730.5,3323.7 1735.3,3323.8 C1740,3323.8 1744.7,3323.8 1749.4,3323.8 C1754.1,3323.8 1758.9,3323.9 1763.6,3323.9 C1768.4,3323.9 1773.2,3323.9 1777.9,3324 C1782.7,3324 1787.5,3324 1792.3,3324.1 C1797.1,3324.1 1801.9,3324.1 1806.7,3324.1 C1811.4,3324.2 1816.2,3324.2 1821,3324.2 C1825.7,3324.2 1830.5,3324.2 1835.2,3324.2 C1839.9,3324.2 1844.6,3324.3 1849.3,3324.2 C1853.9,3324.1 1858.6,3324.1 1863.1,3323.8 C1867.6,3323.5 1872.1,3323.2 1876.5,3322.4 C1880.8,3321.6 1885.1,3320.5 1889.2,3319.1 C1893.4,3317.7 1897.4,3315.9 1901.2,3313.8 C1905,3311.6 1908.6,3309.2 1912.1,3306.4 C1915.5,3303.6 1918.8,3300.5 1921.9,3297.2 C1925,3293.8 1927.9,3290.2 1930.6,3286.4 C1933.4,3282.6 1935.9,3278.6 1938.4,3274.5 C1940.8,3270.4 1943.1,3266.1 1945.3,3261.7 C1947.5,3257.4 1949.6,3253 1951.6,3248.6 C1953.5,3244.2 1955.4,3239.7 1957.1,3235.3 C1958.9,3230.9 1960.6,3226.5 1962.2,3222 C1963.8,3217.6 1965.3,3213.1 1966.8,3208.7 C1968.3,3204.2 1969.7,3199.8 1971.1,3195.3 C1972.6,3190.8 1973.9,3186.4 1975.3,3181.9 C1976.6,3177.5 1977.9,3173 1979.3,3168.6 C1980.6,3164.1 1981.9,3159.7 1983.2,3155.2 C1984.5,3150.7 1985.7,3146.3 1987,3141.8 C1988.3,3137.4 1989.5,3132.9 1990.8,3128.4 C1992,3124 1993.3,3119.5 1994.5,3115 C1995.7,3110.6 1996.9,3106.1 1998.1,3101.6 C1999.4,3097.1 2000.6,3092.6 2001.8,3088.1 C2003,3083.6 2004.1,3079.1 2005.3,3074.6 C2006.5,3070.1 2007.7,3065.6 2008.9,3061.1 C2010,3056.5 2011.2,3052 2012.4,3047.4 C2013.5,3042.9 2014.7,3038.3 2015.9,3033.7 C2017,3029.2 2018.2,3024.6 2019.3,3020 C2020.5,3015.4 2021.7,3010.8 2022.9,3006.2 C2024.1,3001.6 2025.3,2997 2026.6,2992.4 C2027.8,2987.9 2029.1,2983.3 2030.5,2978.8 C2031.9,2974.3 2033.3,2969.7 2034.8,2965.3 C2036.2,2960.8 2037.8,2956.4 2039.4,2952 C2041.1,2947.6 2042.8,2943.3 2044.6,2939 C2046.5,2934.7 2048.4,2930.5 2050.4,2926.3 C2052.5,2922.2 2054.6,2918.1 2056.9,2914.1 C2059.2,2910.1 2061.6,2906.1 2064.2,2902.3 C2066.7,2898.4 2069.4,2894.7 2072.3,2891 C2075.2,2887.3 2078.2,2883.8 2081.4,2880.3 C2084.6,2876.9 2087.9,2873.6 2091.3,2870.4 C2094.8,2867.2 2098.4,2864.2 2102.1,2861.4 C2105.8,2858.5 2109.7,2855.8 2113.6,2853.3 C2117.5,2850.8 2121.6,2848.5 2125.7,2846.4 C2129.8,2844.4 2134,2842.5 2138.3,2840.9 C2142.6,2839.2 2147,2837.9 2151.4,2836.7 C2155.9,2835.5 2160.4,2834.5 2164.9,2833.7 C2169.5,2832.9 2174.1,2832.2 2178.7,2831.7 C2183.3,2831.2 2188,2830.9 2192.7,2830.6 C2197.4,2830.3 2202.1,2830.2 2206.8,2830.1 C2211.5,2830 2216.2,2830 2221,2830 C2225.7,2830 2230.4,2830.2 2235.2,2830.3 C2239.9,2830.5 2244.6,2830.7 2249.4,2830.9 C2254.1,2831.2 2258.8,2831.4 2263.6,2831.7 C2268.3,2832 2273,2832.3 2277.7,2832.7 C2282.4,2833 2287.1,2833.3 2291.8,2833.7 C2296.5,2834 2301.2,2834.3 2305.9,2834.6 C2310.6,2834.9 2315.2,2835.2 2319.9,2835.5 C2324.5,2835.8 2329.1,2836 2333.7,2836.2 C2338.3,2836.4 2345.1,2836.5 2347.4,2836.6" stroke="#a8a8a8" stroke-width="2.8"/>
<path d="M1497,3323 C1499.3,3323 1506.4,3323 1511.2,3323 C1515.9,3323 1520.6,3323 1525.3,3323 C1530.1,3323.1 1534.8,3323.1 1539.5,3323.1 C1544.2,3323.1 1548.9,3323.1 1553.6,3323.1 C1558.3,3323.1 1563,3323.1 1567.7,3323.1 C1572.4,3323.1 1577.1,3323.1 1581.8,3323.1 C1586.5,3323.1 1591.2,3323.1 1595.9,3323.1 C1600.6,3323 1605.3,3323 1609.9,3323 C1614.6,3323 1619.3,3323 1624,3323 C1628.7,3323 1633.4,3323 1638.1,3323 C1642.7,3323 1647.4,3323 1652.1,3323 C1656.8,3323 1661.5,3323 1666.2,3323 C1670.9,3322.9 1675.5,3322.9 1680.2,3322.9 C1684.9,3322.9 1689.6,3322.9 1694.3,3322.9 C1699,3322.9 1703.7,3322.9 1708.4,3322.9 C1713.1,3322.9 1717.8,3322.9 1722.5,3322.9 C1727.2,3322.9 1731.9,3322.9 1736.6,3322.9 C1741.3,3322.9 1746.1,3322.9 1750.8,3322.9 C1755.5,3322.9 1760.2,3322.9 1765,3322.9 C1769.7,3322.9 1774.4,3322.9 1779.2,3323 C1783.9,3323 1788.7,3323 1793.4,3323 C1798.2,3323 1802.9,3323 1807.7,3323 C1812.4,3323.1 1817.2,3323.1 1822,3323.1 C1826.7,3323.2 1831.5,3323.2 1836.2,3323.3 C1840.9,3323.3 1845.7,3323.4 1850.4,3323.5 C1855.1,3323.5 1859.8,3323.7 1864.5,3323.7 C1869.2,3323.8 1873.9,3324.1 1878.5,3323.9 C1883.1,3323.8 1887.6,3323.7 1891.9,3322.9 C1896.3,3322.2 1900.5,3321.1 1904.5,3319.4 C1908.5,3317.7 1912.4,3315.4 1916,3312.7 C1919.6,3310.1 1923.1,3306.8 1926.4,3303.6 C1929.7,3300.3 1932.8,3296.6 1935.8,3293 C1938.9,3289.4 1941.7,3285.7 1944.5,3281.9 C1947.2,3278.1 1949.8,3274.2 1952.3,3270.2 C1954.9,3266.3 1957.2,3262.3 1959.5,3258.2 C1961.8,3254.1 1964,3250 1966.1,3245.8 C1968.2,3241.6 1970.1,3237.4 1972,3233.1 C1973.9,3228.8 1975.8,3224.4 1977.5,3220.1 C1979.2,3215.7 1980.9,3211.3 1982.5,3206.8 C1984.1,3202.4 1985.6,3197.9 1987.1,3193.4 C1988.5,3188.9 1990,3184.4 1991.3,3179.8 C1992.7,3175.3 1994,3170.7 1995.3,3166.2 C1996.6,3161.6 1997.8,3157 1999,3152.4 C2000.3,3147.9 2001.5,3143.3 2002.6,3138.7 C2003.8,3134.1 2004.9,3129.5 2006.1,3125 C2007.2,3120.4 2008.3,3115.8 2009.4,3111.2 C2010.5,3106.6 2011.5,3102 2012.6,3097.5 C2013.7,3092.9 2014.7,3088.3 2015.8,3083.7 C2016.8,3079.1 2017.9,3074.6 2018.9,3070 C2019.9,3065.4 2021,3060.8 2022,3056.3 C2023,3051.7 2024,3047.1 2025.1,3042.6 C2026.1,3038 2027.2,3033.4 2028.2,3028.9 C2029.3,3024.3 2030.3,3019.8 2031.4,3015.2 C2032.5,3010.6 2033.5,3006.1 2034.6,3001.5 C2035.7,2997 2036.9,2992.5 2038,2987.9 C2039.1,2983.4 2040.3,2978.9 2041.5,2974.3 C2042.6,2969.8 2043.9,2965.3 2045.1,2960.8 C2046.3,2956.3 2047.6,2951.8 2048.9,2947.3 C2050.2,2942.8 2051.5,2938.3 2052.9,2933.8 C2054.2,2929.3 2055.6,2924.8 2057.1,2920.3 C2058.5,2915.9 2060,2911.4 2061.5,2907 C2063.1,2902.5 2064.6,2898.1 2066.2,2893.6 C2067.9,2889.2 2069.5,2884.7 2071.2,2880.3 C2073,2875.9 2074.7,2871.5 2076.6,2867.1 C2078.4,2862.7 2080.3,2858.3 2082.2,2853.9 C2084.2,2849.5 2086.2,2845.2 2088.3,2840.8 C2090.4,2836.5 2092.5,2832.2 2094.8,2828 C2097,2823.8 2099.4,2819.6 2101.9,2815.6 C2104.4,2811.6 2107,2807.7 2109.8,2804 C2112.6,2800.3 2115.5,2796.7 2118.6,2793.4 C2121.7,2790.1 2125,2787 2128.5,2784.1 C2132,2781.3 2135.7,2778.7 2139.6,2776.4 C2143.5,2774 2147.6,2771.9 2151.8,2770.1 C2156,2768.2 2160.4,2766.6 2164.8,2765.2 C2169.3,2763.7 2173.9,2762.5 2178.5,2761.5 C2183.1,2760.4 2187.8,2759.6 2192.5,2758.9 C2197.2,2758.2 2202,2757.6 2206.7,2757.2 C2211.4,2756.8 2216.1,2756.5 2220.9,2756.4 C2225.6,2756.2 2230.3,2756.2 2235,2756.2 C2239.7,2756.2 2244.4,2756.4 2249.1,2756.6 C2253.8,2756.8 2258.5,2757.1 2263.2,2757.5 C2267.9,2757.8 2272.6,2758.2 2277.3,2758.6 C2282,2759 2286.7,2759.5 2291.4,2760 C2296.1,2760.4 2300.7,2760.9 2305.4,2761.4 C2310.1,2761.9 2314.8,2762.3 2319.5,2762.8 C2324.1,2763.2 2328.8,2763.6 2333.5,2764 C2338.2,2764.3 2345.2,2764.7 2347.5,2764.8" stroke="#ffc010" stroke-width="3.2"/>
<path d="M1497,3324 C1499.3,3324 1506.4,3324 1511.1,3324.1 C1515.8,3324.1 1520.5,3324.1 1525.2,3324.1 C1529.9,3324.2 1534.6,3324.2 1539.3,3324.2 C1543.9,3324.2 1548.6,3324.3 1553.3,3324.3 C1558,3324.3 1562.7,3324.4 1567.4,3324.4 C1572,3324.4 1576.7,3324.4 1581.4,3324.5 C1586.1,3324.5 1590.7,3324.5 1595.4,3324.5 C1600.1,3324.6 1604.7,3324.6 1609.4,3324.6 C1614.1,3324.6 1618.7,3324.6 1623.4,3324.7 C1628.1,3324.7 1632.7,3324.7 1637.4,3324.7 C1642.1,3324.7 1646.7,3324.8 1651.4,3324.8 C1656.1,3324.8 1660.7,3324.8 1665.4,3324.8 C1670.1,3324.8 1674.7,3324.8 1679.4,3324.8 C1684.1,3324.9 1688.7,3324.9 1693.4,3324.9 C1698.1,3324.9 1702.7,3324.9 1707.4,3324.9 C1712.1,3324.9 1716.8,3324.9 1721.4,3324.9 C1726.1,3324.9 1730.8,3324.9 1735.5,3324.9 C1740.2,3324.8 1744.8,3324.8 1749.5,3324.8 C1754.2,3324.8 1758.9,3324.8 1763.6,3324.8 C1768.3,3324.8 1773,3324.7 1777.7,3324.7 C1782.4,3324.7 1787.1,3324.7 1791.8,3324.7 C1796.5,3324.7 1801.2,3324.7 1805.9,3324.7 C1810.7,3324.7 1815.4,3324.7 1820.1,3324.8 C1824.9,3324.9 1829.7,3325 1834.4,3325.1 C1839.2,3325.2 1844,3325.4 1848.8,3325.5 C1853.6,3325.6 1858.4,3325.7 1863.1,3325.7 C1867.8,3325.7 1872.6,3325.6 1877.2,3325.3 C1881.8,3325 1886.5,3324.7 1891,3324 C1895.5,3323.4 1899.9,3322.5 1904.2,3321.4 C1908.5,3320.3 1912.7,3318.9 1916.8,3317.2 C1921,3315.6 1925,3313.7 1928.9,3311.6 C1932.8,3309.5 1936.6,3307.2 1940.3,3304.7 C1944,3302.2 1947.7,3299.5 1951.2,3296.6 C1954.7,3293.7 1958.1,3290.6 1961.5,3287.4 C1964.8,3284.2 1968,3280.8 1971.2,3277.4 C1974.3,3273.9 1977.4,3270.3 1980.4,3266.6 C1983.3,3262.9 1986.2,3259 1989,3255.1 C1991.8,3251.2 1994.5,3247.3 1997.1,3243.2 C1999.7,3239.2 2002.3,3235.1 2004.7,3231 C2007.1,3226.9 2009.5,3222.7 2011.8,3218.5 C2014.1,3214.3 2016.3,3210.1 2018.4,3205.9 C2020.5,3201.7 2022.6,3197.5 2024.6,3193.2 C2026.6,3189 2028.5,3184.7 2030.4,3180.4 C2032.3,3176.1 2034.1,3171.8 2035.9,3167.5 C2037.7,3163.2 2039.5,3158.9 2041.2,3154.5 C2042.9,3150.2 2044.6,3145.8 2046.2,3141.5 C2047.9,3137.1 2049.5,3132.8 2051.1,3128.4 C2052.7,3124 2054.3,3119.7 2055.8,3115.3 C2057.4,3110.9 2059,3106.6 2060.5,3102.2 C2062.1,3097.8 2063.6,3093.4 2065.2,3089 C2066.8,3084.7 2068.4,3080.3 2069.9,3075.9 C2071.5,3071.6 2073.1,3067.2 2074.8,3062.8 C2076.4,3058.5 2078,3054.1 2079.7,3049.8 C2081.4,3045.5 2083.1,3041.1 2084.8,3036.8 C2086.6,3032.5 2088.3,3028.2 2090.2,3023.9 C2092,3019.6 2093.9,3015.3 2095.8,3011.1 C2097.7,3006.8 2099.7,3002.6 2101.8,2998.3 C2103.8,2994.1 2105.9,2989.9 2108.1,2985.7 C2110.3,2981.5 2112.5,2977.4 2114.8,2973.2 C2117.1,2969.1 2119.5,2965 2122,2960.9 C2124.5,2956.8 2127.1,2952.8 2129.7,2948.8 C2132.4,2944.9 2135.1,2940.9 2137.9,2937.1 C2140.7,2933.3 2143.6,2929.6 2146.6,2925.9 C2149.6,2922.3 2152.7,2918.8 2155.8,2915.3 C2159,2911.9 2162.2,2908.6 2165.6,2905.5 C2168.9,2902.3 2172.4,2899.3 2175.9,2896.4 C2179.5,2893.6 2183.1,2890.8 2186.8,2888.2 C2190.6,2885.6 2194.4,2883.2 2198.3,2880.9 C2202.2,2878.6 2206.3,2876.4 2210.4,2874.4 C2214.5,2872.4 2218.8,2870.6 2223.1,2868.9 C2227.4,2867.2 2231.8,2865.6 2236.3,2864.2 C2240.8,2862.8 2245.4,2861.5 2250,2860.3 C2254.6,2859 2259.2,2858 2263.9,2856.9 C2268.6,2855.9 2273.3,2855 2278,2854.1 C2282.7,2853.3 2287.5,2852.5 2292.2,2851.7 C2296.9,2851 2301.7,2850.3 2306.3,2849.6 C2311,2849 2315.7,2848.3 2320.3,2847.7 C2325,2847.1 2329.6,2846.5 2334.1,2845.9 C2338.6,2845.3 2345.2,2844.4 2347.4,2844.1" stroke="#4a78cc" stroke-width="3.2"/>
<path d="M1497.1,3323.6 C1499.4,3323.5 1506.5,3323.4 1511.2,3323.3 C1515.9,3323.2 1520.6,3323.1 1525.3,3323 C1530,3322.9 1534.7,3322.8 1539.4,3322.6 C1544.1,3322.5 1548.8,3322.4 1553.5,3322.2 C1558.2,3322.1 1562.9,3322 1567.6,3321.8 C1572.3,3321.7 1577,3321.5 1581.7,3321.4 C1586.4,3321.3 1591.1,3321.1 1595.7,3321 C1600.4,3320.8 1605.1,3320.7 1609.8,3320.5 C1614.5,3320.4 1619.2,3320.3 1623.9,3320.1 C1628.6,3320 1633.2,3319.9 1637.9,3319.7 C1642.6,3319.6 1647.3,3319.5 1651.9,3319.4 C1656.6,3319.3 1661.2,3319.1 1665.9,3319 C1670.6,3318.9 1675.2,3318.8 1679.9,3318.8 C1684.5,3318.7 1689.2,3318.6 1693.9,3318.5 C1698.5,3318.5 1703.2,3318.4 1707.8,3318.4 C1712.5,3318.3 1717.1,3318.3 1721.8,3318.3 C1726.5,3318.3 1731.1,3318.3 1735.8,3318.3 C1740.5,3318.3 1745.1,3318.3 1749.8,3318.4 C1754.5,3318.4 1759.2,3318.5 1763.8,3318.6 C1768.5,3318.6 1773.2,3318.7 1777.9,3318.8 C1782.6,3319 1787.3,3319.1 1792,3319.2 C1796.7,3319.4 1801.4,3319.5 1806.2,3319.7 C1810.9,3319.9 1815.6,3320.1 1820.3,3320.2 C1825.1,3320.4 1829.8,3320.6 1834.5,3320.8 C1839.3,3321 1844,3321.2 1848.7,3321.4 C1853.5,3321.7 1858.2,3321.9 1863,3322.1 C1867.7,3322.3 1872.5,3322.5 1877.2,3322.7 C1882,3322.9 1886.8,3323.2 1891.5,3323.4 C1896.3,3323.6 1901,3323.8 1905.8,3324 C1910.6,3324.1 1915.3,3324.3 1920.1,3324.5 C1924.8,3324.7 1929.5,3324.9 1934.2,3325 C1938.9,3325.1 1943.6,3325.3 1948.2,3325.3 C1952.8,3325.2 1957.4,3325.1 1961.9,3324.6 C1966.4,3324 1970.8,3323.3 1975.2,3322.1 C1979.6,3320.9 1983.9,3319.3 1988.1,3317.4 C1992.3,3315.6 1996.5,3313.4 2000.5,3311.1 C2004.5,3308.7 2008.5,3306 2012.3,3303.3 C2016.1,3300.5 2019.8,3297.5 2023.4,3294.5 C2027,3291.4 2030.5,3288.2 2033.8,3285 C2037.1,3281.7 2040.3,3278.4 2043.4,3275 C2046.6,3271.6 2049.5,3268.1 2052.4,3264.5 C2055.3,3260.9 2058.1,3257.3 2060.8,3253.5 C2063.5,3249.8 2066.1,3246 2068.6,3242.2 C2071.1,3238.3 2073.5,3234.4 2075.9,3230.4 C2078.3,3226.5 2080.5,3222.4 2082.7,3218.4 C2085,3214.3 2087.1,3210.1 2089.2,3206 C2091.3,3201.8 2093.3,3197.6 2095.3,3193.4 C2097.3,3189.1 2099.2,3184.8 2101.1,3180.5 C2103,3176.2 2104.9,3171.9 2106.7,3167.5 C2108.5,3163.1 2110.3,3158.8 2112.1,3154.4 C2113.9,3150 2115.6,3145.5 2117.4,3141.1 C2119.1,3136.7 2120.8,3132.3 2122.6,3127.8 C2124.3,3123.4 2126,3118.9 2127.8,3114.5 C2129.5,3110.1 2131.2,3105.6 2133,3101.2 C2134.8,3096.8 2136.5,3092.4 2138.3,3088 C2140.1,3083.6 2142,3079.2 2143.8,3074.8 C2145.7,3070.5 2147.6,3066.2 2149.5,3061.9 C2151.4,3057.6 2153.4,3053.3 2155.4,3049.1 C2157.5,3044.8 2159.6,3040.6 2161.7,3036.5 C2163.8,3032.3 2166,3028.2 2168.3,3024.1 C2170.5,3020 2172.8,3016 2175.2,3012 C2177.5,3008.1 2180,3004.1 2182.5,3000.2 C2185,2996.4 2187.5,2992.5 2190.2,2988.8 C2192.8,2985 2195.6,2981.3 2198.4,2977.7 C2201.2,2974 2204,2970.4 2207,2966.9 C2210,2963.4 2213,2960 2216.2,2956.6 C2219.3,2953.2 2222.5,2949.9 2225.8,2946.7 C2229.2,2943.5 2232.6,2940.3 2236.1,2937.3 C2239.6,2934.2 2243.2,2931.2 2246.9,2928.3 C2250.5,2925.4 2254.3,2922.6 2258.1,2919.9 C2262,2917.2 2265.9,2914.5 2269.9,2912 C2273.8,2909.4 2277.9,2907 2282,2904.7 C2286.1,2902.3 2290.3,2900.1 2294.5,2897.9 C2298.8,2895.8 2303.1,2893.8 2307.4,2891.9 C2311.8,2889.9 2316.2,2888.1 2320.6,2886.4 C2325,2884.7 2329.5,2883.1 2334,2881.7 C2338.6,2880.2 2345.4,2878.3 2347.7,2877.6" stroke="#72ae48" stroke-width="3.2"/>
<path d="M1496.9,3324.7 C1499.2,3324.8 1506.3,3324.8 1511.1,3324.9 C1515.8,3325 1520.5,3325 1525.2,3325.1 C1529.9,3325.1 1534.6,3325.2 1539.3,3325.2 C1544,3325.2 1548.7,3325.3 1553.4,3325.3 C1558.1,3325.4 1562.8,3325.4 1567.5,3325.4 C1572.2,3325.5 1576.9,3325.5 1581.6,3325.5 C1586.3,3325.6 1591,3325.6 1595.6,3325.6 C1600.3,3325.6 1605,3325.7 1609.7,3325.7 C1614.3,3325.7 1619,3325.7 1623.7,3325.7 C1628.4,3325.7 1633,3325.8 1637.7,3325.8 C1642.4,3325.8 1647,3325.8 1651.7,3325.8 C1656.3,3325.8 1661,3325.8 1665.7,3325.8 C1670.3,3325.8 1675,3325.8 1679.6,3325.8 C1684.3,3325.9 1689,3325.9 1693.6,3325.9 C1698.3,3325.9 1702.9,3325.9 1707.6,3325.9 C1712.2,3325.9 1716.9,3325.9 1721.5,3325.9 C1726.2,3325.9 1730.9,3325.9 1735.5,3325.9 C1740.2,3325.9 1744.8,3325.9 1749.5,3325.8 C1754.1,3325.8 1758.8,3325.8 1763.4,3325.8 C1768.1,3325.8 1772.8,3325.8 1777.4,3325.8 C1782.1,3325.8 1786.7,3325.8 1791.4,3325.8 C1796.1,3325.8 1800.7,3325.8 1805.4,3325.8 C1810.1,3325.8 1814.7,3325.8 1819.4,3325.8 C1824.1,3325.8 1828.7,3325.8 1833.4,3325.8 C1838.1,3325.8 1842.8,3325.8 1847.5,3325.8 C1852.1,3325.8 1856.8,3325.8 1861.5,3325.8 C1866.2,3325.8 1870.9,3325.8 1875.6,3325.8 C1880.3,3325.8 1885,3325.8 1889.7,3325.8 C1894.4,3325.8 1899.1,3325.8 1903.8,3325.8 C1908.5,3325.9 1913.2,3325.9 1917.9,3325.9 C1922.6,3325.9 1927.4,3325.9 1932.1,3325.9 C1936.8,3325.9 1941.5,3325.9 1946.3,3326 C1951,3326 1955.7,3326 1960.5,3326 C1965.2,3326.1 1970,3326.1 1974.7,3326.1 C1979.5,3326.1 1984.2,3326.1 1989,3326.1 C1993.7,3326 1998.5,3326 2003.2,3325.9 C2007.9,3325.8 2012.7,3325.7 2017.4,3325.6 C2022.1,3325.4 2026.8,3325.2 2031.5,3324.9 C2036.2,3324.7 2040.9,3324.4 2045.6,3324 C2050.2,3323.6 2054.9,3323.2 2059.5,3322.6 C2064.1,3322.1 2068.8,3321.5 2073.3,3320.8 C2077.9,3320.1 2082.5,3319.4 2087,3318.5 C2091.5,3317.6 2096,3316.7 2100.5,3315.6 C2105,3314.6 2109.4,3313.4 2113.8,3312.2 C2118.2,3310.9 2122.6,3309.6 2126.9,3308.1 C2131.3,3306.7 2135.6,3305.1 2139.8,3303.5 C2144.1,3301.8 2148.3,3300.1 2152.4,3298.2 C2156.6,3296.3 2160.7,3294.4 2164.8,3292.3 C2168.8,3290.2 2172.9,3288 2176.8,3285.7 C2180.8,3283.4 2184.7,3281 2188.6,3278.5 C2192.4,3276 2196.2,3273.3 2200,3270.6 C2203.7,3267.9 2207.4,3265 2211,3262.1 C2214.7,3259.2 2218.3,3256.1 2221.8,3253 C2225.4,3249.9 2228.9,3246.8 2232.3,3243.5 C2235.7,3240.3 2239.1,3236.9 2242.5,3233.5 C2245.9,3230.2 2249.2,3226.7 2252.4,3223.2 C2255.7,3219.7 2258.9,3216.2 2262.1,3212.6 C2265.3,3209.1 2268.4,3205.4 2271.5,3201.8 C2274.6,3198.2 2277.7,3194.5 2280.7,3190.8 C2283.8,3187.1 2286.7,3183.4 2289.7,3179.7 C2292.7,3175.9 2295.6,3172.2 2298.5,3168.5 C2301.3,3164.7 2304.2,3161 2307,3157.2 C2309.8,3153.4 2312.6,3149.7 2315.4,3145.9 C2318.2,3142.2 2320.9,3138.4 2323.6,3134.6 C2326.3,3130.9 2329,3127.1 2331.7,3123.4 C2334.3,3119.6 2336.9,3115.9 2339.5,3112.2 C2342.2,3108.5 2346,3103 2347.3,3101.1" stroke="#3b6fa3" stroke-width="3.4"/>
<path d="M1497,3317.1 C1499.3,3317.5 1506.3,3318.7 1511,3319.3 C1515.7,3319.8 1520.4,3320.2 1525.1,3320.6 C1529.8,3320.9 1534.5,3321 1539.2,3321.2 C1543.9,3321.3 1548.6,3321.2 1553.3,3321.2 C1558,3321.1 1562.7,3321 1567.4,3320.8 C1572.1,3320.6 1576.8,3320.3 1581.5,3320 C1586.3,3319.8 1591,3319.4 1595.7,3319.1 C1600.4,3318.8 1605.1,3318.5 1609.8,3318.2 C1614.5,3317.9 1619.2,3317.5 1623.9,3317.2 C1628.6,3316.9 1633.3,3316.6 1638.1,3316.4 C1642.8,3316.1 1647.5,3315.8 1652.2,3315.5 C1656.9,3315.3 1661.6,3315 1666.3,3314.8 C1671.1,3314.5 1675.8,3314.3 1680.5,3314.1 C1685.2,3313.8 1689.9,3313.6 1694.7,3313.4 C1699.4,3313.2 1704.1,3313 1708.8,3312.9 C1713.5,3312.7 1718.3,3312.5 1723,3312.4 C1727.7,3312.3 1732.4,3312.1 1737.1,3312 C1741.9,3311.9 1746.6,3311.8 1751.3,3311.7 C1756,3311.6 1760.8,3311.5 1765.5,3311.4 C1770.2,3311.4 1774.9,3311.3 1779.7,3311.2 C1784.4,3311.2 1789.1,3311.1 1793.8,3311.1 C1798.6,3311.1 1803.3,3311.1 1808,3311 C1812.8,3311 1817.5,3311 1822.2,3311 C1826.9,3311 1831.7,3311 1836.4,3311 C1841.1,3311 1845.9,3311 1850.6,3311 C1855.3,3311.1 1860.1,3311.1 1864.8,3311.1 C1869.5,3311.1 1874.3,3311.2 1879,3311.2 C1883.7,3311.2 1888.5,3311.3 1893.2,3311.3 C1897.9,3311.3 1902.7,3311.4 1907.4,3311.4 C1912.1,3311.5 1916.9,3311.5 1921.6,3311.5 C1926.3,3311.6 1931.1,3311.6 1935.8,3311.7 C1940.5,3311.7 1945.3,3311.7 1950,3311.8 C1954.7,3311.8 1959.5,3311.9 1964.2,3311.9 C1968.9,3311.9 1973.7,3312 1978.4,3312 C1983.1,3312 1987.9,3312.1 1992.6,3312.1 C1997.4,3312.2 2002.1,3312.2 2006.8,3312.2 C2011.6,3312.3 2016.3,3312.3 2021,3312.4 C2025.8,3312.4 2030.5,3312.4 2035.2,3312.5 C2040,3312.5 2044.7,3312.5 2049.4,3312.6 C2054.2,3312.6 2058.9,3312.6 2063.7,3312.7 C2068.4,3312.7 2073.1,3312.7 2077.9,3312.8 C2082.6,3312.8 2087.3,3312.8 2092.1,3312.9 C2096.8,3312.9 2101.5,3312.9 2106.3,3313 C2111,3313 2115.7,3313 2120.5,3313.1 C2125.2,3313.1 2129.9,3313.1 2134.7,3313.2 C2139.4,3313.2 2144.1,3313.2 2148.9,3313.2 C2153.6,3313.3 2158.3,3313.3 2163.1,3313.3 C2167.8,3313.3 2172.5,3313.4 2177.3,3313.4 C2182,3313.4 2186.7,3313.5 2191.5,3313.5 C2196.2,3313.5 2200.9,3313.5 2205.7,3313.6 C2210.4,3313.6 2215.1,3313.6 2219.9,3313.6 C2224.6,3313.6 2229.3,3313.7 2234,3313.7 C2238.8,3313.7 2243.5,3313.7 2248.2,3313.7 C2253,3313.8 2257.7,3313.8 2262.4,3313.8 C2267.1,3313.8 2271.9,3313.8 2276.6,3313.9 C2281.3,3313.9 2286.1,3313.9 2290.8,3313.9 C2295.5,3313.9 2300.2,3313.9 2304.9,3314 C2309.7,3314 2314.4,3314 2319.1,3314 C2323.8,3314 2328.6,3314 2333.3,3314 C2338,3314 2345.1,3314.1 2347.4,3314.1" stroke="#b05a24" stroke-width="3.0"/>
</g>
</g>
</g>
</svg></body></html>
